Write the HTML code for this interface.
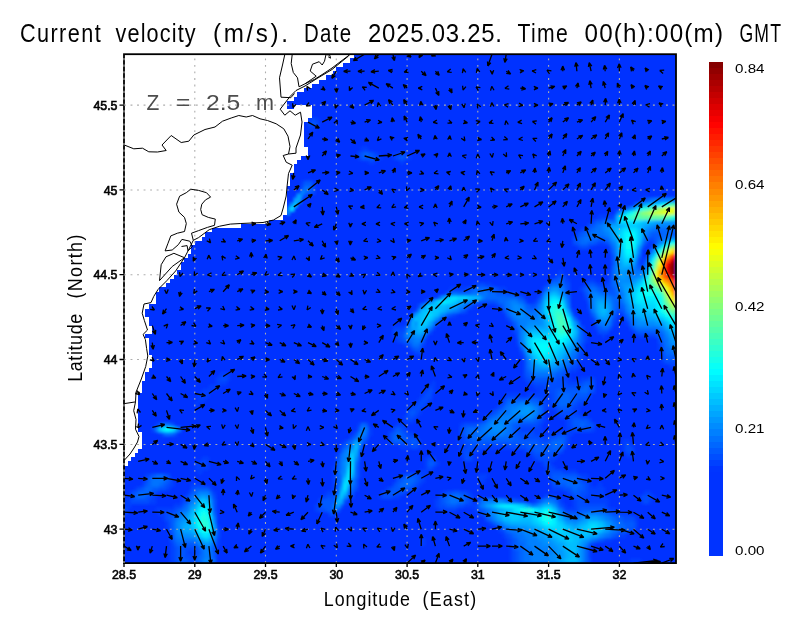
<!DOCTYPE html>
<html><head><meta charset="utf-8"><title>Current velocity</title>
<style>html,body{margin:0;padding:0;background:#fff}svg{display:block}text{font-family:"Liberation Sans",sans-serif;fill:#000}.thin{stroke:none}</style></head><body>
<svg width="800" height="618" viewBox="0 0 800 618">
<rect width="800" height="618" fill="#fff"/>
<defs><clipPath id="oc"><path d="M354,54h322v4h-322zM350,58h326v5h-326zM343,63h333v4h-333zM336,67h340v4h-340zM333,71h343v4h-343zM326,75h350v5h-350zM319,80h357v4h-357zM312,84h364v4h-364zM304,88h372v4h-372zM297,92h379v5h-379zM294,97h382v4h-382zM287,101h389v4h-389zM287,105h7v4h-7zM312,105h364v4h-364zM312,109h364v5h-364zM312,114h364v4h-364zM308,118h368v4h-368zM304,122h372v4h-372zM304,126h372v5h-372zM304,131h372v4h-372zM304,135h372v4h-372zM304,139h372v4h-372zM304,143h372v4h-372zM308,147h368v5h-368zM308,152h368v4h-368zM301,156h375v4h-375zM297,160h379v4h-379zM294,164h382v5h-382zM294,169h382v4h-382zM290,173h386v4h-386zM290,177h386v4h-386zM290,181h386v5h-386zM287,186h389v4h-389zM287,190h389v4h-389zM287,194h389v4h-389zM287,198h389v5h-389zM287,203h389v4h-389zM287,207h389v4h-389zM287,211h389v4h-389zM283,215h393v5h-393zM269,220h407v4h-407zM241,224h435v4h-435zM212,228h464v4h-464zM205,232h471v5h-471zM202,237h474v4h-474zM195,241h481v4h-481zM191,245h485v4h-485zM191,249h485v5h-485zM188,254h488v4h-488zM184,258h492v4h-492zM181,262h495v4h-495zM181,266h495v4h-495zM177,270h499v5h-499zM174,275h502v4h-502zM170,279h506v4h-506zM166,283h510v4h-510zM159,287h517v5h-517zM156,292h520v4h-520zM156,296h520v4h-520zM156,300h520v4h-520zM149,304h527v5h-527zM145,309h531v4h-531zM145,313h531v4h-531zM149,317h527v4h-527zM149,321h527v5h-527zM152,326h524v4h-524zM152,330h524v4h-524zM145,334h531v4h-531zM149,338h527v5h-527zM149,343h527v4h-527zM149,347h527v4h-527zM149,351h527v4h-527zM152,355h524v5h-524zM152,360h524v4h-524zM152,364h524v4h-524zM149,368h527v4h-527zM145,372h531v5h-531zM145,377h531v4h-531zM142,381h534v4h-534zM142,385h534v4h-534zM142,389h534v4h-534zM138,393h538v5h-538zM138,398h538v4h-538zM138,402h538v4h-538zM138,406h538v4h-538zM138,410h538v5h-538zM138,415h538v4h-538zM138,419h538v4h-538zM138,423h538v4h-538zM138,427h538v5h-538zM142,432h534v4h-534zM142,436h534v4h-534zM142,440h534v4h-534zM142,444h534v5h-534zM138,449h538v4h-538zM135,453h541v4h-541zM131,457h545v4h-545zM128,461h548v5h-548zM124,466h552v4h-552zM124,470h552v4h-552zM124,474h552v4h-552zM124,478h552v5h-552zM124,483h552v4h-552zM124,487h552v4h-552zM124,491h552v4h-552zM124,495h552v4h-552zM124,499h552v5h-552zM124,504h552v4h-552zM124,508h552v4h-552zM124,512h552v4h-552zM124,516h552v5h-552zM124,521h552v4h-552zM124,525h552v4h-552zM124,529h552v4h-552zM124,533h552v5h-552zM124,538h552v4h-552zM124,542h552v4h-552zM124,546h552v4h-552zM124,550h552v5h-552zM124,555h552v4h-552zM124,559h552v4h-552z"/></clipPath><filter id="bl" x="-5%" y="-5%" width="110%" height="110%"><feGaussianBlur stdDeviation="1.60"/></filter></defs>
<path d="M354,54h322v4h-322zM350,58h326v5h-326zM343,63h333v4h-333zM336,67h340v4h-340zM333,71h343v4h-343zM326,75h350v5h-350zM319,80h357v4h-357zM312,84h364v4h-364zM304,88h372v4h-372zM297,92h379v5h-379zM294,97h382v4h-382zM287,101h389v4h-389zM287,105h7v4h-7zM312,105h364v4h-364zM312,109h364v5h-364zM312,114h364v4h-364zM308,118h368v4h-368zM304,122h372v4h-372zM304,126h372v5h-372zM304,131h372v4h-372zM304,135h372v4h-372zM304,139h372v4h-372zM304,143h372v4h-372zM308,147h368v5h-368zM308,152h368v4h-368zM301,156h375v4h-375zM297,160h379v4h-379zM294,164h382v5h-382zM294,169h382v4h-382zM290,173h386v4h-386zM290,177h386v4h-386zM290,181h386v5h-386zM287,186h389v4h-389zM287,190h389v4h-389zM287,194h389v4h-389zM287,198h389v5h-389zM287,203h389v4h-389zM287,207h389v4h-389zM287,211h389v4h-389zM283,215h393v5h-393zM269,220h407v4h-407zM241,224h435v4h-435zM212,228h464v4h-464zM205,232h471v5h-471zM202,237h474v4h-474zM195,241h481v4h-481zM191,245h485v4h-485zM191,249h485v5h-485zM188,254h488v4h-488zM184,258h492v4h-492zM181,262h495v4h-495zM181,266h495v4h-495zM177,270h499v5h-499zM174,275h502v4h-502zM170,279h506v4h-506zM166,283h510v4h-510zM159,287h517v5h-517zM156,292h520v4h-520zM156,296h520v4h-520zM156,300h520v4h-520zM149,304h527v5h-527zM145,309h531v4h-531zM145,313h531v4h-531zM149,317h527v4h-527zM149,321h527v5h-527zM152,326h524v4h-524zM152,330h524v4h-524zM145,334h531v4h-531zM149,338h527v5h-527zM149,343h527v4h-527zM149,347h527v4h-527zM149,351h527v4h-527zM152,355h524v5h-524zM152,360h524v4h-524zM152,364h524v4h-524zM149,368h527v4h-527zM145,372h531v5h-531zM145,377h531v4h-531zM142,381h534v4h-534zM142,385h534v4h-534zM142,389h534v4h-534zM138,393h538v5h-538zM138,398h538v4h-538zM138,402h538v4h-538zM138,406h538v4h-538zM138,410h538v5h-538zM138,415h538v4h-538zM138,419h538v4h-538zM138,423h538v4h-538zM138,427h538v5h-538zM142,432h534v4h-534zM142,436h534v4h-534zM142,440h534v4h-534zM142,444h534v5h-534zM138,449h538v4h-538zM135,453h541v4h-541zM131,457h545v4h-545zM128,461h548v5h-548zM124,466h552v4h-552zM124,470h552v4h-552zM124,474h552v4h-552zM124,478h552v5h-552zM124,483h552v4h-552zM124,487h552v4h-552zM124,491h552v4h-552zM124,495h552v4h-552zM124,499h552v5h-552zM124,504h552v4h-552zM124,508h552v4h-552zM124,512h552v4h-552zM124,516h552v5h-552zM124,521h552v4h-552zM124,525h552v4h-552zM124,529h552v4h-552zM124,533h552v5h-552zM124,538h552v4h-552zM124,542h552v4h-552zM124,546h552v4h-552zM124,550h552v5h-552zM124,555h552v4h-552zM124,559h552v4h-552z" fill="#0033ff"/>
<g clip-path="url(#oc)"><g filter="url(#bl)">
<rect x="104" y="34" width="592" height="549" fill="#0033ff"/>
<path d="M308,118h4v4h-4zM315,118h4v4h-4zM308,126h7v5h-7zM361,147h7v5h-7zM375,152h4v4h-4zM393,152h7v4h-7zM358,156h3v4h-3zM379,156h3v4h-3zM393,156h3v4h-3zM407,156h4v4h-4zM368,160h7v4h-7zM400,160h4v4h-4zM301,181h3v5h-3zM312,181h3v5h-3zM304,194h4v4h-4zM623,207h3v4h-3zM598,215h14v5h-14zM591,220h4v4h-4zM580,228h4v4h-4zM598,241h7v4h-7zM651,241h4v4h-4zM577,245h3v4h-3zM588,245h3v4h-3zM609,249h3v5h-3zM648,249h3v5h-3zM559,270h4v5h-4zM609,270h3v5h-3zM609,275h3v4h-3zM549,279h3v4h-3zM566,279h4v4h-4zM588,279h7v4h-7zM474,283h4v4h-4zM485,283h7v4h-7zM545,283h4v4h-4zM584,283h4v4h-4zM598,283h11v4h-11zM450,287h17v5h-17zM499,287h7v5h-7zM542,287h3v5h-3zM580,287h4v5h-4zM517,292h3v4h-3zM435,296h4v4h-4zM584,296h4v4h-4zM534,300h4v4h-4zM471,304h3v5h-3zM496,304h3v5h-3zM414,309h4v4h-4zM588,309h3v4h-3zM411,313h3v4h-3zM453,313h4v4h-4zM616,313h3v4h-3zM506,317h4v4h-4zM591,317h4v4h-4zM510,321h3v5h-3zM612,321h4v5h-4zM626,321h4v5h-4zM393,326h11v4h-11zM595,326h3v4h-3zM513,330h4v4h-4zM393,334h3v4h-3zM584,334h4v4h-4zM602,334h3v4h-3zM637,334h18v4h-18zM396,338h4v5h-4zM584,338h4v5h-4zM404,343h3v4h-3zM421,343h4v4h-4zM517,343h3v4h-3zM658,343h4v4h-4zM658,347h4v4h-4zM414,351h4v4h-4zM520,351h4v4h-4zM580,351h4v4h-4zM580,355h4v5h-4zM577,360h3v4h-3zM662,360h3v4h-3zM577,364h3v4h-3zM669,364h7v4h-7zM570,368h7v4h-7zM220,372h10v5h-10zM566,372h4v5h-4zM216,377h4v4h-4zM227,377h3v4h-3zM524,377h3v4h-3zM563,377h7v4h-7zM580,377h8v4h-8zM591,377h4v4h-4zM216,381h11v4h-11zM432,381h3v4h-3zM527,381h7v4h-7zM566,381h14v4h-14zM209,385h11v4h-11zM428,385h7v4h-7zM534,385h11v4h-11zM202,389h10v4h-10zM425,389h3v4h-3zM432,389h3v4h-3zM538,389h11v4h-11zM198,393h11v5h-11zM421,393h4v5h-4zM506,393h14v5h-14zM527,393h25v5h-25zM198,398h7v4h-7zM418,398h3v4h-3zM428,398h4v4h-4zM503,398h3v4h-3zM542,398h10v4h-10zM195,402h3v4h-3zM414,402h4v4h-4zM425,402h3v4h-3zM499,402h4v4h-4zM545,402h7v4h-7zM577,402h7v4h-7zM407,406h4v4h-4zM421,406h4v4h-4zM496,406h3v4h-3zM545,406h4v4h-4zM552,406h4v4h-4zM573,406h7v4h-7zM418,410h3v5h-3zM556,410h3v5h-3zM573,410h7v5h-7zM404,415h3v4h-3zM414,415h4v4h-4zM485,415h3v4h-3zM542,415h3v4h-3zM559,415h7v4h-7zM580,415h8v4h-8zM404,419h10v4h-10zM481,419h4v4h-4zM542,419h3v4h-3zM566,419h4v4h-4zM156,423h3v4h-3zM358,423h3v4h-3zM396,423h11v4h-11zM460,423h4v4h-4zM538,423h4v4h-4zM566,423h4v4h-4zM368,427h4v5h-4zM404,427h3v5h-3zM520,427h22v5h-22zM566,427h7v5h-7zM591,427h4v5h-4zM159,432h4v4h-4zM368,432h4v4h-4zM407,432h7v4h-7zM534,432h11v4h-11zM549,432h10v4h-10zM566,432h7v4h-7zM457,436h7v4h-7zM542,436h7v4h-7zM566,436h4v4h-4zM343,440h4v4h-4zM365,440h3v4h-3zM418,440h3v4h-3zM457,440h7v4h-7zM566,440h4v4h-4zM623,440h7v4h-7zM340,444h3v5h-3zM361,444h4v5h-4zM400,444h11v5h-11zM418,444h3v5h-3zM460,444h7v5h-7zM488,444h22v5h-22zM623,444h3v5h-3zM630,444h4v5h-4zM460,449h4v4h-4zM471,449h10v4h-10zM524,449h3v4h-3zM623,449h3v4h-3zM336,453h4v4h-4zM460,453h4v4h-4zM471,453h3v4h-3zM531,453h3v4h-3zM556,453h3v4h-3zM626,453h8v4h-8zM202,457h7v4h-7zM425,457h3v4h-3zM471,457h3v4h-3zM534,457h4v4h-4zM549,457h7v4h-7zM195,461h7v5h-7zM205,461h4v5h-4zM358,461h3v5h-3zM425,461h3v5h-3zM435,461h4v5h-4zM542,461h3v5h-3zM549,461h3v5h-3zM195,466h14v4h-14zM333,466h3v4h-3zM358,466h3v4h-3zM425,466h3v4h-3zM432,466h3v4h-3zM545,466h4v4h-4zM552,466h4v4h-4zM198,470h4v4h-4zM333,470h3v4h-3zM358,470h3v4h-3zM418,470h10v4h-10zM545,470h4v4h-4zM563,470h14v4h-14zM145,474h4v4h-4zM333,474h3v4h-3zM358,474h3v4h-3zM400,474h4v4h-4zM421,474h4v4h-4zM478,474h10v4h-10zM580,474h8v4h-8zM170,478h4v5h-4zM333,478h3v5h-3zM421,478h4v5h-4zM478,478h7v5h-7zM549,478h3v5h-3zM584,478h7v5h-7zM142,483h3v4h-3zM170,483h4v4h-4zM191,483h14v4h-14zM333,483h3v4h-3zM418,483h3v4h-3zM588,483h3v4h-3zM598,483h4v4h-4zM135,487h3v4h-3zM166,487h4v4h-4zM209,487h3v4h-3zM333,487h3v4h-3zM386,487h3v4h-3zM414,487h4v4h-4zM552,487h11v4h-11zM588,487h17v4h-17zM156,491h3v4h-3zM188,491h3v4h-3zM212,491h4v4h-4zM326,491h7v4h-7zM404,491h3v4h-3zM442,491h4v4h-4zM467,491h4v4h-4zM566,491h4v4h-4zM588,491h17v4h-17zM644,491h7v4h-7zM128,495h3v4h-3zM152,495h4v4h-4zM184,495h4v4h-4zM322,495h4v4h-4zM350,495h4v4h-4zM379,495h3v4h-3zM393,495h7v4h-7zM471,495h3v4h-3zM556,495h3v4h-3zM570,495h3v4h-3zM584,495h21v4h-21zM651,495h4v4h-4zM124,499h7v5h-7zM149,499h7v5h-7zM181,499h3v5h-3zM435,499h4v5h-4zM471,499h3v5h-3zM524,499h3v5h-3zM534,499h4v5h-4zM559,499h4v5h-4zM573,499h4v5h-4zM584,499h25v5h-25zM641,499h3v5h-3zM648,499h3v5h-3zM124,504h7v4h-7zM174,504h7v4h-7zM315,504h4v4h-4zM435,504h4v4h-4zM464,504h14v4h-14zM563,504h3v4h-3zM573,504h4v4h-4zM605,504h4v4h-4zM156,508h18v4h-18zM315,508h4v4h-4zM439,508h18v4h-18zM474,508h4v4h-4zM566,508h11v4h-11zM609,508h7v4h-7zM124,512h4v4h-4zM159,512h7v4h-7zM478,512h3v4h-3zM619,512h11v4h-11zM163,516h3v5h-3zM634,516h3v5h-3zM166,521h4v4h-4zM488,521h4v4h-4zM166,525h4v4h-4zM216,525h4v4h-4zM496,525h3v4h-3zM499,529h4v4h-4zM503,533h3v5h-3zM619,533h7v5h-7zM216,538h4v4h-4zM421,538h4v4h-4zM506,538h4v4h-4zM605,538h7v4h-7zM170,542h4v4h-4zM216,542h4v4h-4zM421,542h4v4h-4zM506,542h4v4h-4zM591,542h4v4h-4zM170,546h4v4h-4zM510,546h3v4h-3zM588,546h3v4h-3zM170,550h4v5h-4zM188,550h7v5h-7zM510,550h3v5h-3zM588,550h3v5h-3zM170,555h4v4h-4zM191,555h4v4h-4zM510,555h3v4h-3zM588,555h3v4h-3zM170,559h4v4h-4zM510,559h3v4h-3zM630,559h11v4h-11z" fill="#0041ff"/>
<path d="M312,118h3v4h-3zM308,122h4v4h-4zM315,122h4v4h-4zM358,152h3v4h-3zM372,152h3v4h-3zM400,152h7v4h-7zM375,156h4v4h-4zM396,156h4v4h-4zM404,156h3v4h-3zM301,186h3v4h-3zM312,186h3v4h-3zM312,190h3v4h-3zM641,198h3v5h-3zM612,215h4v5h-4zM588,224h3v4h-3zM584,228h4v4h-4zM577,232h3v5h-3zM573,237h4v4h-4zM648,237h7v4h-7zM573,241h4v4h-4zM595,241h3v4h-3zM605,241h4v4h-4zM644,241h4v4h-4zM580,245h8v4h-8zM609,245h3v4h-3zM651,245h4v4h-4zM637,258h4v4h-4zM644,258h4v4h-4zM637,262h4v4h-4zM641,266h3v4h-3zM556,275h10v4h-10zM563,279h3v4h-3zM609,279h3v4h-3zM478,283h7v4h-7zM566,283h4v4h-4zM595,283h3v4h-3zM609,283h3v4h-3zM467,287h4v5h-4zM496,287h3v5h-3zM566,287h4v5h-4zM602,287h10v5h-10zM506,292h11v4h-11zM584,292h4v4h-4zM520,296h4v4h-4zM538,296h4v4h-4zM425,300h3v4h-3zM478,300h18v4h-18zM524,300h3v4h-3zM418,304h3v5h-3zM467,304h4v5h-4zM499,304h4v5h-4zM531,304h3v5h-3zM588,304h3v5h-3zM464,309h3v4h-3zM503,309h3v4h-3zM570,309h3v4h-3zM616,309h7v4h-7zM450,313h3v4h-3zM623,313h3v4h-3zM612,317h4v4h-4zM435,321h4v5h-4zM595,321h3v5h-3zM404,326h3v4h-3zM432,326h3v4h-3zM513,326h4v4h-4zM580,326h4v4h-4zM609,326h3v4h-3zM630,326h4v4h-4zM393,330h11v4h-11zM428,330h4v4h-4zM598,330h11v4h-11zM634,330h3v4h-3zM396,334h8v4h-8zM425,334h3v4h-3zM655,334h3v4h-3zM400,338h4v5h-4zM517,338h3v5h-3zM658,338h4v5h-4zM407,343h4v4h-4zM580,343h4v4h-4zM411,347h3v4h-3zM580,347h4v4h-4zM418,351h3v4h-3zM662,351h3v4h-3zM577,355h3v5h-3zM662,355h3v5h-3zM524,360h3v4h-3zM665,360h11v4h-11zM524,364h3v4h-3zM570,364h7v4h-7zM524,368h3v4h-3zM566,368h4v4h-4zM524,372h3v5h-3zM563,372h3v5h-3zM220,377h7v4h-7zM527,377h4v4h-4zM556,377h7v4h-7zM588,377h3v4h-3zM534,381h32v4h-32zM580,381h4v4h-4zM591,381h4v4h-4zM545,385h32v4h-32zM591,385h4v4h-4zM428,389h4v4h-4zM549,389h7v4h-7zM591,389h4v4h-4zM425,393h7v5h-7zM552,393h4v5h-4zM588,393h3v5h-3zM421,398h7v4h-7zM538,398h4v4h-4zM552,398h4v4h-4zM577,398h11v4h-11zM418,402h7v4h-7zM503,402h3v4h-3zM542,402h3v4h-3zM552,402h4v4h-4zM573,402h4v4h-4zM411,406h10v4h-10zM499,406h4v4h-4zM542,406h3v4h-3zM556,406h3v4h-3zM570,406h3v4h-3zM407,410h4v5h-4zM414,410h4v5h-4zM492,410h4v5h-4zM542,410h3v5h-3zM559,410h14v5h-14zM407,415h7v4h-7zM566,415h14v4h-14zM538,419h4v4h-4zM570,419h3v4h-3zM588,419h3v4h-3zM464,423h14v4h-14zM520,423h18v4h-18zM570,423h3v4h-3zM591,423h4v4h-4zM152,427h4v5h-4zM393,427h3v5h-3zM400,427h4v5h-4zM460,427h4v5h-4zM517,427h3v5h-3zM573,427h18v5h-18zM174,432h3v4h-3zM354,432h4v4h-4zM389,432h4v4h-4zM404,432h3v4h-3zM460,432h4v4h-4zM517,432h17v4h-17zM559,432h7v4h-7zM350,436h4v4h-4zM389,436h4v4h-4zM407,436h11v4h-11zM464,436h3v4h-3zM520,436h22v4h-22zM549,436h7v4h-7zM389,440h4v4h-4zM404,440h7v4h-7zM464,440h7v4h-7zM538,440h11v4h-11zM411,444h7v5h-7zM467,444h21v5h-21zM510,444h17v5h-17zM563,444h3v5h-3zM626,444h4v5h-4zM340,449h3v4h-3zM464,449h7v4h-7zM527,449h7v4h-7zM559,449h4v4h-4zM626,449h8v4h-8zM358,453h3v4h-3zM464,453h7v4h-7zM534,453h8v4h-8zM545,453h11v4h-11zM336,457h4v4h-4zM358,457h3v4h-3zM428,457h7v4h-7zM464,457h7v4h-7zM538,457h11v4h-11zM202,461h3v5h-3zM545,461h4v5h-4zM428,466h4v4h-4zM549,466h3v4h-3zM549,470h14v4h-14zM149,474h3v4h-3zM166,474h4v4h-4zM404,474h3v4h-3zM418,474h3v4h-3zM549,474h3v4h-3zM577,474h3v4h-3zM145,478h4v5h-4zM396,478h4v5h-4zM418,478h3v5h-3zM580,478h4v5h-4zM166,483h4v4h-4zM393,483h3v4h-3zM414,483h4v4h-4zM552,483h7v4h-7zM584,483h4v4h-4zM138,487h4v4h-4zM159,487h7v4h-7zM191,487h4v4h-4zM354,487h4v4h-4zM389,487h4v4h-4zM407,487h7v4h-7zM563,487h7v4h-7zM584,487h4v4h-4zM131,491h4v4h-4zM152,491h4v4h-4zM333,491h3v4h-3zM382,491h7v4h-7zM396,491h8v4h-8zM446,491h7v4h-7zM460,491h7v4h-7zM570,491h3v4h-3zM580,491h8v4h-8zM131,495h4v4h-4zM149,495h3v4h-3zM212,495h4v4h-4zM326,495h10v4h-10zM382,495h11v4h-11zM439,495h3v4h-3zM467,495h4v4h-4zM545,495h11v4h-11zM573,495h11v4h-11zM641,495h10v4h-10zM131,499h18v5h-18zM184,499h4v5h-4zM319,499h3v5h-3zM343,499h4v5h-4zM439,499h3v5h-3zM467,499h4v5h-4zM517,499h7v5h-7zM577,499h7v5h-7zM644,499h4v5h-4zM181,504h3v4h-3zM319,504h3v4h-3zM439,504h7v4h-7zM457,504h7v4h-7zM559,504h4v4h-4zM577,504h28v4h-28zM124,508h4v4h-4zM174,508h3v4h-3zM319,508h7v4h-7zM478,508h3v4h-3zM563,508h3v4h-3zM577,508h3v4h-3zM605,508h4v4h-4zM166,512h8v4h-8zM329,512h7v4h-7zM481,512h4v4h-4zM612,512h7v4h-7zM166,516h4v5h-4zM485,516h3v5h-3zM623,516h11v5h-11zM634,521h3v4h-3zM634,525h3v4h-3zM216,529h4v4h-4zM503,529h3v4h-3zM626,529h8v4h-8zM170,533h4v5h-4zM216,533h4v5h-4zM506,533h4v5h-4zM616,533h3v5h-3zM170,538h4v4h-4zM510,538h3v4h-3zM602,538h3v4h-3zM510,542h3v4h-3zM174,546h3v4h-3zM184,546h14v4h-14zM174,550h3v5h-3zM184,550h4v5h-4zM195,550h3v5h-3zM513,550h4v5h-4zM174,555h3v4h-3zM184,555h7v4h-7zM195,555h3v4h-3zM513,555h4v4h-4zM174,559h3v4h-3zM188,559h7v4h-7zM513,559h4v4h-4zM588,559h3v4h-3z" fill="#004eff"/>
<path d="M312,122h3v4h-3zM361,152h4v4h-4zM368,152h4v4h-4zM361,156h14v4h-14zM400,156h4v4h-4zM304,181h8v5h-8zM308,190h4v4h-4zM644,198h4v5h-4zM634,203h3v4h-3zM595,220h7v4h-7zM591,224h4v4h-4zM588,228h3v4h-3zM580,232h4v5h-4zM651,232h11v5h-11zM672,232h4v5h-4zM577,237h3v4h-3zM598,237h7v4h-7zM655,237h3v4h-3zM577,241h3v4h-3zM588,241h7v4h-7zM655,241h3v4h-3zM641,245h3v4h-3zM612,254h4v4h-4zM612,258h4v4h-4zM612,262h4v4h-4zM637,266h4v4h-4zM552,279h7v4h-7zM563,283h3v4h-3zM588,283h7v4h-7zM471,287h3v5h-3zM488,287h8v5h-8zM584,287h4v5h-4zM598,287h4v5h-4zM612,287h4v5h-4zM446,292h4v4h-4zM496,292h10v4h-10zM566,292h4v4h-4zM609,292h7v4h-7zM517,296h3v4h-3zM496,300h3v4h-3zM588,300h3v4h-3zM616,300h3v4h-3zM527,304h4v5h-4zM534,304h4v5h-4zM616,304h7v5h-7zM460,309h4v4h-4zM623,309h3v4h-3zM446,313h4v4h-4zM506,313h4v4h-4zM591,313h4v4h-4zM612,313h4v4h-4zM439,317h3v4h-3zM510,317h3v4h-3zM626,317h4v4h-4zM407,321h4v5h-4zM513,321h4v5h-4zM598,326h4v4h-4zM404,330h3v4h-3zM517,330h3v4h-3zM580,330h4v4h-4zM637,330h21v4h-21zM517,334h3v4h-3zM580,334h4v4h-4zM658,334h4v4h-4zM404,338h3v5h-3zM421,338h4v5h-4zM580,338h4v5h-4zM662,343h3v4h-3zM414,347h7v4h-7zM520,347h4v4h-4zM662,347h3v4h-3zM577,351h3v4h-3zM524,355h3v5h-3zM665,355h11v5h-11zM573,360h4v4h-4zM563,368h3v4h-3zM527,372h4v5h-4zM556,372h7v5h-7zM531,377h25v4h-25zM584,381h7v4h-7zM577,385h7v4h-7zM588,385h3v4h-3zM556,389h24v4h-24zM588,389h3v4h-3zM556,393h3v5h-3zM570,393h18v5h-18zM506,398h32v4h-32zM556,398h3v4h-3zM570,398h7v4h-7zM538,402h4v4h-4zM556,402h3v4h-3zM570,402h3v4h-3zM559,406h11v4h-11zM411,410h3v5h-3zM496,410h3v5h-3zM488,415h4v4h-4zM538,415h4v4h-4zM485,419h3v4h-3zM534,419h4v4h-4zM573,419h15v4h-15zM159,423h4v4h-4zM170,423h4v4h-4zM365,423h3v4h-3zM478,423h3v4h-3zM513,423h7v4h-7zM573,423h7v4h-7zM584,423h7v4h-7zM358,427h3v5h-3zM396,427h4v5h-4zM464,427h3v5h-3zM513,427h4v5h-4zM393,432h3v4h-3zM400,432h4v4h-4zM464,432h3v4h-3zM513,432h4v4h-4zM365,436h3v4h-3zM400,436h7v4h-7zM467,436h4v4h-4zM513,436h7v4h-7zM556,436h10v4h-10zM347,440h3v4h-3zM361,440h4v4h-4zM393,440h11v4h-11zM411,440h7v4h-7zM471,440h67v4h-67zM549,440h3v4h-3zM563,440h3v4h-3zM343,444h4v5h-4zM527,444h25v5h-25zM358,449h3v4h-3zM534,449h25v4h-25zM542,453h3v4h-3zM336,461h4v5h-4zM428,461h7v5h-7zM336,466h4v4h-4zM336,470h4v4h-4zM152,474h4v4h-4zM163,474h3v4h-3zM336,474h4v4h-4zM407,474h11v4h-11zM552,474h25v4h-25zM166,478h4v5h-4zM336,478h4v5h-4zM354,478h4v5h-4zM400,478h4v5h-4zM414,478h4v5h-4zM552,478h7v5h-7zM577,478h3v5h-3zM145,483h4v4h-4zM163,483h3v4h-3zM336,483h4v4h-4zM354,483h4v4h-4zM396,483h4v4h-4zM411,483h3v4h-3zM559,483h7v4h-7zM580,483h4v4h-4zM142,487h3v4h-3zM152,487h7v4h-7zM195,487h14v4h-14zM336,487h4v4h-4zM393,487h14v4h-14zM570,487h3v4h-3zM577,487h7v4h-7zM135,491h3v4h-3zM149,491h3v4h-3zM191,491h4v4h-4zM336,491h4v4h-4zM350,491h4v4h-4zM389,491h7v4h-7zM453,491h7v4h-7zM573,491h7v4h-7zM145,495h4v4h-4zM188,495h3v4h-3zM347,495h3v4h-3zM442,495h4v4h-4zM464,495h3v4h-3zM212,499h4v5h-4zM322,499h14v5h-14zM442,499h4v5h-4zM464,499h3v5h-3zM478,499h3v5h-3zM510,499h7v5h-7zM538,499h4v5h-4zM556,499h3v5h-3zM212,504h4v4h-4zM322,504h11v4h-11zM340,504h3v4h-3zM446,504h11v4h-11zM177,508h4v4h-4zM212,508h4v4h-4zM326,508h7v4h-7zM336,508h4v4h-4zM481,508h4v4h-4zM580,508h25v4h-25zM174,512h3v4h-3zM566,512h14v4h-14zM609,512h3v4h-3zM170,516h4v5h-4zM616,516h7v5h-7zM170,521h4v4h-4zM492,521h4v4h-4zM623,521h11v4h-11zM170,525h4v4h-4zM499,525h4v4h-4zM626,525h8v4h-8zM170,529h4v4h-4zM619,529h7v4h-7zM510,533h3v5h-3zM612,533h4v5h-4zM513,538h4v4h-4zM598,538h4v4h-4zM174,542h3v4h-3zM184,542h11v4h-11zM513,542h4v4h-4zM588,542h3v4h-3zM177,546h7v4h-7zM212,546h4v4h-4zM513,546h4v4h-4zM177,550h7v5h-7zM198,550h4v5h-4zM212,550h4v5h-4zM517,550h3v5h-3zM177,555h7v4h-7zM212,555h4v4h-4zM517,555h3v4h-3zM177,559h11v4h-11zM195,559h3v4h-3zM517,559h3v4h-3z" fill="#005aff"/>
<path d="M365,152h3v4h-3zM308,186h4v4h-4zM304,190h4v4h-4zM301,194h3v4h-3zM648,198h3v5h-3zM626,207h4v4h-4zM616,211h3v4h-3zM602,220h3v4h-3zM595,224h3v4h-3zM591,228h4v4h-4zM655,228h21v4h-21zM584,232h7v5h-7zM648,232h3v5h-3zM662,232h10v5h-10zM580,237h4v4h-4zM591,237h7v4h-7zM605,237h4v4h-4zM644,237h4v4h-4zM658,237h4v4h-4zM580,241h8v4h-8zM609,241h3v4h-3zM612,249h4v5h-4zM637,254h4v4h-4zM644,262h4v4h-4zM612,266h4v4h-4zM612,270h4v5h-4zM612,275h4v4h-4zM559,279h4v4h-4zM612,279h4v4h-4zM549,283h3v4h-3zM612,283h4v4h-4zM474,287h14v5h-14zM545,287h4v5h-4zM563,287h3v5h-3zM588,287h3v5h-3zM595,287h3v5h-3zM450,292h3v4h-3zM457,292h14v4h-14zM488,292h8v4h-8zM542,292h3v4h-3zM588,292h3v4h-3zM602,292h7v4h-7zM616,292h3v4h-3zM485,296h32v4h-32zM566,296h4v4h-4zM588,296h3v4h-3zM612,296h7v4h-7zM474,300h4v4h-4zM499,300h7v4h-7zM520,300h4v4h-4zM538,300h4v4h-4zM612,300h4v4h-4zM619,300h4v4h-4zM464,304h3v5h-3zM503,304h3v5h-3zM524,304h3v5h-3zM612,304h4v5h-4zM623,304h3v5h-3zM506,309h4v4h-4zM527,309h7v4h-7zM612,309h4v4h-4zM626,313h4v4h-4zM573,317h4v4h-4zM595,317h3v4h-3zM577,321h3v5h-3zM609,321h3v5h-3zM630,321h4v5h-4zM517,326h3v4h-3zM602,326h7v4h-7zM634,326h3v4h-3zM658,330h4v4h-4zM662,334h3v4h-3zM407,338h4v5h-4zM662,338h3v5h-3zM411,343h3v4h-3zM418,343h3v4h-3zM577,347h3v4h-3zM665,347h4v4h-4zM665,351h7v4h-7zM573,355h4v5h-4zM570,360h3v4h-3zM566,364h4v4h-4zM527,368h4v4h-4zM559,368h4v4h-4zM531,372h3v5h-3zM552,372h4v5h-4zM584,385h4v4h-4zM580,389h8v4h-8zM559,393h11v5h-11zM559,398h11v4h-11zM506,402h4v4h-4zM534,402h4v4h-4zM559,402h11v4h-11zM503,406h3v4h-3zM538,406h4v4h-4zM499,410h4v5h-4zM538,410h4v5h-4zM492,415h4v4h-4zM517,419h17v4h-17zM361,423h4v4h-4zM481,423h4v4h-4zM510,423h3v4h-3zM580,423h4v4h-4zM467,427h14v5h-14zM510,427h3v5h-3zM163,432h3v4h-3zM170,432h4v4h-4zM365,432h3v4h-3zM396,432h4v4h-4zM467,432h11v4h-11zM510,432h3v4h-3zM354,436h4v4h-4zM361,436h4v4h-4zM393,436h7v4h-7zM471,436h42v4h-42zM350,440h4v4h-4zM552,440h11v4h-11zM552,444h11v5h-11zM340,453h3v4h-3zM354,466h4v4h-4zM354,470h4v4h-4zM156,474h7v4h-7zM354,474h4v4h-4zM149,478h3v5h-3zM163,478h3v5h-3zM404,478h10v5h-10zM559,478h18v5h-18zM149,483h3v4h-3zM159,483h4v4h-4zM400,483h11v4h-11zM566,483h14v4h-14zM145,487h7v4h-7zM350,487h4v4h-4zM573,487h4v4h-4zM138,491h11v4h-11zM195,491h3v4h-3zM209,491h3v4h-3zM347,491h3v4h-3zM135,495h10v4h-10zM446,495h4v4h-4zM460,495h4v4h-4zM188,499h3v5h-3zM446,499h4v5h-4zM457,499h7v5h-7zM506,499h4v5h-4zM184,504h4v4h-4zM478,504h3v4h-3zM181,508h3v4h-3zM485,508h3v4h-3zM177,512h4v4h-4zM212,512h4v4h-4zM485,512h3v4h-3zM580,512h4v4h-4zM605,512h4v4h-4zM174,516h3v5h-3zM488,516h4v5h-4zM612,516h4v5h-4zM616,521h7v4h-7zM619,525h7v4h-7zM506,529h4v4h-4zM616,529h3v4h-3zM513,533h4v5h-4zM609,533h3v5h-3zM174,538h3v4h-3zM517,538h3v4h-3zM595,538h3v4h-3zM177,542h7v4h-7zM195,542h3v4h-3zM212,542h4v4h-4zM517,542h7v4h-7zM198,546h4v4h-4zM517,546h7v4h-7zM584,546h4v4h-4zM520,550h4v5h-4zM584,550h4v5h-4zM198,555h4v4h-4zM520,555h4v4h-4zM584,555h4v4h-4zM198,559h4v4h-4zM212,559h4v4h-4zM520,559h4v4h-4zM584,559h4v4h-4z" fill="#0067ff"/>
<path d="M304,186h4v4h-4zM651,198h4v5h-4zM605,220h11v4h-11zM598,224h4v4h-4zM595,228h7v4h-7zM651,228h4v4h-4zM591,232h14v5h-14zM584,237h7v4h-7zM662,237h7v4h-7zM612,245h4v4h-4zM648,254h3v4h-3zM634,266h3v4h-3zM644,266h4v4h-4zM634,270h7v5h-7zM552,283h11v4h-11zM616,283h3v4h-3zM591,287h4v5h-4zM616,287h3v5h-3zM453,292h4v4h-4zM471,292h17v4h-17zM598,292h4v4h-4zM619,292h4v4h-4zM439,296h3v4h-3zM609,296h3v4h-3zM619,296h4v4h-4zM471,300h3v4h-3zM506,300h4v4h-4zM517,300h3v4h-3zM566,300h4v4h-4zM506,304h4v5h-4zM457,309h3v4h-3zM524,309h3v4h-3zM534,309h4v4h-4zM591,309h4v4h-4zM510,313h3v4h-3zM527,313h11v4h-11zM513,317h4v4h-4zM609,317h3v4h-3zM630,317h4v4h-4zM517,321h3v5h-3zM598,321h4v5h-4zM520,326h4v4h-4zM637,326h21v4h-21zM662,330h3v4h-3zM404,334h3v4h-3zM411,338h3v5h-3zM577,338h3v5h-3zM665,338h4v5h-4zM414,343h4v4h-4zM520,343h4v4h-4zM577,343h3v4h-3zM665,343h4v4h-4zM669,347h3v4h-3zM524,351h3v4h-3zM573,351h4v4h-4zM672,351h4v4h-4zM570,355h3v5h-3zM527,360h4v4h-4zM566,360h4v4h-4zM527,364h4v4h-4zM563,364h3v4h-3zM556,368h3v4h-3zM534,372h18v5h-18zM510,402h10v4h-10zM531,402h3v4h-3zM506,406h4v4h-4zM503,410h7v5h-7zM496,415h3v4h-3zM534,415h4v4h-4zM488,419h4v4h-4zM510,419h7v4h-7zM163,423h7v4h-7zM485,423h3v4h-3zM506,423h4v4h-4zM177,427h4v5h-4zM365,427h3v5h-3zM481,427h4v5h-4zM506,427h4v5h-4zM166,432h4v4h-4zM478,432h10v4h-10zM503,432h7v4h-7zM347,444h3v5h-3zM343,449h4v4h-4zM340,457h3v4h-3zM340,461h3v5h-3zM354,461h4v5h-4zM340,466h3v4h-3zM340,474h3v4h-3zM152,478h11v5h-11zM340,478h3v5h-3zM152,483h7v4h-7zM350,483h4v4h-4zM191,495h4v4h-4zM450,495h10v4h-10zM450,499h7v5h-7zM481,499h4v5h-4zM542,499h3v5h-3zM552,499h4v5h-4zM531,504h3v4h-3zM556,504h3v4h-3zM184,508h4v4h-4zM488,508h4v4h-4zM559,508h4v4h-4zM563,512h3v4h-3zM584,512h4v4h-4zM598,512h7v4h-7zM570,516h10v5h-10zM609,516h3v5h-3zM174,521h3v4h-3zM496,521h3v4h-3zM612,521h4v4h-4zM174,525h3v4h-3zM503,525h3v4h-3zM616,525h3v4h-3zM174,529h3v4h-3zM510,529h7v4h-7zM612,529h4v4h-4zM174,533h3v5h-3zM517,533h7v5h-7zM605,533h4v5h-4zM177,538h18v4h-18zM520,538h7v4h-7zM591,538h4v4h-4zM524,542h3v4h-3zM202,546h3v4h-3zM209,546h3v4h-3zM524,546h7v4h-7zM202,550h3v5h-3zM209,550h3v5h-3zM524,550h7v5h-7zM202,555h3v4h-3zM209,555h3v4h-3zM524,555h7v4h-7zM524,559h7v4h-7z" fill="#0073ff"/>
<path d="M655,198h21v5h-21zM637,203h4v4h-4zM287,207h3v4h-3zM602,224h3v4h-3zM655,224h21v4h-21zM602,228h3v4h-3zM648,228h3v4h-3zM605,232h4v5h-4zM644,232h4v5h-4zM609,237h3v4h-3zM669,237h3v4h-3zM612,241h4v4h-4zM641,241h3v4h-3zM658,241h4v4h-4zM655,245h3v4h-3zM637,249h4v5h-4zM651,249h4v5h-4zM634,262h3v4h-3zM630,270h4v5h-4zM641,270h3v5h-3zM616,275h3v4h-3zM630,275h7v4h-7zM616,279h3v4h-3zM559,287h4v5h-4zM619,287h4v5h-4zM563,292h3v4h-3zM591,292h7v4h-7zM481,296h4v4h-4zM542,296h3v4h-3zM591,296h4v4h-4zM605,296h4v4h-4zM428,300h4v4h-4zM467,300h4v4h-4zM510,300h7v4h-7zM591,300h4v4h-4zM609,300h3v4h-3zM623,300h3v4h-3zM421,304h4v5h-4zM460,304h4v5h-4zM510,304h3v5h-3zM520,304h4v5h-4zM538,304h4v5h-4zM566,304h4v5h-4zM591,304h4v5h-4zM453,309h4v4h-4zM510,309h3v4h-3zM626,309h4v4h-4zM442,313h4v4h-4zM513,313h4v4h-4zM524,313h3v4h-3zM570,313h3v4h-3zM595,313h3v4h-3zM609,313h3v4h-3zM517,317h21v4h-21zM432,321h3v5h-3zM520,321h7v5h-7zM602,321h7v5h-7zM634,321h3v5h-3zM407,326h4v4h-4zM428,326h4v4h-4zM577,326h3v4h-3zM658,326h4v4h-4zM411,330h3v4h-3zM425,330h3v4h-3zM520,330h4v4h-4zM411,334h3v4h-3zM421,334h4v4h-4zM520,334h4v4h-4zM577,334h3v4h-3zM665,334h4v4h-4zM414,338h7v5h-7zM520,338h4v5h-4zM669,343h3v4h-3zM573,347h4v4h-4zM672,347h4v4h-4zM570,351h3v4h-3zM563,360h3v4h-3zM559,364h4v4h-4zM531,368h3v4h-3zM552,368h4v4h-4zM520,402h11v4h-11zM510,406h7v4h-7zM534,406h4v4h-4zM510,410h3v5h-3zM534,410h4v5h-4zM499,415h25v4h-25zM531,415h3v4h-3zM492,419h18v4h-18zM488,423h4v4h-4zM503,423h3v4h-3zM361,427h4v5h-4zM485,427h7v5h-7zM503,427h3v5h-3zM358,432h7v4h-7zM488,432h15v4h-15zM350,444h4v5h-4zM358,444h3v5h-3zM343,453h4v4h-4zM343,457h4v4h-4zM340,470h3v4h-3zM350,478h4v5h-4zM340,483h3v4h-3zM198,491h11v4h-11zM195,495h3v4h-3zM209,495h3v4h-3zM191,499h4v5h-4zM485,499h11v5h-11zM503,499h3v5h-3zM545,499h7v5h-7zM188,504h3v4h-3zM333,504h3v4h-3zM481,504h4v4h-4zM534,504h4v4h-4zM333,508h3v4h-3zM181,512h3v4h-3zM488,512h4v4h-4zM588,512h10v4h-10zM177,516h4v5h-4zM212,516h4v5h-4zM492,516h4v5h-4zM566,516h4v5h-4zM605,516h4v5h-4zM499,521h4v4h-4zM506,525h4v4h-4zM612,525h4v4h-4zM517,529h7v4h-7zM609,529h3v4h-3zM177,533h4v5h-4zM524,533h7v5h-7zM602,533h3v5h-3zM195,538h3v4h-3zM212,538h4v4h-4zM527,538h11v4h-11zM198,542h4v4h-4zM527,542h15v4h-15zM584,542h4v4h-4zM205,546h4v4h-4zM531,546h18v4h-18zM205,550h4v5h-4zM531,550h21v5h-21zM205,555h4v4h-4zM531,555h18v4h-18zM202,559h3v4h-3zM209,559h3v4h-3zM531,559h18v4h-18z" fill="#0080ff"/>
<path d="M301,190h3v4h-3zM630,207h4v4h-4zM287,211h3v4h-3zM605,224h4v4h-4zM651,224h4v4h-4zM605,228h4v4h-4zM644,228h4v4h-4zM609,232h3v5h-3zM616,254h3v4h-3zM616,258h3v4h-3zM616,262h3v4h-3zM616,266h3v4h-3zM630,266h4v4h-4zM616,270h3v5h-3zM626,270h4v5h-4zM626,275h4v4h-4zM637,275h4v4h-4zM619,279h15v4h-15zM619,283h4v4h-4zM549,287h3v5h-3zM623,292h3v4h-3zM595,296h10v4h-10zM623,296h3v4h-3zM457,304h3v5h-3zM513,304h7v5h-7zM609,304h3v5h-3zM626,304h4v5h-4zM418,309h3v4h-3zM450,309h3v4h-3zM513,309h11v4h-11zM538,309h4v4h-4zM609,309h3v4h-3zM517,313h7v4h-7zM538,313h4v4h-4zM630,313h4v4h-4zM435,317h4v4h-4zM538,317h4v4h-4zM598,317h4v4h-4zM634,317h3v4h-3zM527,321h15v5h-15zM637,321h18v5h-18zM524,326h3v4h-3zM662,326h3v4h-3zM577,330h3v4h-3zM665,330h4v4h-4zM407,334h4v4h-4zM414,334h4v4h-4zM669,338h3v5h-3zM573,343h4v4h-4zM672,343h4v4h-4zM524,347h3v4h-3zM527,355h4v5h-4zM566,355h4v5h-4zM531,364h3v4h-3zM556,364h3v4h-3zM534,368h18v4h-18zM517,406h7v4h-7zM531,406h3v4h-3zM513,410h7v5h-7zM531,410h3v5h-3zM524,415h7v4h-7zM492,423h11v4h-11zM156,427h3v5h-3zM492,427h11v5h-11zM347,449h3v4h-3zM347,453h3v4h-3zM347,457h3v4h-3zM354,457h4v4h-4zM343,461h4v5h-4zM343,466h4v4h-4zM343,470h4v4h-4zM347,487h3v4h-3zM336,495h4v4h-4zM343,495h4v4h-4zM496,499h7v5h-7zM188,508h3v4h-3zM492,508h4v4h-4zM184,512h4v4h-4zM492,512h4v4h-4zM559,512h4v4h-4zM181,516h3v5h-3zM563,516h3v5h-3zM580,516h4v5h-4zM602,516h3v5h-3zM177,521h4v4h-4zM212,521h4v4h-4zM573,521h4v4h-4zM609,521h3v4h-3zM177,525h4v4h-4zM510,525h7v4h-7zM609,525h3v4h-3zM177,529h4v4h-4zM524,529h7v4h-7zM181,533h10v5h-10zM212,533h4v5h-4zM531,533h7v5h-7zM598,533h4v5h-4zM538,538h7v4h-7zM588,538h3v4h-3zM202,542h3v4h-3zM209,542h3v4h-3zM542,542h10v4h-10zM549,546h7v4h-7zM580,546h4v4h-4zM552,550h4v5h-4zM580,550h4v5h-4zM549,555h7v4h-7zM580,555h4v4h-4zM205,559h4v4h-4zM549,559h7v4h-7zM580,559h4v4h-4z" fill="#008cff"/>
<path d="M290,203h4v4h-4zM641,203h3v4h-3zM619,211h4v4h-4zM662,220h14v4h-14zM609,224h3v4h-3zM648,224h3v4h-3zM609,228h3v4h-3zM612,237h4v4h-4zM641,237h3v4h-3zM672,237h4v4h-4zM662,241h3v4h-3zM616,245h3v4h-3zM637,245h4v4h-4zM616,249h3v5h-3zM634,258h3v4h-3zM648,258h3v4h-3zM619,270h7v5h-7zM619,275h7v4h-7zM634,279h3v4h-3zM623,283h7v4h-7zM552,287h7v5h-7zM623,287h3v5h-3zM545,292h4v4h-4zM559,292h4v4h-4zM563,296h3v4h-3zM464,300h3v4h-3zM542,300h3v4h-3zM595,300h3v4h-3zM605,300h4v4h-4zM626,300h4v4h-4zM595,304h3v5h-3zM446,309h4v4h-4zM595,309h3v4h-3zM630,309h4v4h-4zM414,313h4v4h-4zM439,313h3v4h-3zM411,317h3v4h-3zM542,317h3v4h-3zM602,317h7v4h-7zM637,317h4v4h-4zM414,321h4v5h-4zM542,321h3v5h-3zM573,321h4v5h-4zM655,321h7v5h-7zM527,326h7v4h-7zM407,330h4v4h-4zM524,330h3v4h-3zM418,334h3v4h-3zM669,334h3v4h-3zM573,338h4v5h-4zM672,338h4v5h-4zM524,343h3v4h-3zM570,347h3v4h-3zM566,351h4v4h-4zM563,355h3v5h-3zM531,360h3v4h-3zM559,360h4v4h-4zM534,364h4v4h-4zM552,364h4v4h-4zM524,406h7v4h-7zM520,410h11v5h-11zM358,436h3v4h-3zM354,440h7v4h-7zM198,495h4v4h-4zM205,495h4v4h-4zM195,499h3v5h-3zM209,499h3v5h-3zM191,504h4v4h-4zM336,504h4v4h-4zM485,504h3v4h-3zM527,504h4v4h-4zM538,504h4v4h-4zM552,504h4v4h-4zM496,508h3v4h-3zM556,508h3v4h-3zM184,516h4v5h-4zM496,516h3v5h-3zM584,516h4v5h-4zM598,516h4v5h-4zM181,521h3v4h-3zM503,521h3v4h-3zM566,521h7v4h-7zM577,521h3v4h-3zM605,521h4v4h-4zM517,525h10v4h-10zM181,529h3v4h-3zM531,529h7v4h-7zM605,529h4v4h-4zM191,533h4v5h-4zM538,533h7v5h-7zM198,538h4v4h-4zM545,538h7v4h-7zM584,538h4v4h-4zM205,542h4v4h-4zM552,542h4v4h-4zM580,542h4v4h-4zM556,546h3v4h-3zM556,550h7v5h-7zM556,555h7v4h-7zM556,559h3v4h-3z" fill="#0098ff"/>
<path d="M297,194h4v4h-4zM294,198h7v5h-7zM616,220h3v4h-3zM655,220h7v4h-7zM612,224h7v4h-7zM644,224h4v4h-4zM612,232h4v5h-4zM641,232h3v5h-3zM616,241h3v4h-3zM619,262h4v4h-4zM630,262h4v4h-4zM619,266h11v4h-11zM644,270h4v5h-4zM641,275h3v4h-3zM630,283h4v4h-4zM626,287h4v5h-4zM626,292h4v4h-4zM442,296h4v4h-4zM626,296h4v4h-4zM432,300h3v4h-3zM460,300h4v4h-4zM598,300h7v4h-7zM453,304h4v5h-4zM542,304h3v5h-3zM605,304h4v5h-4zM630,304h4v5h-4zM566,309h4v4h-4zM542,313h3v4h-3zM598,313h4v4h-4zM605,313h4v4h-4zM634,313h3v4h-3zM641,317h14v4h-14zM428,321h4v5h-4zM662,321h3v5h-3zM411,326h7v4h-7zM425,326h3v4h-3zM534,326h11v4h-11zM665,326h4v4h-4zM414,330h4v4h-4zM421,330h4v4h-4zM527,330h4v4h-4zM669,330h3v4h-3zM524,334h3v4h-3zM672,334h4v4h-4zM524,338h3v5h-3zM570,343h3v4h-3zM566,347h4v4h-4zM527,351h4v4h-4zM556,360h3v4h-3zM538,364h4v4h-4zM549,364h3v4h-3zM354,453h4v4h-4zM343,474h4v4h-4zM340,487h3v4h-3zM202,495h3v4h-3zM340,499h3v5h-3zM209,504h3v4h-3zM488,504h4v4h-4zM499,508h4v4h-4zM188,512h3v4h-3zM496,512h3v4h-3zM499,516h4v5h-4zM588,516h10v5h-10zM184,521h4v4h-4zM506,521h4v4h-4zM580,521h4v4h-4zM181,525h3v4h-3zM212,525h4v4h-4zM527,525h7v4h-7zM573,525h4v4h-4zM605,525h4v4h-4zM184,529h7v4h-7zM212,529h4v4h-4zM538,529h4v4h-4zM602,529h3v4h-3zM195,533h3v5h-3zM545,533h4v5h-4zM591,533h7v5h-7zM209,538h3v4h-3zM552,538h4v4h-4zM580,538h4v4h-4zM556,542h7v4h-7zM559,546h4v4h-4zM577,546h3v4h-3zM563,550h3v5h-3zM577,550h3v5h-3zM563,555h3v4h-3zM577,555h3v4h-3zM559,559h4v4h-4z" fill="#00a5ff"/>
<path d="M644,203h4v4h-4zM634,207h3v4h-3zM616,215h3v5h-3zM651,220h4v4h-4zM619,224h4v4h-4zM641,224h3v4h-3zM612,228h4v4h-4zM641,228h3v4h-3zM616,237h3v4h-3zM634,254h3v4h-3zM619,258h4v4h-4zM637,279h4v4h-4zM634,283h3v4h-3zM549,292h3v4h-3zM556,292h3v4h-3zM478,296h3v4h-3zM545,296h4v4h-4zM457,300h3v4h-3zM563,300h3v4h-3zM446,304h7v5h-7zM598,304h7v5h-7zM442,309h4v4h-4zM542,309h3v4h-3zM598,309h4v4h-4zM605,309h4v4h-4zM634,309h3v4h-3zM602,313h3v4h-3zM637,313h14v4h-14zM418,317h3v4h-3zM432,317h3v4h-3zM570,317h3v4h-3zM655,317h3v4h-3zM411,321h3v5h-3zM545,321h4v5h-4zM545,326h4v4h-4zM573,326h4v4h-4zM418,330h3v4h-3zM672,330h4v4h-4zM573,334h4v4h-4zM527,347h4v4h-4zM563,351h3v4h-3zM531,355h3v5h-3zM559,355h4v5h-4zM534,360h4v4h-4zM552,360h4v4h-4zM542,364h7v4h-7zM174,427h3v5h-3zM350,449h8v4h-8zM347,461h3v5h-3zM350,474h4v4h-4zM336,499h4v5h-4zM195,504h3v4h-3zM524,504h3v4h-3zM542,504h3v4h-3zM191,508h4v4h-4zM503,508h3v4h-3zM188,516h3v5h-3zM559,516h4v5h-4zM188,521h3v4h-3zM510,521h21v4h-21zM563,521h3v4h-3zM584,521h4v4h-4zM602,521h3v4h-3zM184,525h7v4h-7zM534,525h4v4h-4zM570,525h3v4h-3zM577,525h3v4h-3zM191,529h4v4h-4zM542,529h3v4h-3zM549,533h3v5h-3zM588,533h3v5h-3zM202,538h3v4h-3zM556,538h3v4h-3zM563,542h3v4h-3zM577,542h3v4h-3zM563,546h3v4h-3zM566,550h4v5h-4zM566,555h4v4h-4zM563,559h3v4h-3zM577,559h3v4h-3z" fill="#00b1ff"/>
<path d="M648,203h3v4h-3zM623,211h3v4h-3zM644,220h7v4h-7zM623,224h3v4h-3zM637,224h4v4h-4zM616,228h3v4h-3zM616,232h3v5h-3zM637,241h4v4h-4zM658,245h4v4h-4zM619,249h4v5h-4zM619,254h4v4h-4zM651,254h4v4h-4zM630,258h4v4h-4zM623,262h7v4h-7zM648,262h3v4h-3zM630,287h4v5h-4zM552,292h4v4h-4zM471,296h7v4h-7zM559,296h4v4h-4zM630,296h4v4h-4zM630,300h4v4h-4zM425,304h3v5h-3zM435,304h11v5h-11zM634,304h3v5h-3zM421,309h7v4h-7zM439,309h3v4h-3zM602,309h3v4h-3zM637,309h11v4h-11zM418,313h7v4h-7zM435,313h4v4h-4zM651,313h4v4h-4zM414,317h4v4h-4zM545,317h4v4h-4zM658,317h4v4h-4zM418,321h3v5h-3zM665,321h4v5h-4zM418,326h7v4h-7zM669,326h3v4h-3zM531,330h18v4h-18zM573,330h4v4h-4zM527,334h4v4h-4zM570,338h3v5h-3zM566,343h4v4h-4zM563,347h3v4h-3zM559,351h4v4h-4zM556,355h3v5h-3zM549,360h3v4h-3zM354,444h4v5h-4zM347,483h3v4h-3zM343,491h4v4h-4zM198,499h4v5h-4zM205,499h4v5h-4zM492,504h4v4h-4zM545,504h7v4h-7zM209,508h3v4h-3zM506,508h7v4h-7zM191,512h4v4h-4zM499,512h4v4h-4zM520,512h11v4h-11zM556,512h3v4h-3zM503,516h7v5h-7zM520,516h11v5h-11zM531,521h3v4h-3zM598,521h4v4h-4zM538,525h4v4h-4zM566,525h4v4h-4zM580,525h4v4h-4zM602,525h3v4h-3zM545,529h4v4h-4zM570,529h14v4h-14zM598,529h4v4h-4zM552,533h7v5h-7zM573,533h15v5h-15zM205,538h4v4h-4zM559,538h7v4h-7zM573,538h7v4h-7zM566,542h11v4h-11zM566,546h11v4h-11zM570,550h7v5h-7zM570,555h7v4h-7zM566,559h11v4h-11z" fill="#00beff"/>
<path d="M651,203h7v4h-7zM641,220h3v4h-3zM626,224h11v4h-11zM619,228h4v4h-4zM637,228h4v4h-4zM637,232h4v5h-4zM637,237h4v4h-4zM665,241h4v4h-4zM619,245h4v4h-4zM634,249h3v5h-3zM655,249h3v5h-3zM623,258h3v4h-3zM648,266h3v4h-3zM641,279h3v4h-3zM637,283h4v4h-4zM634,287h3v5h-3zM630,292h4v4h-4zM446,296h4v4h-4zM467,296h4v4h-4zM435,300h4v4h-4zM453,300h4v4h-4zM545,300h4v4h-4zM428,304h7v5h-7zM563,304h3v5h-3zM637,304h4v5h-4zM428,309h11v4h-11zM648,309h7v4h-7zM432,313h3v4h-3zM545,313h4v4h-4zM566,313h4v4h-4zM655,313h3v4h-3zM421,317h4v4h-4zM428,317h4v4h-4zM662,317h3v4h-3zM421,321h7v5h-7zM549,326h3v4h-3zM672,326h4v4h-4zM527,338h4v5h-4zM527,343h4v4h-4zM559,347h4v4h-4zM531,351h3v4h-3zM556,351h3v4h-3zM534,355h4v5h-4zM552,355h4v5h-4zM538,360h11v4h-11zM159,427h4v5h-4zM350,453h4v4h-4zM347,466h3v4h-3zM350,470h4v4h-4zM343,478h4v5h-4zM340,491h3v4h-3zM340,495h3v4h-3zM202,499h3v5h-3zM520,504h4v4h-4zM195,508h3v4h-3zM552,508h4v4h-4zM209,512h3v4h-3zM503,512h7v4h-7zM513,512h7v4h-7zM531,512h3v4h-3zM191,516h4v5h-4zM510,516h10v5h-10zM531,516h3v5h-3zM556,516h3v5h-3zM191,521h4v4h-4zM534,521h4v4h-4zM559,521h4v4h-4zM588,521h10v4h-10zM191,525h4v4h-4zM542,525h3v4h-3zM563,525h3v4h-3zM584,525h4v4h-4zM598,525h4v4h-4zM195,529h3v4h-3zM549,529h7v4h-7zM563,529h7v4h-7zM584,529h4v4h-4zM595,529h3v4h-3zM198,533h4v5h-4zM209,533h3v5h-3zM559,533h14v5h-14zM566,538h7v4h-7z" fill="#00caff"/>
<path d="M294,203h3v4h-3zM619,220h7v4h-7zM637,220h4v4h-4zM619,232h4v5h-4zM619,237h4v4h-4zM619,241h4v4h-4zM623,254h3v4h-3zM626,258h4v4h-4zM644,275h4v4h-4zM634,292h3v4h-3zM457,296h10v4h-10zM549,296h3v4h-3zM556,296h3v4h-3zM634,296h3v4h-3zM450,300h3v4h-3zM634,300h3v4h-3zM545,304h4v5h-4zM641,304h14v5h-14zM545,309h4v4h-4zM425,313h7v4h-7zM425,317h3v4h-3zM549,321h3v5h-3zM570,321h3v5h-3zM669,321h3v5h-3zM549,330h3v4h-3zM531,334h18v4h-18zM570,334h3v4h-3zM566,338h4v5h-4zM563,343h3v4h-3zM531,347h3v4h-3zM556,347h3v4h-3zM552,351h4v4h-4zM549,355h3v5h-3zM350,457h4v4h-4zM350,461h4v5h-4zM350,466h4v4h-4zM198,504h4v4h-4zM205,504h4v4h-4zM496,504h3v4h-3zM517,504h3v4h-3zM538,508h4v4h-4zM510,512h3v4h-3zM534,512h4v4h-4zM534,516h4v5h-4zM538,521h4v4h-4zM556,521h3v4h-3zM545,525h4v4h-4zM556,525h7v4h-7zM588,525h3v4h-3zM595,525h3v4h-3zM556,529h7v4h-7zM588,529h7v4h-7z" fill="#00d7ff"/>
<path d="M658,203h4v4h-4zM290,207h4v4h-4zM637,207h4v4h-4zM626,211h4v4h-4zM619,215h4v5h-4zM626,220h11v4h-11zM623,228h14v4h-14zM634,245h3v4h-3zM623,249h3v5h-3zM630,254h4v4h-4zM641,283h3v4h-3zM637,287h4v5h-4zM450,296h7v4h-7zM552,296h4v4h-4zM439,300h3v4h-3zM446,300h4v4h-4zM559,300h4v4h-4zM637,300h18v4h-18zM655,304h3v5h-3zM655,309h3v4h-3zM658,313h4v4h-4zM549,317h3v4h-3zM665,317h4v4h-4zM672,321h4v5h-4zM570,330h3v4h-3zM549,334h3v4h-3zM531,338h3v5h-3zM531,343h3v4h-3zM556,343h7v4h-7zM552,347h4v4h-4zM534,351h4v4h-4zM549,351h3v4h-3zM538,355h11v5h-11zM170,427h4v5h-4zM347,470h3v4h-3zM343,483h4v4h-4zM343,487h4v4h-4zM202,504h3v4h-3zM499,504h4v4h-4zM513,504h4v4h-4zM513,508h4v4h-4zM195,512h3v4h-3zM552,512h4v4h-4zM209,516h3v5h-3zM195,525h3v4h-3zM549,525h7v4h-7zM591,525h4v4h-4zM209,529h3v4h-3zM202,533h7v5h-7z" fill="#00e3ff"/>
<path d="M623,232h3v5h-3zM634,232h3v5h-3zM623,237h3v4h-3zM634,237h3v4h-3zM623,241h3v4h-3zM634,241h3v4h-3zM669,241h3v4h-3zM623,245h3v4h-3zM630,249h4v5h-4zM626,254h4v4h-4zM651,258h4v4h-4zM637,292h4v4h-4zM637,296h21v4h-21zM442,300h4v4h-4zM549,300h3v4h-3zM655,300h3v4h-3zM563,309h3v4h-3zM549,313h3v4h-3zM662,313h3v4h-3zM570,326h3v4h-3zM552,330h4v4h-4zM552,334h4v4h-4zM534,338h22v5h-22zM563,338h3v5h-3zM549,343h7v4h-7zM534,347h4v4h-4zM549,347h3v4h-3zM538,351h4v4h-4zM545,351h4v4h-4zM163,427h3v5h-3zM347,474h3v4h-3zM347,478h3v5h-3zM503,504h10v4h-10zM198,508h4v4h-4zM205,508h4v4h-4zM517,508h3v4h-3zM534,508h4v4h-4zM542,508h3v4h-3zM549,508h3v4h-3zM538,512h4v4h-4zM195,516h3v5h-3zM538,516h4v5h-4zM552,516h4v5h-4zM195,521h3v4h-3zM209,521h3v4h-3zM542,521h3v4h-3zM552,521h4v4h-4zM209,525h3v4h-3zM198,529h4v4h-4z" fill="#00efff"/>
<path d="M623,215h3v5h-3zM626,232h8v5h-8zM662,245h3v4h-3zM626,249h4v5h-4zM648,270h3v5h-3zM644,279h4v4h-4zM641,287h3v5h-3zM641,292h3v4h-3zM552,300h7v4h-7zM549,304h3v5h-3zM658,304h4v5h-4zM549,309h3v4h-3zM658,309h4v4h-4zM566,317h4v4h-4zM669,317h3v4h-3zM552,326h4v4h-4zM566,334h4v4h-4zM556,338h7v5h-7zM534,343h15v4h-15zM538,347h11v4h-11zM542,351h3v4h-3zM166,427h4v5h-4zM202,508h3v4h-3zM545,508h4v4h-4zM198,512h4v4h-4zM545,521h7v4h-7z" fill="#00fcff"/>
<path d="M662,203h3v4h-3zM630,211h4v4h-4zM626,237h8v4h-8zM626,241h8v4h-8zM626,245h8v4h-8zM644,283h4v4h-4zM644,287h4v5h-4zM644,292h14v4h-14zM658,296h4v4h-4zM658,300h4v4h-4zM559,304h4v5h-4zM665,313h4v4h-4zM672,317h4v4h-4zM552,321h4v5h-4zM556,334h3v4h-3zM563,334h3v4h-3zM520,508h4v4h-4zM531,508h3v4h-3zM205,512h4v4h-4zM542,512h3v4h-3zM549,512h3v4h-3zM198,516h4v5h-4zM542,516h3v5h-3zM549,516h3v5h-3zM198,525h4v4h-4zM202,529h7v4h-7z" fill="#09fff6"/>
<path d="M641,207h3v4h-3zM672,241h4v4h-4zM658,249h4v5h-4zM655,254h3v4h-3zM648,287h3v5h-3zM552,304h7v5h-7zM662,309h3v4h-3zM563,313h3v4h-3zM552,317h4v4h-4zM566,321h4v5h-4zM556,330h3v4h-3zM566,330h4v4h-4zM559,334h4v4h-4zM524,508h3v4h-3zM202,512h3v4h-3zM545,512h4v4h-4zM205,516h4v5h-4zM545,516h4v5h-4zM198,521h4v4h-4z" fill="#16ffe9"/>
<path d="M665,203h4v4h-4zM626,215h4v5h-4zM672,215h4v5h-4zM651,262h4v4h-4zM651,287h4v5h-4zM658,292h4v4h-4zM662,304h3v5h-3zM552,309h4v4h-4zM559,309h4v4h-4zM552,313h4v4h-4zM669,313h3v4h-3zM556,326h3v4h-3zM566,326h4v4h-4zM527,508h4v4h-4zM202,516h3v5h-3zM205,521h4v4h-4zM202,525h7v4h-7z" fill="#22ffdd"/>
<path d="M644,207h4v4h-4zM651,266h4v4h-4zM648,275h3v4h-3zM648,283h3v4h-3zM662,300h3v4h-3zM556,309h3v4h-3zM563,317h3v4h-3zM556,321h3v5h-3zM559,330h7v4h-7zM202,521h3v4h-3z" fill="#2fffd0"/>
<path d="M669,203h3v4h-3zM634,211h3v4h-3zM630,215h4v5h-4zM669,215h3v5h-3zM665,245h4v4h-4zM648,279h3v4h-3zM655,287h3v5h-3zM662,296h3v4h-3zM665,309h4v4h-4zM556,313h7v4h-7zM672,313h4v4h-4zM556,317h3v4h-3zM563,321h3v5h-3zM559,326h7v4h-7z" fill="#3bffc4"/>
<path d="M648,207h3v4h-3zM634,215h3v5h-3zM559,317h4v4h-4zM559,321h4v5h-4z" fill="#48ffb7"/>
<path d="M672,203h4v4h-4zM637,215h4v5h-4zM662,215h7v5h-7zM651,283h4v4h-4zM665,304h4v5h-4zM669,309h3v4h-3z" fill="#54ffab"/>
<path d="M651,207h4v4h-4zM637,211h4v4h-4zM641,215h21v5h-21zM655,258h3v4h-3zM658,287h4v5h-4zM662,292h3v4h-3z" fill="#60ff9f"/>
<path d="M662,249h3v5h-3zM651,270h4v5h-4zM665,300h4v4h-4zM672,309h4v4h-4z" fill="#6dff92"/>
<path d="M669,245h3v4h-3zM658,254h4v4h-4zM651,279h4v4h-4z" fill="#79ff86"/>
<path d="M655,207h3v4h-3zM641,211h3v4h-3zM655,283h3v4h-3zM669,304h3v5h-3z" fill="#86ff79"/>
<path d="M644,211h4v4h-4zM655,262h3v4h-3zM651,275h4v4h-4zM665,296h4v4h-4z" fill="#92ff6d"/>
<path d="M658,207h4v4h-4zM672,245h4v4h-4zM662,287h3v5h-3z" fill="#9fff60"/>
<path d="M648,211h3v4h-3zM672,304h4v5h-4z" fill="#abff54"/>
<path d="M662,207h3v4h-3zM651,211h4v4h-4zM665,249h4v5h-4zM655,266h3v4h-3zM658,283h4v4h-4zM665,292h4v4h-4zM669,300h3v4h-3z" fill="#b7ff48"/>
<path d="M655,211h3v4h-3zM658,258h4v4h-4zM655,279h3v4h-3z" fill="#c4ff3b"/>
<path d="M665,207h4v4h-4zM658,211h4v4h-4zM672,211h4v4h-4z" fill="#d0ff2f"/>
<path d="M669,207h3v4h-3zM662,211h3v4h-3zM669,211h3v4h-3zM662,254h3v4h-3zM669,296h3v4h-3z" fill="#ddff22"/>
<path d="M672,207h4v4h-4zM665,211h4v4h-4zM655,270h3v5h-3zM665,287h4v5h-4zM672,300h4v4h-4z" fill="#e9ff16"/>
<path d="M655,275h3v4h-3zM662,283h3v4h-3z" fill="#f6ff09"/>
<path d="M669,249h3v5h-3zM658,262h4v4h-4z" fill="#fffc00"/>
<path d="M658,279h4v4h-4zM669,292h3v4h-3z" fill="#ffef00"/>
<path d="M658,266h4v4h-4zM672,296h4v4h-4z" fill="#ffd700"/>
<path d="M672,249h4v5h-4zM665,254h4v4h-4zM662,258h3v4h-3zM665,283h4v4h-4z" fill="#ffca00"/>
<path d="M669,287h3v5h-3z" fill="#ffbe00"/>
<path d="M658,275h4v4h-4zM662,279h3v4h-3z" fill="#ffb100"/>
<path d="M658,270h4v5h-4zM672,292h4v4h-4z" fill="#ffa500"/>
<path d="M665,279h4v4h-4zM669,283h3v4h-3z" fill="#ff8c00"/>
<path d="M662,262h3v4h-3zM672,287h4v5h-4z" fill="#ff8000"/>
<path d="M669,254h3v4h-3zM662,270h3v5h-3zM662,275h3v4h-3z" fill="#ff7300"/>
<path d="M662,266h3v4h-3zM669,279h3v4h-3zM672,283h4v4h-4z" fill="#ff6700"/>
<path d="M665,258h4v4h-4z" fill="#ff5a00"/>
<path d="M665,275h4v4h-4z" fill="#ff4100"/>
<path d="M672,254h4v4h-4zM672,279h4v4h-4z" fill="#ff3500"/>
<path d="M665,262h4v4h-4z" fill="#ff1000"/>
<path d="M669,258h3v4h-3zM665,270h4v5h-4z" fill="#ff0300"/>
<path d="M665,266h4v4h-4zM669,275h3v4h-3z" fill="#f60000"/>
<path d="M672,258h4v4h-4zM669,262h3v4h-3zM672,275h4v4h-4z" fill="#b70000"/>
<path d="M669,270h3v5h-3z" fill="#ab0000"/>
<path d="M669,266h3v4h-3z" fill="#920000"/>
<path d="M672,262h4v4h-4zM672,266h4v4h-4zM672,270h4v5h-4z" fill="#860000"/>
</g></g>
<path d="M194.8,563.1V54.2M265.5,563.1V54.2M336.3,563.1V54.2M407.1,563.1V54.2M477.8,563.1V54.2M548.6,563.1V54.2M619.4,563.1V54.2" stroke="#adadad" stroke-width="1.1" stroke-dasharray="1.8,4.73" fill="none"/>
<path d="M124.0,105.1H676.0M124.0,189.9H676.0M124.0,274.7H676.0M124.0,359.5H676.0M124.0,444.4H676.0M124.0,529.2H676.0" stroke="#adadad" stroke-width="1.05" stroke-dasharray="1.9,4.63" fill="none"/>
<path d="M124.3,145.0L133.8,148.8L142.5,148.2L148.8,151.8L157.5,152.0L166.2,150.5L162.0,145.0L171.2,135.5L181.2,142.5L188.8,141.2L193.8,135.0L205.0,129.5L215.0,127.0L222.5,121.2L231.2,118.0L238.8,115.5L246.2,117.0L252.5,115.5L260.0,118.8L267.5,120.5L276.2,123.8L283.8,128.8L288.0,136.2L290.0,146.5L288.5,154.0L283.2,155.5L286.2,162.2L292.2,165.2L288.5,173.5L287.0,187.0L286.2,196.0L283.2,208.0L281.0,215.5L273.5,220.0L263.0,222.5L240.9,223.5L230.3,224.1L219.7,226.2L209.2,229.7L198.6,237.6L193.3,240.3L191.5,233.2L198.6,230.6L207.4,227.4L214.5,225.3L215.3,219.1L208.3,217.4L202.1,214.7L200.7,209.4L201.8,204.2L205.6,199.8L210.6,197.1L206.5,192.7L198.6,190.4L190.7,189.2L186.3,192.7L179.6,196.2L176.6,204.2L178.9,212.1L184.5,217.4L186.3,223.5L184.5,231.5L177.4,233.2L170.8,235.9L167.8,243.8L165.1,250.9L172.2,250.0L178.3,244.7L181.9,239.4L189.8,241.2L192.4,246.5L188.0,250.9L187.1,245.6L181.5,246.5M296.0,153.2L288.5,154.0M193.3,240.3L189.0,249.0L184.5,257.7L175.7,270.9L166.9,280.6L158.1,289.4L153.7,296.5L151.0,302.6L144.0,304.0L142.2,313.2L144.3,320.3L147.5,330.0L143.1,334.4L145.4,339.6L146.6,348.5L147.8,356.0L145.7,366.6L141.3,379.0L136.0,392.2L135.5,401.9L133.7,410.7L136.0,419.5L135.5,429.2L139.0,436.5L137.5,442.0L134.0,448.0L130.0,454.0L124.5,460.0M184.5,257.7L172.2,266.5L159.5,280.6L161.2,264.7L166.0,256.8L173.9,253.3L184.5,257.7M124.3,403.6L135.5,401.9M136.0,392.2L139.5,392.2L138.7,395.0M135.5,426.6L138.7,427.4M284.8,54.5L282.5,65.0L279.5,77.8L281.0,97.2L290.8,97.7L294.5,93.5M292.2,54.5L291.2,63.5L293.3,72.5L297.5,77.8L299.0,86.8L305.0,83.8L314.8,79.2L323.0,74.0L332.0,68.0L341.0,61.2L350.0,54.5M326.0,54.5L324.5,61.2L322.2,65.0L319.2,61.7L312.5,64.2L310.2,71.0L316.2,76.2L311.8,79.2L305.0,83.8M326.0,54.5L329.8,55.2L330.5,58.2L328.2,56.8M348.5,56.0L332.0,69.5L317.0,78.5L305.0,86.0L296.0,90.5L290.0,96.5L280.2,109.2L284.8,115.2L290.0,110.8L295.2,115.2L300.5,112.2L302.0,122.0L300.5,135.0L296.0,148.0L296.0,153.2" stroke="#000" stroke-width="1" fill="none" stroke-linejoin="round"/>
<clipPath id="fc"><rect x="124.0" y="54.2" width="552.0" height="508.9"/></clipPath><path clip-path="url(#fc)" d="M124.0,478.3L133.0,479.2M133.0,479.2L129.1,477.0M133.0,479.2L128.7,480.5M124.0,495.2L134.8,496.5M134.8,496.5L130.9,494.3M134.8,496.5L130.5,497.7M124.0,512.2L137.8,513.0M137.8,513.0L133.8,511.0M137.8,513.0L133.6,514.5M124.0,529.2L132.5,530.0M132.5,530.0L128.5,527.8M132.5,530.0L128.2,531.3M124.0,546.1L131.3,550.6M131.3,550.6L128.6,546.9M131.3,550.6L126.8,549.9M138.2,393.5L139.6,394.5M139.6,394.5L137.2,390.6M139.6,394.5L135.2,393.5M138.2,410.4L137.8,408.9M137.8,408.9L137.1,413.4M137.8,408.9L140.5,412.5M138.2,427.4L137.8,428.0M137.8,428.0L141.5,425.4M137.8,428.0L138.5,423.5M138.2,461.3L149.2,458.9M149.2,458.9L144.8,458.1M149.2,458.9L145.6,461.5M138.2,478.3L147.5,479.2M147.5,479.2L143.5,477.1M147.5,479.2L143.2,480.5M138.2,495.2L153.7,493.3M153.7,493.3L149.3,492.1M153.7,493.3L149.8,495.6M138.2,512.2L147.5,510.9M147.5,510.9L143.1,509.8M147.5,510.9L143.6,513.2M138.2,529.2L147.5,526.4M147.5,526.4L143.0,525.9M147.5,526.4L144.0,529.3M138.2,546.1L137.8,550.1M137.8,550.1L139.9,546.1M137.8,550.1L136.4,545.8M152.3,308.7L154.5,310.0M154.5,310.0L151.9,306.4M154.5,310.0L150.1,309.3M152.3,325.6L155.4,334.4M155.4,334.4L155.7,329.9M155.4,334.4L152.4,331.0M152.3,342.6L153.1,349.3M153.1,349.3L154.4,345.0M153.1,349.3L150.9,345.4M152.3,359.5L154.2,361.0M154.2,361.0L152.0,357.1M154.2,361.0L149.8,359.8M152.3,376.5L155.9,378.1M155.9,378.1L152.8,374.8M155.9,378.1L151.4,378.0M152.3,393.5L156.7,399.8M156.7,399.8L155.7,395.4M156.7,399.8L152.9,397.3M152.3,410.4L156.3,416.3M156.3,416.3L155.4,411.9M156.3,416.3L152.5,413.9M152.3,427.4L164.8,424.4M164.8,424.4L160.3,423.7M164.8,424.4L161.1,427.1M152.3,444.4L157.7,440.3M157.7,440.3L153.3,441.4M157.7,440.3L155.4,444.2M152.3,461.3L157.7,464.2M157.7,464.2L154.9,460.7M157.7,464.2L153.2,463.8M152.3,478.3L167.8,478.3M167.8,478.3L163.6,476.6M167.8,478.3L163.6,480.1M152.3,495.2L166.0,495.9M166.0,495.9L161.9,494.0M166.0,495.9L161.8,497.5M152.3,512.2L164.2,512.3M164.2,512.3L160.1,510.5M164.2,512.3L160.1,514.0M152.3,529.2L160.7,530.7M160.7,530.7L156.9,528.2M160.7,530.7L156.3,531.7M152.3,546.1L150.1,553.2M150.1,553.2L153.0,549.8M150.1,553.2L149.7,548.7M166.5,291.7L166.5,293.8M166.5,293.8L168.2,289.6M166.5,293.8L164.7,289.7M166.5,308.7L162.5,314.1M162.5,314.1L166.3,311.8M162.5,314.1L163.5,309.7M166.5,325.6L167.8,324.1M167.8,324.1L163.7,326.1M167.8,324.1L166.3,328.4M166.5,342.6L172.5,342.3M172.5,342.3L168.3,340.7M172.5,342.3L168.5,344.2M166.5,359.5L170.4,359.9M170.4,359.9L166.4,357.8M170.4,359.9L166.1,361.3M166.5,376.5L170.8,381.6M170.8,381.6L169.4,377.3M170.8,381.6L166.7,379.6M166.5,393.5L172.2,401.0M172.2,401.0L171.1,396.6M172.2,401.0L168.3,398.7M166.5,410.4L169.5,419.5M169.5,419.5L169.9,415.0M169.5,419.5L166.5,416.1M166.5,427.4L190.1,430.1M190.1,430.1L186.2,427.9M190.1,430.1L185.8,431.3M166.5,444.4L173.6,444.2M173.6,444.2L169.4,442.5M173.6,444.2L169.5,446.0M166.5,461.3L170.8,463.7M170.8,463.7L168.0,460.2M170.8,463.7L166.3,463.2M166.5,478.3L181.0,481.0M181.0,481.0L177.2,478.5M181.0,481.0L176.6,481.9M166.5,495.2L177.4,497.7M177.4,497.7L173.8,495.1M177.4,497.7L173.0,498.5M166.5,512.2L178.9,517.1M178.9,517.1L175.6,513.9M178.9,517.1L174.4,517.2M166.5,529.2L172.2,539.5M172.2,539.5L171.7,535.0M172.2,539.5L168.6,536.7M166.5,546.1L165.1,557.6M165.1,557.6L167.3,553.7M165.1,557.6L163.9,553.3M180.6,274.7L180.1,276.6M180.1,276.6L182.9,273.0M180.1,276.6L179.5,272.1M180.6,291.7L179.6,296.5M179.6,296.5L182.2,292.8M179.6,296.5L178.7,292.0M180.6,308.7L183.6,309.3M183.6,309.3L180.0,306.7M183.6,309.3L179.2,310.1M180.6,325.6L185.9,321.7M185.9,321.7L181.5,322.7M185.9,321.7L183.6,325.6M180.6,342.6L183.6,341.1M183.6,341.1L179.1,341.4M183.6,341.1L180.7,344.5M180.6,359.5L182.4,364.0M182.4,364.0L182.5,359.5M182.4,364.0L179.2,360.8M180.6,376.5L185.4,383.4M185.4,383.4L184.5,379.0M185.4,383.4L181.6,381.0M180.6,393.5L187.7,397.5M187.7,397.5L184.9,393.9M187.7,397.5L183.2,396.9M180.6,410.4L179.6,409.8M179.6,409.8L182.2,413.4M179.6,409.8L184.0,410.4M180.6,427.4L196.0,425.8M196.0,425.8L191.7,424.5M196.0,425.8L192.0,428.0M180.6,444.4L187.1,448.1M187.1,448.1L184.4,444.5M187.1,448.1L182.7,447.5M180.6,461.3L187.7,464.7M187.7,464.7L184.7,461.4M187.7,464.7L183.2,464.5M180.6,478.3L190.7,480.6M190.7,480.6L187.0,478.0M190.7,480.6L186.2,481.4M180.6,495.2L190.1,501.2M190.1,501.2L187.6,497.5M190.1,501.2L185.7,500.5M180.6,512.2L190.7,524.1M190.7,524.1L189.3,519.8M190.7,524.1L186.7,522.1M180.6,529.2L185.4,547.6M185.4,547.6L186.0,543.1M185.4,547.6L182.6,544.0M180.6,546.1L180.6,561.2M180.6,561.2L182.4,557.0M180.6,561.2L178.9,557.0M194.8,257.8L193.3,261.2M193.3,261.2L196.5,258.1M193.3,261.2L193.3,256.7M194.8,274.7L194.2,275.8M194.2,275.8L197.6,273.0M194.2,275.8L194.5,271.4M194.8,291.7L193.7,293.5M193.7,293.5L197.3,290.9M193.7,293.5L194.4,289.0M194.8,308.7L201.2,305.8M201.2,305.8L196.7,305.9M201.2,305.8L198.2,309.1M194.8,325.6L196.0,326.4M196.0,326.4L193.5,322.6M196.0,326.4L191.5,325.5M194.8,342.6L197.7,343.2M197.7,343.2L194.0,340.6M197.7,343.2L193.3,344.1M194.8,359.5L194.2,367.0M194.2,367.0L196.3,363.0M194.2,367.0L192.8,362.7M194.8,376.5L200.4,382.5M200.4,382.5L198.8,378.3M200.4,382.5L196.3,380.7M194.8,393.5L205.6,395.7M205.6,395.7L201.9,393.2M205.6,395.7L201.2,396.6M194.8,410.4L204.8,404.5M204.8,404.5L200.3,405.1M204.8,404.5L202.1,408.1M194.8,427.4L200.4,424.8M200.4,424.8L195.9,424.9M200.4,424.8L197.3,428.1M194.8,444.4L194.2,449.5M194.2,449.5L196.4,445.5M194.2,449.5L192.9,445.1M194.8,461.3L205.6,466.0M205.6,466.0L202.5,462.7M205.6,466.0L201.2,466.0M194.8,478.3L205.3,484.5M205.3,484.5L202.6,480.9M205.3,484.5L200.8,483.9M194.8,495.2L204.8,507.8M204.8,507.8L203.5,503.4M204.8,507.8L200.8,505.6M194.8,512.2L205.6,531.2M205.6,531.2L205.1,526.7M205.6,531.2L202.1,528.5M194.8,529.2L204.2,549.3M204.2,549.3L204.1,544.9M204.2,549.3L200.9,546.3M194.8,546.1L194.7,560.3M194.7,560.3L196.5,556.1M194.7,560.3L193.0,556.1M208.9,240.8L210.6,242.9M210.6,242.9L209.4,238.6M210.6,242.9L206.7,240.7M208.9,257.8L208.8,255.1M208.8,255.1L207.2,259.3M208.8,255.1L210.7,259.1M208.9,274.7L207.4,274.8M207.4,274.8L211.6,276.4M207.4,274.8L211.5,272.9M208.9,291.7L214.5,289.4M214.5,289.4L210.0,289.4M214.5,289.4L211.3,292.6M208.9,308.7L210.6,307.9M210.6,307.9L206.1,308.0M210.6,307.9L207.5,311.2M208.9,325.6L212.3,326.4M212.3,326.4L208.7,323.8M212.3,326.4L207.9,327.2M208.9,342.6L210.6,344.1M210.6,344.1L208.7,340.0M210.6,344.1L206.3,342.6M208.9,359.5L207.1,362.2M207.1,362.2L210.9,359.8M207.1,362.2L208.0,357.8M208.9,376.5L214.8,370.5M214.8,370.5L210.7,372.2M214.8,370.5L213.2,374.7M208.9,393.5L219.8,385.7M219.8,385.7L215.4,386.7M219.8,385.7L217.4,389.5M208.9,410.4L214.5,410.3M214.5,410.3L210.3,408.7M214.5,410.3L210.3,412.2M208.9,427.4L206.5,426.6M206.5,426.6L209.9,429.6M206.5,426.6L211.0,426.3M208.9,444.4L204.2,445.6M204.2,445.6L208.7,446.2M204.2,445.6L207.8,442.8M208.9,461.3L221.2,464.7M221.2,464.7L217.6,461.9M221.2,464.7L216.7,465.3M208.9,478.3L216.2,485.4M216.2,485.4L214.5,481.2M216.2,485.4L212.0,483.7M208.9,495.2L210.1,512.7M210.1,512.7L211.5,508.4M210.1,512.7L208.0,508.7M208.9,512.2L214.5,535.6M214.5,535.6L215.2,531.2M214.5,535.6L211.8,532.0M208.9,529.2L218.3,554.1M218.3,554.1L218.5,549.6M218.3,554.1L215.2,550.8M208.9,546.1L210.9,563.8M210.9,563.8L212.2,559.5M210.9,563.8L208.7,559.9M223.1,240.8L225.6,242.1M225.6,242.1L222.7,238.6M225.6,242.1L221.1,241.7M223.1,257.8L221.9,255.9M221.9,255.9L222.7,260.4M221.9,255.9L225.6,258.4M223.1,274.7L221.9,275.3M221.9,275.3L226.4,275.1M221.9,275.3L224.8,271.9M223.1,291.7L229.4,284.7M229.4,284.7L225.4,286.6M229.4,284.7L228.0,288.9M223.1,308.7L224.7,310.0M224.7,310.0L222.7,306.0M224.7,310.0L220.4,308.7M223.1,325.6L228.6,325.6M228.6,325.6L224.4,323.8M228.6,325.6L224.4,327.4M223.1,342.6L224.7,344.1M224.7,344.1L222.8,340.0M224.7,344.1L220.4,342.5M223.1,359.5L222.4,356.4M222.4,356.4L221.6,360.8M222.4,356.4L225.0,360.1M223.1,376.5L234.7,369.3M234.7,369.3L230.3,370.0M234.7,369.3L232.1,372.9M223.1,393.5L230.3,389.2M230.3,389.2L225.9,389.8M230.3,389.2L227.6,392.8M223.1,410.4L226.4,410.7M226.4,410.7L222.4,408.6M226.4,410.7L222.2,412.1M223.1,427.4L222.9,428.7M222.9,428.7L225.2,424.8M222.9,428.7L221.7,424.3M223.1,444.4L221.9,445.1M221.9,445.1L226.3,444.5M221.9,445.1L224.6,441.5M223.1,461.3L228.6,463.0M228.6,463.0L225.1,460.1M228.6,463.0L224.1,463.5M223.1,478.3L221.5,483.6M221.5,483.6L224.4,480.1M221.5,483.6L221.0,479.1M223.1,495.2L223.3,488.9M223.3,488.9L221.4,493.0M223.3,488.9L224.9,493.1M223.1,512.2L224.2,512.3M224.2,512.3L220.2,510.1M224.2,512.3L219.8,513.6M223.1,529.2L228.6,529.4M228.6,529.4L224.5,527.5M228.6,529.4L224.3,531.0M223.1,546.1L227.2,553.2M227.2,553.2L226.6,548.8M227.2,553.2L223.6,550.5M237.2,240.8L242.7,239.1M242.7,239.1L238.2,238.7M242.7,239.1L239.2,242.0M237.2,257.8L239.5,258.2M239.5,258.2L235.8,255.7M239.5,258.2L235.1,259.1M237.2,274.7L243.5,270.9M243.5,270.9L239.1,271.6M243.5,270.9L240.9,274.6M237.2,291.7L243.0,288.9M243.0,288.9L238.5,289.1M243.0,288.9L240.0,292.3M237.2,308.7L240.0,309.3M240.0,309.3L236.4,306.6M240.0,309.3L235.6,310.0M237.2,325.6L244.1,325.2M244.1,325.2L239.8,323.7M244.1,325.2L240.0,327.2M237.2,342.6L240.9,339.6M240.9,339.6L236.6,340.9M240.9,339.6L238.8,343.6M237.2,359.5L243.5,356.4M243.5,356.4L239.1,356.7M243.5,356.4L240.6,359.8M237.2,376.5L246.2,375.8M246.2,375.8L241.9,374.4M246.2,375.8L242.2,377.9M237.2,393.5L241.3,392.2M241.3,392.2L236.8,391.8M241.3,392.2L237.8,395.1M237.2,410.4L237.4,411.6M237.4,411.6L238.6,407.2M237.4,411.6L235.1,407.7M237.2,427.4L237.4,428.7M237.4,428.7L238.6,424.3M237.4,428.7L235.2,424.7M237.2,444.4L237.4,445.6M237.4,445.6L238.6,441.3M237.4,445.6L235.2,441.7M237.2,461.3L243.5,463.3M243.5,463.3L240.1,460.4M243.5,463.3L239.1,463.7M237.2,478.3L236.5,476.6M236.5,476.6L236.5,481.1M236.5,476.6L239.7,479.7M237.2,495.2L237.9,490.1M237.9,490.1L235.6,494.0M237.9,490.1L239.1,494.5M237.2,512.2L233.5,503.9M233.5,503.9L233.6,508.4M233.5,503.9L236.8,506.9M237.2,529.2L238.3,522.9M238.3,522.9L235.9,526.7M238.3,522.9L239.3,527.3M237.2,546.1L233.8,547.9M233.8,547.9L238.3,547.5M233.8,547.9L236.7,544.4M251.4,223.8L255.9,223.6M255.9,223.6L251.6,222.1M255.9,223.6L251.9,225.6M251.4,240.8L255.9,240.3M255.9,240.3L251.6,239.0M255.9,240.3L252.0,242.5M251.4,257.8L251.1,252.4M251.1,252.4L249.6,256.6M251.1,252.4L253.1,256.5M251.4,274.7L256.8,272.7M256.8,272.7L252.3,272.5M256.8,272.7L253.5,275.8M251.4,291.7L255.0,290.3M255.0,290.3L250.5,290.1M255.0,290.3L251.8,293.4M251.4,308.7L254.1,309.3M254.1,309.3L250.5,306.6M254.1,309.3L249.7,310.0M251.4,325.6L255.0,325.2M255.0,325.2L250.7,323.9M255.0,325.2L251.1,327.4M251.4,342.6L254.1,344.1M254.1,344.1L251.3,340.5M254.1,344.1L249.6,343.6M251.4,359.5L255.0,356.9M255.0,356.9L250.6,357.9M255.0,356.9L252.7,360.8M251.4,376.5L255.0,376.3M255.0,376.3L250.8,374.8M255.0,376.3L250.9,378.3M251.4,393.5L253.2,394.5M253.2,394.5L250.4,391.0M253.2,394.5L248.8,394.0M251.4,410.4L252.4,414.6M252.4,414.6L253.1,410.1M252.4,414.6L249.7,410.9M251.4,427.4L253.2,433.6M253.2,433.6L253.7,429.1M253.2,433.6L250.4,430.1M251.4,444.4L254.1,446.8M254.1,446.8L252.2,442.7M254.1,446.8L249.9,445.3M251.4,461.3L256.8,464.2M256.8,464.2L253.9,460.7M256.8,464.2L252.3,463.8M251.4,478.3L250.6,479.2M250.6,479.2L254.6,477.2M250.6,479.2L252.0,474.9M251.4,495.2L251.5,496.5M251.5,496.5L252.9,492.2M251.5,496.5L249.4,492.5M251.4,512.2L248.3,516.2M248.3,516.2L252.2,514.0M248.3,516.2L249.4,511.9M251.4,529.2L248.8,534.2M248.8,534.2L252.3,531.3M248.8,534.2L249.1,529.7M251.4,546.1L244.4,551.8M244.4,551.8L248.7,550.6M244.4,551.8L246.5,547.8M265.5,223.8L271.0,224.4M271.0,224.4L267.1,222.2M271.0,224.4L266.7,225.7M265.5,240.8L272.7,240.3M272.7,240.3L268.5,238.8M272.7,240.3L268.7,242.3M265.5,257.8L266.0,254.2M266.0,254.2L263.7,258.0M266.0,254.2L267.2,258.5M265.5,274.7L264.8,275.3M264.8,275.3L269.1,274.0M264.8,275.3L266.9,271.3M265.5,291.7L268.7,292.1M268.7,292.1L264.8,289.8M268.7,292.1L264.4,293.3M265.5,308.7L269.2,309.3M269.2,309.3L265.5,306.9M269.2,309.3L264.8,310.3M265.5,325.6L270.1,325.9M270.1,325.9L266.1,323.9M270.1,325.9L265.9,327.4M265.5,342.6L272.2,345.3M272.2,345.3L269.0,342.1M272.2,345.3L267.7,345.4M265.5,359.5L269.7,359.6M269.7,359.6L265.6,357.8M269.7,359.6L265.6,361.3M265.5,376.5L266.9,377.2M266.9,377.2L264.0,373.8M266.9,377.2L262.4,376.9M265.5,393.5L267.5,398.4M267.5,398.4L267.6,393.9M267.5,398.4L264.3,395.1M265.5,410.4L271.5,416.0M271.5,416.0L269.7,411.9M271.5,416.0L267.3,414.4M265.5,427.4L267.5,436.2M267.5,436.2L268.3,431.8M267.5,436.2L264.9,432.6M265.5,444.4L275.0,450.3M275.0,450.3L272.5,446.7M275.0,450.3L270.6,449.6M265.5,461.3L270.1,466.9M270.1,466.9L268.8,462.5M270.1,466.9L266.1,464.8M265.5,478.3L266.9,483.6M266.9,483.6L267.6,479.2M266.9,483.6L264.2,480.0M265.5,495.2L263.1,500.7M263.1,500.7L266.4,497.7M263.1,500.7L263.2,496.2M265.5,512.2L259.5,518.3M259.5,518.3L263.7,516.6M259.5,518.3L261.2,514.1M265.5,529.2L262.2,536.5M262.2,536.5L265.5,533.5M262.2,536.5L262.3,532.0M265.5,546.1L260.4,553.2M260.4,553.2L264.3,550.9M260.4,553.2L261.4,548.8M279.7,223.8L285.1,222.1M285.1,222.1L280.6,221.7M285.1,222.1L281.7,225.1M279.7,240.8L288.6,235.5M288.6,235.5L284.1,236.1M288.6,235.5L285.9,239.2M279.7,257.8L282.1,257.2M282.1,257.2L277.6,256.5M282.1,257.2L278.5,259.9M279.7,274.7L278.0,275.3M278.0,275.3L282.5,275.6M278.0,275.3L281.3,272.3M279.7,291.7L282.8,291.7M282.8,291.7L278.7,289.9M282.8,291.7L278.6,293.4M279.7,308.7L282.4,309.3M282.4,309.3L278.8,306.6M282.4,309.3L278.0,310.0M279.7,325.6L281.6,325.2M281.6,325.2L277.1,324.4M281.6,325.2L277.9,327.8M279.7,342.6L286.0,345.8M286.0,345.8L283.1,342.4M286.0,345.8L281.5,345.5M279.7,359.5L285.1,362.2M285.1,362.2L282.1,358.8M285.1,362.2L280.6,361.9M279.7,376.5L278.0,377.6M278.0,377.6L282.5,376.8M278.0,377.6L280.6,373.9M279.7,393.5L285.6,395.7M285.6,395.7L282.4,392.6M285.6,395.7L281.1,395.9M279.7,410.4L285.6,416.0M285.6,416.0L283.8,411.9M285.6,416.0L281.4,414.4M279.7,427.4L283.3,428.0M283.3,428.0L279.5,425.6M283.3,428.0L279.0,429.1M279.7,444.4L286.3,447.7M286.3,447.7L283.4,444.3M286.3,447.7L281.8,447.4M279.7,461.3L282.4,466.0M282.4,466.0L281.8,461.5M282.4,466.0L278.8,463.3M279.7,478.3L278.0,478.8M278.0,478.8L282.5,479.2M278.0,478.8L281.4,475.9M279.7,495.2L276.3,498.9M276.3,498.9L280.4,497.1M276.3,498.9L277.8,494.7M279.7,512.2L272.2,511.3M272.2,511.3L276.1,513.5M272.2,511.3L276.5,510.1M279.7,529.2L273.6,530.3M273.6,530.3L278.0,531.3M273.6,530.3L277.4,527.8M279.7,546.1L275.4,549.3M275.4,549.3L279.8,548.3M275.4,549.3L277.7,545.5M293.8,105.1L293.0,107.8M293.0,107.8L295.9,104.4M293.0,107.8L292.6,103.3M293.8,172.9L292.7,179.5M292.7,179.5L295.1,175.7M292.7,179.5L291.7,175.1M293.8,189.9L299.2,185.7M299.2,185.7L294.8,186.9M299.2,185.7L297.0,189.6M293.8,206.9L312.4,194.5M312.4,194.5L308.0,195.3M312.4,194.5L309.9,198.2M293.8,223.8L296.2,219.7M296.2,219.7L292.6,222.4M296.2,219.7L295.7,224.1M293.8,240.8L303.6,239.4M303.6,239.4L299.2,238.3M303.6,239.4L299.7,241.7M293.8,257.8L293.9,255.9M293.9,255.9L292.0,260.0M293.9,255.9L295.5,260.1M293.8,274.7L295.1,274.1M295.1,274.1L290.6,274.4M295.1,274.1L292.2,277.5M293.8,291.7L297.4,291.7M297.4,291.7L293.3,289.9M297.4,291.7L293.3,293.4M293.8,308.7L293.9,309.7M293.9,309.7L295.5,305.5M293.9,309.7L292.0,305.6M293.8,325.6L295.1,324.7M295.1,324.7L290.8,325.7M295.1,324.7L292.8,328.5M293.8,342.6L301.5,345.8M301.5,345.8L298.3,342.6M301.5,345.8L297.0,345.8M293.8,359.5L299.7,363.5M299.7,363.5L297.2,359.7M299.7,363.5L295.3,362.6M293.8,376.5L295.1,379.8M295.1,379.8L295.3,375.3M295.1,379.8L292.0,376.6M293.8,393.5L300.4,396.6M300.4,396.6L297.4,393.2M300.4,396.6L295.9,396.4M293.8,410.4L291.2,411.0M291.2,411.0L295.7,411.8M291.2,411.0L294.9,408.4M293.8,427.4L293.4,428.7M293.4,428.7L296.5,425.4M293.4,428.7L293.2,424.2M293.8,444.4L294.8,449.5M294.8,449.5L295.8,445.1M294.8,449.5L292.3,445.7M293.8,461.3L298.7,465.1M298.7,465.1L296.5,461.2M298.7,465.1L294.3,463.9M293.8,478.3L292.1,479.2M292.1,479.2L296.6,478.8M292.1,479.2L295.0,475.7M293.8,495.2L292.7,498.9M292.7,498.9L295.6,495.5M292.7,498.9L292.3,494.5M293.8,512.2L286.0,515.3M286.0,515.3L290.5,515.4M286.0,515.3L289.2,512.2M293.8,529.2L285.1,528.5M285.1,528.5L289.1,530.6M285.1,528.5L289.3,527.1M293.8,546.1L290.4,546.2M290.4,546.2L294.5,547.9M290.4,546.2L294.5,544.4M308.0,88.1L306.8,86.3M306.8,86.3L307.6,90.7M306.8,86.3L310.5,88.7M308.0,105.1L306.2,106.0M306.2,106.0L310.7,105.6M306.2,106.0L309.1,102.5M308.0,122.1L319.4,128.2M319.4,128.2L316.6,124.7M319.4,128.2L315.0,127.8M308.0,139.0L312.8,132.1M312.8,132.1L309.0,134.5M312.8,132.1L311.8,136.5M308.0,156.0L308.0,159.7M308.0,159.7L309.8,155.6M308.0,159.7L306.2,155.6M308.0,172.9L315.6,169.8M315.6,169.8L311.1,169.8M315.6,169.8L312.4,173.0M308.0,189.9L320.3,180.0M320.3,180.0L316.0,181.2M320.3,180.0L318.2,184.0M308.0,206.9L311.0,203.3M311.0,203.3L307.0,205.3M311.0,203.3L309.7,207.6M308.0,223.8L305.9,223.2M305.9,223.2L309.3,226.1M305.9,223.2L310.4,222.7M308.0,240.8L313.3,246.1M313.3,246.1L311.6,241.9M313.3,246.1L309.1,244.4M308.0,257.8L309.4,260.7M309.4,260.7L309.2,256.2M309.4,260.7L306.0,257.7M308.0,274.7L311.5,277.1M311.5,277.1L309.1,273.3M311.5,277.1L307.1,276.2M308.0,291.7L311.5,293.5M311.5,293.5L308.6,290.0M311.5,293.5L307.0,293.2M308.0,308.7L307.1,310.0M307.1,310.0L310.8,307.5M307.1,310.0L307.9,305.6M308.0,325.6L311.5,327.3M311.5,327.3L308.5,323.9M311.5,327.3L307.0,327.1M308.0,342.6L316.3,346.7M316.3,346.7L313.3,343.3M316.3,346.7L311.8,346.4M308.0,359.5L314.2,365.2M314.2,365.2L312.3,361.1M314.2,365.2L309.9,363.7M308.0,376.5L312.0,376.8M312.0,376.8L308.1,374.8M312.0,376.8L307.8,378.2M308.0,393.5L313.3,394.5M313.3,394.5L309.5,392.0M313.3,394.5L308.9,395.4M308.0,410.4L307.1,411.0M307.1,411.0L311.5,410.1M307.1,411.0L309.5,407.2M308.0,427.4L308.0,426.6M308.0,426.6L306.3,430.7M308.0,426.6L309.8,430.7M308.0,444.4L311.0,444.5M311.0,444.5L307.0,442.5M311.0,444.5L306.8,446.0M308.0,461.3L314.2,460.2M314.2,460.2L309.8,459.2M314.2,460.2L310.4,462.7M308.0,478.3L308.5,484.5M308.5,484.5L309.9,480.2M308.5,484.5L306.4,480.5M308.0,495.2L306.2,502.1M306.2,502.1L309.0,498.5M306.2,502.1L305.6,497.7M308.0,512.2L300.9,519.7M300.9,519.7L305.1,517.9M300.9,519.7L302.5,515.5M308.0,529.2L301.5,531.2M301.5,531.2L306.0,531.6M301.5,531.2L304.9,528.3M308.0,546.1L307.8,544.1M307.8,544.1L306.4,548.3M307.8,544.1L309.9,548.0M322.2,88.1L325.1,90.2M325.1,90.2L322.7,86.4M325.1,90.2L320.7,89.2M322.2,105.1L325.6,101.3M325.6,101.3L321.5,103.2M325.6,101.3L324.1,105.5M322.2,122.1L332.1,117.1M332.1,117.1L327.6,117.4M332.1,117.1L329.2,120.5M322.2,139.0L327.9,139.7M327.9,139.7L324.0,137.5M327.9,139.7L323.6,141.0M322.2,156.0L326.5,150.9M326.5,150.9L322.5,152.9M326.5,150.9L325.1,155.2M322.2,172.9L329.1,172.4M329.1,172.4L324.9,171.0M329.1,172.4L325.1,174.5M322.2,189.9L328.3,194.5M328.3,194.5L326.0,190.6M328.3,194.5L323.9,193.4M322.2,206.9L323.0,215.1M323.0,215.1L324.3,210.8M323.0,215.1L320.8,211.1M322.2,223.8L314.2,227.4M314.2,227.4L318.7,227.3M314.2,227.4L317.2,224.1M322.2,240.8L325.6,247.3M325.6,247.3L325.2,242.9M325.6,247.3L322.1,244.5M322.2,257.8L320.3,259.5M320.3,259.5L324.6,257.9M320.3,259.5L322.2,255.3M322.2,274.7L326.5,275.8M326.5,275.8L322.9,273.1M326.5,275.8L322.0,276.5M322.2,291.7L326.1,295.2M326.1,295.2L324.2,291.2M326.1,295.2L321.9,293.8M322.2,308.7L322.4,314.1M322.4,314.1L324.0,309.9M322.4,314.1L320.5,310.0M322.2,325.6L323.9,330.8M323.9,330.8L324.2,326.4M323.9,330.8L320.9,327.4M322.2,342.6L330.0,347.1M330.0,347.1L327.3,343.5M330.0,347.1L325.6,346.5M322.2,359.5L327.9,361.0M327.9,361.0L324.3,358.3M327.9,361.0L323.5,361.7M322.2,376.5L328.6,379.0M328.6,379.0L325.4,375.9M328.6,379.0L324.1,379.1M322.2,393.5L327.4,393.9M327.4,393.9L323.4,391.8M327.4,393.9L323.1,395.3M322.2,410.4L326.9,411.0M326.9,411.0L323.0,408.8M326.9,411.0L322.5,412.2M322.2,427.4L323.9,427.4M323.9,427.4L319.8,425.6M323.9,427.4L319.7,429.1M322.2,444.4L324.4,445.1M324.4,445.1L321.0,442.1M324.4,445.1L319.9,445.5M322.2,461.3L323.0,467.2M323.0,467.2L324.1,462.9M323.0,467.2L320.7,463.4M322.2,478.3L322.6,486.2M322.6,486.2L324.1,482.0M322.6,486.2L320.6,482.2M322.2,495.2L319.4,507.4M319.4,507.4L322.1,503.7M319.4,507.4L318.6,503.0M322.2,512.2L316.8,524.1M316.8,524.1L320.1,521.1M316.8,524.1L316.9,519.6M322.2,529.2L320.9,528.2M320.9,528.2L323.1,532.1M320.9,528.2L325.2,529.3M322.2,546.1L320.9,545.3M320.9,545.3L323.4,549.0M320.9,545.3L325.3,546.1M336.3,71.2L331.8,78.4M331.8,78.4L335.5,75.8M331.8,78.4L332.5,73.9M336.3,88.1L336.5,92.5M336.5,92.5L338.1,88.2M336.5,92.5L334.6,88.4M336.3,105.1L335.3,108.3M335.3,108.3L338.2,104.9M335.3,108.3L334.9,103.9M336.3,122.1L337.1,120.1M337.1,120.1L333.9,123.3M337.1,120.1L337.2,124.6M336.3,139.0L339.7,142.3M339.7,142.3L338.0,138.2M339.7,142.3L335.5,140.7M336.3,156.0L340.6,154.8M340.6,154.8L336.1,154.2M340.6,154.8L337.1,157.6M336.3,172.9L340.2,172.4M340.2,172.4L335.9,171.2M340.2,172.4L336.4,174.7M336.3,189.9L338.5,190.1M338.5,190.1L334.5,188.0M338.5,190.1L334.2,191.5M336.3,206.9L338.0,214.4M338.0,214.4L338.8,210.0M338.0,214.4L335.4,210.7M336.3,223.8L333.6,230.2M333.6,230.2L336.8,227.1M333.6,230.2L333.6,225.7M336.3,240.8L337.1,244.7M337.1,244.7L338.0,240.3M337.1,244.7L334.6,241.0M336.3,257.8L339.2,262.1M339.2,262.1L338.4,257.7M339.2,262.1L335.4,259.6M336.3,274.7L340.2,277.1M340.2,277.1L337.6,273.4M340.2,277.1L335.8,276.5M336.3,291.7L340.2,295.6M340.2,295.6L338.5,291.4M340.2,295.6L336.1,293.9M336.3,308.7L338.0,314.6M338.0,314.6L338.5,310.2M338.0,314.6L335.2,311.1M336.3,325.6L340.6,329.4M340.6,329.4L338.7,325.4M340.6,329.4L336.3,328.0M336.3,342.6L338.8,345.8M338.8,345.8L337.7,341.5M338.8,345.8L334.9,343.6M336.3,359.5L342.7,365.2M342.7,365.2L340.8,361.2M342.7,365.2L338.5,363.8M336.3,376.5L341.5,378.6M341.5,378.6L338.3,375.4M341.5,378.6L337.0,378.7M336.3,393.5L340.6,395.2M340.6,395.2L337.4,392.0M340.6,395.2L336.1,395.3M336.3,410.4L339.2,410.7M339.2,410.7L335.2,408.6M339.2,410.7L334.9,412.1M336.3,427.4L337.4,428.7M337.4,428.7L336.0,424.4M337.4,428.7L333.4,426.7M336.3,444.4L336.2,452.1M336.2,452.1L338.0,448.0M336.2,452.1L334.5,447.9M336.3,461.3L335.0,474.8M335.0,474.8L337.1,470.8M335.0,474.8L333.6,470.5M336.3,478.3L333.9,495.1M333.9,495.1L336.2,491.2M333.9,495.1L332.8,490.7M336.3,495.2L333.6,514.1M333.6,514.1L335.9,510.3M333.6,514.1L332.4,509.7M336.3,512.2L337.4,522.4M337.4,522.4L338.7,518.1M337.4,522.4L335.2,518.5M336.3,529.2L335.7,527.1M335.7,527.1L335.2,531.6M335.7,527.1L338.6,530.6M336.3,546.1L337.4,547.9M337.4,547.9L336.7,543.5M337.4,547.9L333.8,545.3M350.5,71.2L343.6,71.3M343.6,71.3L347.8,73.0M343.6,71.3L347.7,69.5M350.5,88.1L349.4,90.7M349.4,90.7L352.6,87.5M349.4,90.7L349.4,86.2M350.5,105.1L353.8,108.3M353.8,108.3L352.1,104.2M353.8,108.3L349.6,106.7M350.5,122.1L355.6,123.3M355.6,123.3L352.0,120.6M355.6,123.3L351.1,124.0M350.5,139.0L355.6,143.6M355.6,143.6L353.7,139.5M355.6,143.6L351.3,142.1M350.5,156.0L359.1,156.9M359.1,156.9L355.2,154.7M359.1,156.9L354.8,158.2M350.5,172.9L352.9,173.3M352.9,173.3L349.1,171.0M352.9,173.3L348.6,174.4M350.5,189.9L353.8,190.4M353.8,190.4L350.0,188.1M353.8,190.4L349.5,191.5M350.5,206.9L348.5,205.9M348.5,205.9L351.5,209.3M348.5,205.9L353.0,206.2M350.5,223.8L350.3,227.1M350.3,227.1L352.3,223.0M350.3,227.1L348.8,222.8M350.5,240.8L350.3,245.1M350.3,245.1L352.2,241.0M350.3,245.1L348.7,240.8M350.5,257.8L355.6,260.0M355.6,260.0L352.5,256.7M355.6,260.0L351.1,259.9M350.5,274.7L353.8,276.2M353.8,276.2L350.7,272.9M353.8,276.2L349.3,276.1M350.5,291.7L352.1,294.7M352.1,294.7L351.7,290.2M352.1,294.7L348.6,291.9M350.5,308.7L353.8,312.9M353.8,312.9L352.6,308.5M353.8,312.9L349.9,310.7M350.5,325.6L350.8,329.1M350.8,329.1L352.1,324.8M350.8,329.1L348.6,325.1M350.5,342.6L350.8,347.6M350.8,347.6L352.3,343.3M350.8,347.6L348.8,343.6M350.5,359.5L358.2,364.5M358.2,364.5L355.7,360.8M358.2,364.5L353.8,363.8M350.5,376.5L358.8,381.6M358.8,381.6L356.1,377.9M358.8,381.6L354.3,380.9M350.5,393.5L355.6,394.5M355.6,394.5L351.9,392.0M355.6,394.5L351.2,395.4M350.5,410.4L354.3,408.9M354.3,408.9L349.8,408.8M354.3,408.9L351.1,412.1M350.5,427.4L348.9,433.2M348.9,433.2L351.7,429.7M348.9,433.2L348.3,428.8M350.5,444.4L348.5,461.8M348.5,461.8L350.7,457.9M348.5,461.8L347.2,457.5M350.5,461.3L350.3,484.5M350.3,484.5L352.1,480.4M350.3,484.5L348.6,480.3M350.5,478.3L350.6,499.5M350.6,499.5L352.4,495.3M350.6,499.5L348.9,495.3M350.5,495.2L351.2,507.4M351.2,507.4L352.7,503.2M351.2,507.4L349.2,503.4M350.5,512.2L357.3,514.5M357.3,514.5L353.9,511.5M357.3,514.5L352.9,514.8M350.5,529.2L351.5,531.2M351.5,531.2L351.1,526.7M351.5,531.2L348.0,528.3M350.5,546.1L351.2,546.5M351.2,546.5L348.4,543.0M351.2,546.5L346.7,546.1M364.6,54.2L353.3,60.7M353.3,60.7L357.8,60.2M353.3,60.7L356.0,57.2M364.6,71.2L357.9,71.3M357.9,71.3L362.1,73.0M357.9,71.3L362.0,69.5M364.6,88.1L362.3,86.8M362.3,86.8L365.1,90.4M362.3,86.8L366.8,87.3M364.6,105.1L373.7,100.4M373.7,100.4L369.2,100.7M373.7,100.4L370.9,103.9M364.6,122.1L370.6,119.8M370.6,119.8L366.1,119.6M370.6,119.8L367.3,122.9M364.6,139.0L368.8,140.9M368.8,140.9L365.8,137.6M368.8,140.9L364.3,140.8M364.6,156.0L379.4,160.1M379.4,160.1L375.9,157.3M379.4,160.1L374.9,160.7M364.6,172.9L368.8,172.8M368.8,172.8L364.6,171.2M368.8,172.8L364.7,174.7M364.6,189.9L371.4,186.9M371.4,186.9L366.9,187.0M371.4,186.9L368.4,190.2M364.6,206.9L360.3,207.3M360.3,207.3L364.6,208.6M360.3,207.3L364.3,205.1M364.6,223.8L361.8,223.9M361.8,223.9L365.9,225.6M361.8,223.9L365.9,222.1M364.6,240.8L363.5,241.2M363.5,241.2L368.0,241.5M363.5,241.2L366.9,238.2M364.6,257.8L367.9,257.7M367.9,257.7L363.7,256.0M367.9,257.7L363.8,259.5M364.6,274.7L365.6,274.1M365.6,274.1L361.2,274.8M365.6,274.1L363.1,277.8M364.6,291.7L364.4,294.2M364.4,294.2L366.5,290.2M364.4,294.2L363.0,289.9M364.6,308.7L362.6,309.3M362.6,309.3L367.1,309.6M362.6,309.3L366.0,306.3M364.6,325.6L362.6,330.0M362.6,330.0L365.9,326.9M362.6,330.0L362.8,325.5M364.6,342.6L367.9,342.8M367.9,342.8L363.9,340.8M367.9,342.8L363.7,344.3M364.6,359.5L370.6,362.2M370.6,362.2L367.5,358.9M370.6,362.2L366.1,362.1M364.6,376.5L369.2,376.8M369.2,376.8L365.2,374.8M369.2,376.8L364.9,378.3M364.6,393.5L372.3,389.9M372.3,389.9L367.8,390.0M372.3,389.9L369.3,393.2M364.6,410.4L361.8,411.0M361.8,411.0L366.2,411.9M361.8,411.0L365.4,408.5M364.6,427.4L358.6,442.1M358.6,442.1L361.8,438.9M358.6,442.1L358.5,437.6M364.6,444.4L361.4,456.9M361.4,456.9L364.1,453.3M361.4,456.9L360.7,452.4M364.6,461.3L366.2,471.3M366.2,471.3L367.3,466.9M366.2,471.3L363.8,467.4M364.6,478.3L367.4,486.2M367.4,486.2L367.7,481.8M367.4,486.2L364.4,482.9M364.6,495.2L371.4,498.9M371.4,498.9L368.6,495.4M371.4,498.9L367.0,498.5M364.6,512.2L372.3,510.6M372.3,510.6L367.9,509.7M372.3,510.6L368.6,513.1M364.6,529.2L362.6,528.2M362.6,528.2L365.6,531.6M362.6,528.2L367.1,528.5M364.6,546.1L363.5,544.1M363.5,544.1L363.9,548.5M363.5,544.1L367.0,546.9M378.8,54.2L374.4,59.0M374.4,59.0L378.5,57.1M374.4,59.0L375.9,54.7M378.8,71.2L370.9,71.8M370.9,71.8L375.2,73.2M370.9,71.8L374.9,69.7M378.8,88.1L368.3,82.4M368.3,82.4L371.1,85.9M368.3,82.4L372.7,82.9M378.8,105.1L378.1,102.5M378.1,102.5L377.4,107.0M378.1,102.5L380.8,106.1M378.8,122.1L382.0,122.4M382.0,122.4L378.1,120.2M382.0,122.4L377.7,123.7M378.8,139.0L377.3,140.6M377.3,140.6L381.4,138.8M377.3,140.6L378.9,136.4M378.8,156.0L391.8,155.0M391.8,155.0L387.5,153.6M391.8,155.0L387.7,157.1M378.8,172.9L385.5,170.7M385.5,170.7L381.1,170.3M385.5,170.7L382.2,173.7M378.8,189.9L382.5,194.5M382.5,194.5L381.3,190.2M382.5,194.5L378.6,192.4M378.8,206.9L376.7,207.7M376.7,207.7L381.2,207.8M376.7,207.7L379.9,204.5M378.8,223.8L375.9,223.9M375.9,223.9L380.0,225.6M375.9,223.9L380.0,222.1M378.8,240.8L381.1,241.2M381.1,241.2L377.3,238.8M381.1,241.2L376.8,242.3M378.8,257.8L380.3,258.2M380.3,258.2L376.8,255.3M380.3,258.2L375.8,258.7M378.8,274.7L380.3,275.3M380.3,275.3L377.1,272.2M380.3,275.3L375.8,275.4M378.8,291.7L380.3,292.4M380.3,292.4L377.3,289.0M380.3,292.4L375.8,292.2M378.8,308.7L377.6,308.8M377.6,308.8L382.0,310.0M377.6,308.8L381.5,306.5M378.8,325.6L381.1,325.6M381.1,325.6L376.9,323.9M381.1,325.6L377.0,327.4M378.8,342.6L383.3,335.2M383.3,335.2L379.6,337.9M383.3,335.2L382.6,339.7M378.8,359.5L383.3,354.6M383.3,354.6L379.2,356.5M383.3,354.6L381.7,358.9M378.8,376.5L388.2,370.5M388.2,370.5L383.8,371.3M388.2,370.5L385.6,374.2M378.8,393.5L385.5,390.4M385.5,390.4L381.0,390.5M385.5,390.4L382.5,393.7M378.8,410.4L371.4,415.6M371.4,415.6L375.8,414.7M371.4,415.6L373.8,411.8M378.8,427.4L373.2,423.9M373.2,423.9L375.8,427.6M373.2,423.9L377.6,424.6M378.8,444.4L372.3,451.6M372.3,451.6L376.4,449.7M372.3,451.6L373.8,447.3M378.8,461.3L380.8,468.6M380.8,468.6L381.4,464.2M380.8,468.6L378.0,465.1M378.8,478.3L383.3,481.3M383.3,481.3L380.8,477.5M383.3,481.3L378.8,480.4M378.8,495.2L390.3,491.2M390.3,491.2L385.8,490.9M390.3,491.2L387.0,494.2M378.8,512.2L383.8,508.3M383.8,508.3L379.4,509.5M383.8,508.3L381.6,512.2M378.8,529.2L377.3,528.2M377.3,528.2L379.8,531.9M377.3,528.2L381.7,529.0M378.8,546.1L376.7,547.1M376.7,547.1L381.2,546.9M376.7,547.1L379.8,543.8M392.9,54.2L394.4,60.7M394.4,60.7L395.2,56.3M394.4,60.7L391.8,57.1M392.9,71.2L388.2,70.4M388.2,70.4L392.0,72.8M388.2,70.4L392.5,69.3M392.9,88.1L386.1,83.7M386.1,83.7L388.6,87.4M386.1,83.7L390.5,84.5M392.9,105.1L388.5,99.5M388.5,99.5L389.7,103.9M388.5,99.5L392.5,101.7M392.9,122.1L392.2,117.7M392.2,117.7L391.1,122.0M392.2,117.7L394.6,121.5M392.9,139.0L389.9,136.5M389.9,136.5L392.0,140.5M389.9,136.5L394.3,137.8M392.9,156.0L405.0,152.0M405.0,152.0L400.5,151.6M405.0,152.0L401.6,155.0M392.9,172.9L395.2,168.0M395.2,168.0L391.9,171.0M395.2,168.0L395.1,172.5M392.9,189.9L391.7,189.2M391.7,189.2L394.4,192.8M391.7,189.2L396.2,189.8M392.9,206.9L391.7,207.7M391.7,207.7L396.1,206.8M391.7,207.7L394.2,203.9M392.9,223.8L390.8,223.6M390.8,223.6L394.7,225.8M390.8,223.6L395.2,222.4M392.9,240.8L394.4,242.6M394.4,242.6L393.1,238.3M394.4,242.6L390.4,240.4M392.9,257.8L396.1,256.8M396.1,256.8L391.6,256.3M396.1,256.8L392.6,259.7M392.9,274.7L393.1,271.8M393.1,271.8L391.1,275.8M393.1,271.8L394.6,276.0M392.9,291.7L395.2,292.4M395.2,292.4L391.8,289.5M395.2,292.4L390.8,292.8M392.9,308.7L391.7,308.8M391.7,308.8L396.0,310.0M391.7,308.8L395.6,306.5M392.9,325.6L401.8,318.2M401.8,318.2L397.5,319.5M401.8,318.2L399.8,322.2M392.9,342.6L397.0,331.7M397.0,331.7L393.9,335.0M397.0,331.7L397.2,336.2M392.9,359.5L398.8,356.1M398.8,356.1L394.3,356.7M398.8,356.1L396.1,359.7M392.9,376.5L399.6,372.8M399.6,372.8L395.2,373.3M399.6,372.8L396.9,376.3M392.9,393.5L395.2,394.8M395.2,394.8L392.5,391.2M395.2,394.8L390.8,394.2M392.9,410.4L395.2,409.8M395.2,409.8L390.8,409.2M395.2,409.8L391.7,412.6M392.9,427.4L382.5,420.4M382.5,420.4L385.0,424.2M382.5,420.4L387.0,421.3M392.9,444.4L383.3,435.4M383.3,435.4L385.1,439.5M383.3,435.4L387.5,436.9M392.9,461.3L397.9,460.2M397.9,460.2L393.4,459.4M397.9,460.2L394.2,462.8M392.9,478.3L402.9,475.4M402.9,475.4L398.5,474.9M402.9,475.4L399.4,478.2M392.9,495.2L404.9,487.9M404.9,487.9L400.5,488.6M404.9,487.9L402.3,491.6M392.9,512.2L397.0,507.4M397.0,507.4L393.0,509.4M397.0,507.4L395.7,511.7M392.9,529.2L392.6,531.7M392.6,531.7L394.9,527.8M392.6,531.7L391.4,527.4M392.9,546.1L394.4,550.6M394.4,550.6L394.8,546.1M394.4,550.6L391.4,547.2M407.1,54.2L411.1,57.2M411.1,57.2L408.8,53.3M411.1,57.2L406.7,56.1M407.1,71.2L404.1,72.2M404.1,72.2L408.5,72.5M404.1,72.2L407.4,69.2M407.1,88.1L403.2,84.5M403.2,84.5L405.0,88.6M403.2,84.5L407.4,86.1M407.1,105.1L403.7,99.5M403.7,99.5L404.3,104.0M403.7,99.5L407.3,102.2M407.1,122.1L404.1,115.9M404.1,115.9L404.3,120.4M404.1,115.9L407.5,118.9M407.1,139.0L403.7,138.3M403.7,138.3L407.4,140.9M403.7,138.3L408.1,137.4M407.1,156.0L419.6,150.4M419.6,150.4L415.1,150.5M419.6,150.4L416.5,153.7M407.1,172.9L412.0,172.8M412.0,172.8L407.8,171.2M412.0,172.8L407.9,174.7M407.1,189.9L406.7,190.9M406.7,190.9L409.8,187.7M406.7,190.9L406.5,186.4M407.1,206.9L404.1,207.7M404.1,207.7L408.5,208.3M404.1,207.7L407.6,204.9M407.1,223.8L404.4,223.6M404.4,223.6L408.3,225.7M404.4,223.6L408.7,222.2M407.1,240.8L411.1,240.3M411.1,240.3L406.8,239.1M411.1,240.3L407.2,242.5M407.1,257.8L411.5,254.2M411.5,254.2L407.1,255.4M411.5,254.2L409.4,258.2M407.1,274.7L406.7,274.1M406.7,274.1L407.3,278.5M406.7,274.1L410.3,276.7M407.1,291.7L410.2,292.1M410.2,292.1L406.3,289.8M410.2,292.1L405.9,293.3M407.1,308.7L411.1,306.2M411.1,306.2L406.7,306.9M411.1,306.2L408.5,309.8M407.1,325.6L412.5,313.6M412.5,313.6L409.2,316.6M412.5,313.6L412.4,318.1M407.1,342.6L414.6,330.5M414.6,330.5L410.9,333.1M414.6,330.5L413.9,334.9M407.1,359.5L413.7,356.1M413.7,356.1L409.3,356.4M413.7,356.1L410.9,359.5M407.1,376.5L410.2,372.3M410.2,372.3L406.3,374.6M410.2,372.3L409.2,376.6M407.1,393.5L408.5,395.2M408.5,395.2L407.2,390.9M408.5,395.2L404.5,393.1M407.1,410.4L416.0,401.5M416.0,401.5L411.9,403.2M416.0,401.5L414.3,405.7M407.1,427.4L397.9,418.6M397.9,418.6L399.7,422.7M397.9,418.6L402.1,420.2M407.1,444.4L397.0,435.0M397.0,435.0L398.8,439.1M397.0,435.0L401.2,436.5M407.1,461.3L407.9,455.4M407.9,455.4L405.6,459.3M407.9,455.4L409.1,459.8M407.1,478.3L420.3,470.7M420.3,470.7L415.8,471.3M420.3,470.7L417.5,474.3M407.1,495.2L416.4,487.7M416.4,487.7L412.1,488.9M416.4,487.7L414.3,491.6M407.1,512.2L412.9,505.3M412.9,505.3L408.9,507.3M412.9,505.3L411.5,509.6M407.1,529.2L403.7,524.1M403.7,524.1L404.6,528.6M403.7,524.1L407.5,526.6M407.1,546.1L407.6,548.3M407.6,548.3L408.3,543.9M407.6,548.3L404.9,544.6M407.1,563.1L415.6,555.1M415.6,555.1L411.4,556.7M415.6,555.1L413.8,559.2M421.2,54.2L419.0,57.7M419.0,57.7L422.7,55.1M419.0,57.7L419.7,53.3M421.2,71.2L426.1,75.7M426.1,75.7L424.3,71.6M426.1,75.7L421.9,74.2M421.2,88.1L418.1,88.1M418.1,88.1L422.3,89.9M418.1,88.1L422.3,86.4M421.2,105.1L420.8,101.3M420.8,101.3L419.5,105.6M420.8,101.3L423.0,105.2M421.2,122.1L420.3,116.6M420.3,116.6L419.3,121.0M420.3,116.6L422.7,120.4M421.2,139.0L417.8,134.2M417.8,134.2L418.8,138.6M417.8,134.2L421.6,136.6M421.2,156.0L425.2,153.9M425.2,153.9L420.7,154.3M425.2,153.9L422.3,157.4M421.2,172.9L423.8,173.8M423.8,173.8L420.5,170.8M423.8,173.8L419.3,174.1M421.2,189.9L424.3,190.1M424.3,190.1L420.3,188.1M424.3,190.1L420.1,191.6M421.2,206.9L419.0,206.8M419.0,206.8L423.1,208.7M419.0,206.8L423.2,205.2M421.2,223.8L423.8,223.2M423.8,223.2L419.3,222.5M423.8,223.2L420.2,225.9M421.2,240.8L429.6,237.6M429.6,237.6L425.1,237.5M429.6,237.6L426.3,240.7M421.2,257.8L425.6,255.4M425.6,255.4L421.1,255.8M425.6,255.4L422.8,258.9M421.2,274.7L418.1,276.6M418.1,276.6L422.6,275.9M418.1,276.6L420.8,272.9M421.2,291.7L425.2,291.7M425.2,291.7L421.1,289.9M425.2,291.7L421.0,293.4M421.2,308.7L433.1,297.4M433.1,297.4L428.9,298.9M433.1,297.4L431.3,301.5M421.2,325.6L432.2,306.5M432.2,306.5L428.7,309.2M432.2,306.5L431.7,311.0M421.2,342.6L427.3,328.7M427.3,328.7L424.0,331.8M427.3,328.7L427.3,333.2M421.2,359.5L422.7,348.1M422.7,348.1L420.5,352.0M422.7,348.1L423.9,352.5M421.2,376.5L422.6,369.8M422.6,369.8L420.0,373.5M422.6,369.8L423.5,374.2M421.2,393.5L428.7,383.9M428.7,383.9L424.8,386.1M428.7,383.9L427.5,388.2M421.2,410.4L431.9,402.8M431.9,402.8L427.5,403.8M431.9,402.8L429.6,406.6M421.2,427.4L416.7,419.1M416.7,419.1L417.2,423.6M416.7,419.1L420.3,421.9M421.2,444.4L414.3,433.6M414.3,433.6L415.1,438.0M414.3,433.6L418.0,436.1M421.2,461.3L421.3,450.6M421.3,450.6L419.5,454.8M421.3,450.6L423.0,454.8M421.2,478.3L433.1,471.8M433.1,471.8L428.7,472.2M433.1,471.8L430.3,475.3M421.2,495.2L430.1,490.7M430.1,490.7L425.6,491.0M430.1,490.7L427.3,494.1M421.2,512.2L430.5,505.3M430.5,505.3L426.1,506.4M430.5,505.3L428.2,509.2M421.2,529.2L417.8,518.3M417.8,518.3L417.4,522.8M417.8,518.3L420.7,521.8M421.2,546.1L421.3,534.2M421.3,534.2L419.5,538.3M421.3,534.2L423.0,538.3M421.2,563.1L425.2,560.1M425.2,560.1L420.9,561.2M425.2,560.1L423.0,564.0M435.4,54.2L431.4,56.0M431.4,56.0L435.9,55.9M431.4,56.0L434.4,52.7M435.4,71.2L439.3,75.4M439.3,75.4L437.8,71.1M439.3,75.4L435.2,73.5M435.4,88.1L438.9,95.5M438.9,95.5L438.7,91.0M438.9,95.5L435.6,92.5M435.4,105.1L436.1,109.6M436.1,109.6L437.2,105.2M436.1,109.6L433.7,105.8M435.4,122.1L433.1,122.4M433.1,122.4L437.5,123.5M433.1,122.4L436.9,120.0M435.4,139.0L434.9,135.3M434.9,135.3L433.7,139.6M434.9,135.3L437.2,139.2M435.4,156.0L437.9,153.4M437.9,153.4L433.7,155.2M437.9,153.4L436.3,157.6M435.4,172.9L434.0,173.3M434.0,173.3L438.5,173.9M434.0,173.3L437.5,170.5M435.4,189.9L438.8,185.7M438.8,185.7L434.8,187.8M438.8,185.7L437.6,190.0M435.4,206.9L435.4,203.8M435.4,203.8L433.6,207.9M435.4,203.8L437.1,208.0M435.4,223.8L433.7,222.1M433.7,222.1L435.4,226.3M433.7,222.1L437.8,223.8M435.4,240.8L443.7,239.8M443.7,239.8L439.4,238.5M443.7,239.8L439.8,242.0M435.4,257.8L438.9,257.7M438.9,257.7L434.8,256.0M438.9,257.7L434.8,259.5M435.4,274.7L433.1,274.4M433.1,274.4L437.0,276.7M433.1,274.4L437.5,273.2M435.4,291.7L438.4,288.9M438.4,288.9L434.2,290.4M438.4,288.9L436.6,293.0M435.4,308.7L450.8,292.9M450.8,292.9L446.6,294.7M450.8,292.9L449.1,297.1M435.4,325.6L446.4,317.1M446.4,317.1L442.0,318.3M446.4,317.1L444.2,321.0M435.4,342.6L435.4,344.9M435.4,344.9L437.1,340.8M435.4,344.9L433.6,340.8M435.4,359.5L434.9,357.5M434.9,357.5L434.1,361.9M434.9,357.5L437.6,361.1M435.4,376.5L431.4,365.7M431.4,365.7L431.2,370.2M431.4,365.7L434.5,369.0M435.4,393.5L444.6,385.7M444.6,385.7L440.3,387.0M444.6,385.7L442.6,389.7M435.4,410.4L443.2,407.2M443.2,407.2L438.7,407.1M443.2,407.2L440.0,410.4M435.4,427.4L433.7,426.6M433.7,426.6L436.6,429.9M433.7,426.6L438.2,426.8M435.4,444.4L431.4,444.2M431.4,444.2L435.4,446.1M431.4,444.2L435.6,442.6M435.4,461.3L427.3,450.1M427.3,450.1L428.3,454.5M427.3,450.1L431.2,452.5M435.4,478.3L443.2,476.6M443.2,476.6L438.8,475.7M443.2,476.6L439.5,479.2M435.4,495.2L446.7,495.4M446.7,495.4L442.6,493.6M446.7,495.4L442.5,497.1M435.4,512.2L447.2,511.8M447.2,511.8L443.0,510.2M447.2,511.8L443.1,513.7M435.4,529.2L435.4,521.1M435.4,521.1L433.7,525.3M435.4,521.1L437.2,525.3M435.4,546.1L432.6,536.5M432.6,536.5L432.1,540.9M432.6,536.5L435.4,540.0M435.4,563.1L439.1,553.3M439.1,553.3L436.0,556.6M439.1,553.3L439.3,557.8M449.5,71.2L447.2,71.8M447.2,71.8L451.7,72.3M447.2,71.8L450.7,69.0M449.5,88.1L452.0,93.0M452.0,93.0L451.7,88.5M452.0,93.0L448.6,90.1M449.5,105.1L450.8,109.6M450.8,109.6L451.4,105.1M450.8,109.6L448.0,106.0M449.5,122.1L452.0,123.0M452.0,123.0L448.7,119.9M452.0,123.0L447.5,123.2M449.5,139.0L449.9,135.6M449.9,135.6L447.7,139.6M449.9,135.6L451.2,139.9M449.5,156.0L449.5,152.7M449.5,152.7L447.8,156.9M449.5,152.7L451.3,156.8M449.5,172.9L446.4,172.1M446.4,172.1L449.9,174.9M446.4,172.1L450.8,171.5M449.5,189.9L450.8,185.7M450.8,185.7L447.9,189.2M450.8,185.7L451.3,190.1M449.5,206.9L452.0,201.0M452.0,201.0L448.8,204.1M452.0,201.0L452.0,205.5M449.5,223.8L449.3,217.9M449.3,217.9L447.7,222.1M449.3,217.9L451.2,222.0M449.5,240.8L456.6,238.5M456.6,238.5L452.1,238.1M456.6,238.5L453.2,241.5M449.5,257.8L451.3,260.0M451.3,260.0L450.1,255.6M451.3,260.0L447.3,257.8M449.5,274.7L453.4,274.1M453.4,274.1L449.0,273.0M453.4,274.1L449.6,276.5M449.5,291.7L460.8,284.1M460.8,284.1L456.4,285.0M460.8,284.1L458.3,287.9M449.5,308.7L467.5,300.0M467.5,300.0L463.0,300.2M467.5,300.0L464.5,303.4M449.5,325.6L449.5,321.7M449.5,321.7L447.8,325.8M449.5,321.7L451.3,325.8M449.5,342.6L446.4,333.5M446.4,333.5L446.1,338.0M446.4,333.5L449.4,336.8M449.5,359.5L451.6,360.5M451.6,360.5L448.5,357.2M451.6,360.5L447.1,360.4M449.5,376.5L452.0,377.2M452.0,377.2L448.5,374.4M452.0,377.2L447.5,377.8M449.5,393.5L453.0,389.9M453.0,389.9L448.9,391.6M453.0,389.9L451.4,394.1M449.5,410.4L454.3,412.8M454.3,412.8L451.4,409.4M454.3,412.8L449.8,412.5M449.5,427.4L449.0,433.6M449.0,433.6L451.1,429.6M449.0,433.6L447.6,429.3M449.5,444.4L444.6,453.0M444.6,453.0L448.2,450.3M444.6,453.0L445.1,448.5M449.5,461.3L449.0,465.5M449.0,465.5L451.3,461.6M449.0,465.5L447.8,461.1M449.5,478.3L451.3,477.8M451.3,477.8L446.8,477.2M451.3,477.8L447.8,480.6M449.5,495.2L463.6,500.9M463.6,500.9L460.4,497.7M463.6,500.9L459.1,501.0M449.5,512.2L460.1,518.0M460.1,518.0L457.3,514.5M460.1,518.0L455.6,517.5M449.5,529.2L457.3,531.2M457.3,531.2L453.7,528.5M457.3,531.2L452.8,531.8M449.5,546.1L446.0,536.5M446.0,536.5L445.8,541.0M446.0,536.5L449.1,539.8M449.5,563.1L453.0,559.2M453.0,559.2L449.0,561.1M453.0,559.2L451.6,563.5M463.7,71.2L463.1,68.7M463.1,68.7L462.4,73.1M463.1,68.7L465.8,72.3M463.7,88.1L463.1,90.2M463.1,90.2L465.9,86.7M463.1,90.2L462.6,85.7M463.7,105.1L464.0,107.8M464.0,107.8L465.3,103.5M464.0,107.8L461.8,103.9M463.7,122.1L467.5,122.8M467.5,122.8L463.8,120.3M467.5,122.8L463.1,123.7M463.7,139.0L464.9,140.9M464.9,140.9L464.2,136.5M464.9,140.9L461.2,138.3M463.7,156.0L462.2,155.7M462.2,155.7L465.9,158.2M462.2,155.7L466.6,154.8M463.7,172.9L460.8,172.4M460.8,172.4L464.6,174.9M460.8,172.4L465.2,171.4M463.7,189.9L463.6,186.9M463.6,186.9L462.0,191.1M463.6,186.9L465.5,191.0M463.7,206.9L469.3,197.1M469.3,197.1L465.7,199.8M469.3,197.1L468.7,201.6M463.7,223.8L466.1,219.7M466.1,219.7L462.5,222.4M466.1,219.7L465.5,224.1M463.7,240.8L469.6,236.2M469.6,236.2L465.3,237.4M469.6,236.2L467.4,240.2M463.7,257.8L467.9,254.7M467.9,254.7L463.5,255.7M467.9,254.7L465.6,258.6M463.7,274.7L468.4,274.4M468.4,274.4L464.1,272.9M468.4,274.4L464.4,276.4M463.7,291.7L476.3,285.5M476.3,285.5L471.8,285.8M476.3,285.5L473.4,288.9M463.7,308.7L476.7,300.0M476.7,300.0L472.2,300.8M476.7,300.0L474.2,303.8M463.7,325.6L467.5,322.4M467.5,322.4L463.2,323.7M467.5,322.4L465.5,326.4M463.7,342.6L457.3,342.8M457.3,342.8L461.5,344.4M457.3,342.8L461.4,340.9M463.7,359.5L464.3,362.2M464.3,362.2L465.1,357.8M464.3,362.2L461.7,358.6M463.7,376.5L467.1,374.6M467.1,374.6L462.7,375.1M467.1,374.6L464.4,378.1M463.7,393.5L467.5,394.5M467.5,394.5L463.9,391.7M467.5,394.5L463.0,395.1M463.7,410.4L463.1,417.4M463.1,417.4L465.2,413.4M463.1,417.4L461.7,413.1M463.7,427.4L458.3,440.3M458.3,440.3L461.5,437.1M458.3,440.3L458.3,435.8M463.7,444.4L458.7,456.5M458.7,456.5L461.9,453.3M458.7,456.5L458.6,452.0M463.7,461.3L465.7,473.6M465.7,473.6L466.8,469.2M465.7,473.6L463.3,469.8M463.7,478.3L462.2,483.6M462.2,483.6L465.0,480.1M462.2,483.6L461.6,479.1M463.7,495.2L477.2,501.2M477.2,501.2L474.1,497.9M477.2,501.2L472.7,501.2M463.7,512.2L473.7,518.0M473.7,518.0L471.0,514.4M473.7,518.0L469.2,517.4M463.7,529.2L473.7,533.8M473.7,533.8L470.7,530.5M473.7,533.8L469.2,533.7M463.7,546.1L470.7,542.3M470.7,542.3L466.2,542.8M470.7,542.3L467.9,545.8M463.7,563.1L466.5,558.6M466.5,558.6L462.8,561.2M466.5,558.6L465.8,563.0M477.8,71.2L477.2,68.3M477.2,68.3L476.4,72.8M477.2,68.3L479.8,72.0M477.8,88.1L476.0,86.8M476.0,86.8L478.4,90.6M476.0,86.8L480.4,87.7M477.8,105.1L477.2,103.9M477.2,103.9L477.7,108.4M477.2,103.9L480.7,106.7M477.8,122.1L480.2,121.5M480.2,121.5L475.8,120.7M480.2,121.5L476.5,124.1M477.8,139.0L481.6,139.5M481.6,139.5L477.7,137.2M481.6,139.5L477.3,140.7M477.8,156.0L477.7,153.9M477.7,153.9L476.2,158.2M477.7,153.9L479.7,158.0M477.8,172.9L477.2,170.3M477.2,170.3L476.5,174.8M477.2,170.3L479.9,173.9M477.8,189.9L479.8,189.2M479.8,189.2L475.3,189.0M479.8,189.2L476.5,192.2M477.8,206.9L481.2,207.3M481.2,207.3L477.4,205.0M481.2,207.3L476.9,208.5M477.8,223.8L477.2,220.9M477.2,220.9L476.4,225.3M477.2,220.9L479.8,224.6M477.8,240.8L482.5,241.2M482.5,241.2L478.5,239.1M482.5,241.2L478.2,242.6M477.8,257.8L484.2,256.5M484.2,256.5L479.8,255.6M484.2,256.5L480.5,259.0M477.8,274.7L485.1,274.8M485.1,274.8L481.0,273.0M485.1,274.8L481.0,276.5M477.8,291.7L493.6,288.5M493.6,288.5L489.2,287.6M493.6,288.5L489.9,291.1M477.8,308.7L486.9,304.0M486.9,304.0L482.4,304.4M486.9,304.0L484.0,307.5M477.8,325.6L475.4,325.2M475.4,325.2L479.2,327.6M475.4,325.2L479.8,324.2M477.8,342.6L471.9,342.3M471.9,342.3L476.0,344.2M471.9,342.3L476.1,340.7M477.8,359.5L478.4,361.7M478.4,361.7L479.0,357.2M478.4,361.7L475.7,358.1M477.8,376.5L478.4,374.6M478.4,374.6L475.6,378.0M478.4,374.6L478.9,379.0M477.8,393.5L477.2,396.2M477.2,396.2L479.9,392.6M477.2,396.2L476.4,391.8M477.8,410.4L473.1,412.4M473.1,412.4L477.6,412.4M473.1,412.4L476.3,409.2M477.8,427.4L467.9,438.5M467.9,438.5L471.9,436.6M467.9,438.5L469.3,434.3M477.8,444.4L469.6,456.2M469.6,456.2L473.4,453.8M469.6,456.2L470.5,451.8M477.8,461.3L476.3,472.5M476.3,472.5L478.6,468.6M476.3,472.5L475.1,468.2M477.8,478.3L483.4,489.4M483.4,489.4L483.1,484.9M483.4,489.4L480.0,486.5M477.8,495.2L487.8,500.7M487.8,500.7L485.0,497.2M487.8,500.7L483.3,500.2M477.8,512.2L490.4,515.9M490.4,515.9L486.9,513.0M490.4,515.9L485.9,516.4M477.8,529.2L486.0,528.5M486.0,528.5L481.7,527.1M486.0,528.5L482.0,530.6M477.8,546.1L490.4,546.2M490.4,546.2L486.3,544.4M490.4,546.2L486.3,547.9M492.0,54.2L487.8,66.0M487.8,66.0L490.8,62.7M487.8,66.0L487.5,61.5M492.0,71.2L492.2,74.3M492.2,74.3L493.7,70.1M492.2,74.3L490.2,70.3M492.0,88.1L491.8,86.3M491.8,86.3L490.5,90.6M491.8,86.3L494.0,90.3M492.0,105.1L491.8,102.5M491.8,102.5L490.4,106.8M491.8,102.5L493.9,106.5M492.0,122.1L489.0,123.0M489.0,123.0L493.5,123.4M489.0,123.0L492.5,120.1M492.0,139.0L494.8,140.1M494.8,140.1L491.5,137.0M494.8,140.1L490.3,140.3M492.0,156.0L492.2,157.5M492.2,157.5L493.4,153.1M492.2,157.5L489.9,153.5M492.0,172.9L490.1,171.6M490.1,171.6L492.4,175.4M490.1,171.6L494.5,172.5M492.0,189.9L490.4,187.9M490.4,187.9L491.7,192.3M490.4,187.9L494.4,190.1M492.0,206.9L497.5,206.3M497.5,206.3L493.2,205.0M497.5,206.3L493.5,208.5M492.0,223.8L492.5,225.7M492.5,225.7L493.1,221.2M492.5,225.7L489.7,222.2M492.0,240.8L494.1,234.1M494.1,234.1L491.2,237.5M494.1,234.1L494.5,238.6M492.0,257.8L495.4,253.3M495.4,253.3L491.5,255.6M495.4,253.3L494.3,257.7M492.0,274.7L498.1,274.9M498.1,274.9L494.0,273.0M498.1,274.9L493.9,276.5M492.0,291.7L507.4,292.0M507.4,292.0L503.3,290.1M507.4,292.0L503.2,293.7M492.0,308.7L502.4,309.6M502.4,309.6L498.4,307.4M502.4,309.6L498.1,310.9M492.0,325.6L493.4,326.6M493.4,326.6L491.1,322.8M493.4,326.6L489.0,325.6M492.0,342.6L489.7,334.5M489.7,334.5L489.1,338.9M489.7,334.5L492.5,338.0M492.0,359.5L490.0,349.1M490.0,349.1L489.1,353.5M490.0,349.1L492.5,352.8M492.0,376.5L493.8,372.2M493.8,372.2L490.6,375.4M493.8,372.2L493.8,376.7M492.0,393.5L493.4,395.7M493.4,395.7L492.7,391.3M493.4,395.7L489.7,393.1M492.0,410.4L482.8,420.4M482.8,420.4L486.9,418.5M482.8,420.4L484.4,416.1M492.0,427.4L477.2,441.0M477.2,441.0L481.4,439.5M477.2,441.0L479.1,436.9M492.0,444.4L482.8,454.8M482.8,454.8L486.9,452.8M482.8,454.8L484.3,450.5M492.0,461.3L489.0,472.1M489.0,472.1L491.8,468.6M489.0,472.1L488.4,467.7M492.0,478.3L497.5,488.4M497.5,488.4L497.0,483.9M497.5,488.4L493.9,485.6M492.0,495.2L497.5,502.1M497.5,502.1L496.3,497.8M497.5,502.1L493.5,500.0M492.0,512.2L509.4,515.3M509.4,515.3L505.7,512.9M509.4,515.3L505.1,516.3M492.0,529.2L501.9,526.8M501.9,526.8L497.4,526.1M501.9,526.8L498.3,529.5M492.0,546.1L502.4,546.2M502.4,546.2L498.3,544.4M502.4,546.2L498.2,547.9M506.2,54.2L504.9,62.5M504.9,62.5L507.2,58.7M504.9,62.5L503.8,58.1M506.2,71.2L510.7,74.0M510.7,74.0L508.1,70.3M510.7,74.0L506.2,73.3M506.2,88.1L504.9,88.4M504.9,88.4L509.3,89.2M504.9,88.4L508.5,85.8M506.2,105.1L504.2,104.8M504.2,104.8L508.0,107.1M504.2,104.8L508.5,103.7M506.2,122.1L505.9,120.7M505.9,120.7L504.9,125.0M505.9,120.7L508.3,124.5M506.2,139.0L507.7,139.5M507.7,139.5L504.3,136.6M507.7,139.5L503.2,139.9M506.2,156.0L506.6,156.9M506.6,156.9L506.3,152.4M506.6,156.9L503.2,154.0M506.2,172.9L510.7,170.7M510.7,170.7L506.2,171.0M510.7,170.7L507.8,174.1M506.2,189.9L504.2,189.2M504.2,189.2L507.5,192.2M504.2,189.2L508.7,189.0M506.2,206.9L512.3,203.8M512.3,203.8L507.8,204.1M512.3,203.8L509.4,207.2M506.2,223.8L512.7,221.8M512.7,221.8L508.2,221.3M512.7,221.8L509.3,224.7M506.2,240.8L505.8,237.2M505.8,237.2L504.5,241.5M505.8,237.2L508.0,241.1M506.2,257.8L504.9,257.9M504.9,257.9L509.2,259.2M504.9,257.9L508.8,255.7M506.2,274.7L511.7,275.1M511.7,275.1L507.7,273.1M511.7,275.1L507.4,276.6M506.2,291.7L519.1,295.3M519.1,295.3L515.6,292.5M519.1,295.3L514.7,295.9M506.2,308.7L520.6,314.5M520.6,314.5L517.4,311.3M520.6,314.5L516.1,314.6M506.2,325.6L514.4,329.6M514.4,329.6L511.4,326.2M514.4,329.6L509.9,329.4M506.2,342.6L511.9,337.2M511.9,337.2L507.7,338.7M511.9,337.2L510.1,341.3M506.2,359.5L500.3,351.6M500.3,351.6L501.3,355.9M500.3,351.6L504.2,353.9M506.2,376.5L499.3,380.0M499.3,380.0L503.8,379.7M499.3,380.0L502.2,376.6M506.2,393.5L498.7,404.4M498.7,404.4L502.5,402.0M498.7,404.4L499.6,400.0M506.2,410.4L494.3,424.4M494.3,424.4L498.3,422.4M494.3,424.4L495.6,420.1M506.2,427.4L491.8,440.3M491.8,440.3L496.1,438.8M491.8,440.3L493.7,436.2M506.2,444.4L495.7,453.9M495.7,453.9L499.9,452.4M495.7,453.9L497.6,449.8M506.2,461.3L504.9,470.0M504.9,470.0L507.2,466.2M504.9,470.0L503.7,465.7M506.2,478.3L511.2,485.9M511.2,485.9L510.4,481.5M511.2,485.9L507.5,483.4M506.2,495.2L511.9,502.1M511.9,502.1L510.6,497.8M511.9,502.1L507.9,500.1M506.2,512.2L527.8,516.2M527.8,516.2L524.0,513.7M527.8,516.2L523.4,517.2M506.2,529.2L521.8,530.3M521.8,530.3L517.8,528.3M521.8,530.3L517.5,531.8M506.2,546.1L518.3,547.1M518.3,547.1L514.3,545.0M518.3,547.1L514.0,548.5M520.3,71.2L523.9,70.8M523.9,70.8L519.6,69.5M523.9,70.8L520.0,73.0M520.3,88.1L525.7,88.9M525.7,88.9L521.8,86.6M525.7,88.9L521.3,90.1M520.3,105.1L523.0,105.3M523.0,105.3L519.0,103.2M523.0,105.3L518.7,106.7M520.3,122.1L517.7,122.4M517.7,122.4L522.1,123.6M517.7,122.4L521.6,120.1M520.3,139.0L518.6,139.2M518.6,139.2L522.9,140.5M518.6,139.2L522.6,137.0M520.3,156.0L518.6,154.8M518.6,154.8L521.0,158.6M518.6,154.8L523.0,155.7M520.3,172.9L525.7,169.8M525.7,169.8L521.2,170.4M525.7,169.8L523.0,173.4M520.3,189.9L524.3,186.2M524.3,186.2L520.0,187.8M524.3,186.2L522.4,190.3M520.3,206.9L528.4,203.2M528.4,203.2L523.9,203.3M528.4,203.2L525.4,206.5M520.3,223.8L528.8,223.0M528.8,223.0L524.5,221.7M528.8,223.0L524.8,225.1M520.3,240.8L523.5,240.9M523.5,240.9L519.4,239.0M523.5,240.9L519.2,242.5M520.3,257.8L521.6,257.9M521.6,257.9L517.6,255.7M521.6,257.9L517.3,259.2M520.3,274.7L524.1,274.9M524.1,274.9L520.0,273.0M524.1,274.9L519.9,276.5M520.3,291.7L530.9,294.9M530.9,294.9L527.4,292.1M530.9,294.9L526.4,295.4M520.3,308.7L534.6,319.4M534.6,319.4L532.3,315.6M534.6,319.4L530.2,318.3M520.3,325.6L532.1,336.8M532.1,336.8L530.3,332.7M532.1,336.8L527.9,335.2M520.3,342.6L531.5,352.8M531.5,352.8L529.6,348.7M531.5,352.8L527.3,351.3M520.3,359.5L513.6,368.1M513.6,368.1L517.5,366.0M513.6,368.1L514.7,363.8M520.3,376.5L509.0,384.0M509.0,384.0L513.4,383.2M509.0,384.0L511.5,380.2M520.3,393.5L511.5,403.5M511.5,403.5L515.5,401.6M511.5,403.5L512.9,399.3M520.3,410.4L504.5,424.4M504.5,424.4L508.8,423.0M504.5,424.4L506.5,420.4M520.3,427.4L508.9,438.0M508.9,438.0L513.1,436.5M508.9,438.0L510.8,433.9M520.3,444.4L511.6,455.6M511.6,455.6L515.5,453.4M511.6,455.6L512.7,451.3M520.3,461.3L516.0,468.6M516.0,468.6L519.6,466.0M516.0,468.6L516.6,464.2M520.3,478.3L528.8,484.1M528.8,484.1L526.4,480.3M528.8,484.1L524.4,483.2M520.3,495.2L528.3,500.9M528.3,500.9L525.9,497.1M528.3,500.9L523.9,499.9M520.3,512.2L541.5,515.9M541.5,515.9L537.7,513.4M541.5,515.9L537.1,516.9M520.3,529.2L537.1,535.6M537.1,535.6L533.9,532.5M537.1,535.6L532.6,535.8M520.3,546.1L533.1,555.0M533.1,555.0L530.7,551.2M533.1,555.0L528.7,554.1M534.5,71.2L532.0,71.0M532.0,71.0L536.0,73.0M532.0,71.0L536.3,69.6M534.5,88.1L538.0,88.1M538.0,88.1L533.8,86.4M538.0,88.1L533.9,89.9M534.5,105.1L538.0,105.2M538.0,105.2L533.9,103.3M538.0,105.2L533.8,106.8M534.5,122.1L532.4,121.5M532.4,121.5L536.0,124.2M532.4,121.5L536.8,120.8M534.5,139.0L532.7,138.3M532.7,138.3L535.9,141.5M532.7,138.3L537.2,138.3M534.5,156.0L532.7,153.9M532.7,153.9L534.1,158.2M532.7,153.9L536.7,155.9M534.5,172.9L535.0,168.0M535.0,168.0L532.8,172.0M535.0,168.0L536.3,172.3M534.5,189.9L538.0,182.1M538.0,182.1L534.7,185.2M538.0,182.1L537.9,186.6M534.5,206.9L542.9,201.9M542.9,201.9L538.4,202.5M542.9,201.9L540.2,205.6M534.5,223.8L542.9,221.1M542.9,221.1L538.4,220.7M542.9,221.1L539.5,224.1M534.5,240.8L533.4,241.3M533.4,241.3L537.9,241.2M533.4,241.3L536.4,238.0M534.5,257.8L536.5,258.9M536.5,258.9L533.7,255.3M536.5,258.9L532.0,258.4M534.5,274.7L537.1,274.7M537.1,274.7L532.9,273.0M537.1,274.7L533.0,276.5M534.5,291.7L541.6,292.2M541.6,292.2L537.6,290.2M541.6,292.2L537.4,293.7M534.5,308.7L545.4,318.8M545.4,318.8L543.5,314.7M545.4,318.8L541.1,317.3M534.5,325.6L546.4,339.9M546.4,339.9L545.0,335.6M546.4,339.9L542.3,337.8M534.5,342.6L547.0,364.2M547.0,364.2L546.4,359.7M547.0,364.2L543.4,361.5M534.5,359.5L533.0,380.3M533.0,380.3L535.0,376.3M533.0,380.3L531.5,376.0M534.5,376.5L525.1,391.4M525.1,391.4L528.8,388.8M525.1,391.4L525.8,387.0M534.5,393.5L525.3,404.4M525.3,404.4L529.3,402.3M525.3,404.4L526.6,400.1M534.5,410.4L518.3,422.7M518.3,422.7L522.6,421.6M518.3,422.7L520.5,418.8M534.5,427.4L524.3,438.9M524.3,438.9L528.3,437.0M524.3,438.9L525.7,434.6M534.5,444.4L526.5,456.9M526.5,456.9L530.2,454.3M526.5,456.9L527.3,452.4M534.5,461.3L528.8,471.8M528.8,471.8L532.3,469.0M528.8,471.8L529.3,467.3M534.5,478.3L539.8,481.8M539.8,481.8L537.3,478.1M539.8,481.8L535.3,481.0M534.5,495.2L540.6,498.6M540.6,498.6L537.8,495.1M540.6,498.6L536.2,498.2M534.5,512.2L555.6,517.1M555.6,517.1L552.0,514.5M555.6,517.1L551.2,517.9M534.5,529.2L552.1,537.4M552.1,537.4L549.1,534.0M552.1,537.4L547.6,537.2M534.5,546.1L548.6,555.9M548.6,555.9L546.2,552.1M548.6,555.9L544.2,555.0M548.6,71.2L546.9,70.1M546.9,70.1L549.5,73.8M546.9,70.1L551.4,70.8M548.6,88.1L554.9,86.3M554.9,86.3L550.4,85.8M554.9,86.3L551.4,89.1M548.6,105.1L553.1,103.6M553.1,103.6L548.6,103.2M553.1,103.6L549.7,106.6M548.6,122.1L552.2,117.7M552.2,117.7L548.2,119.8M552.2,117.7L550.9,122.0M548.6,139.0L552.2,133.9M552.2,133.9L548.4,136.3M552.2,133.9L551.3,138.3M548.6,156.0L549.9,150.9M549.9,150.9L547.2,154.5M549.9,150.9L550.6,155.4M548.6,172.9L549.2,167.2M549.2,167.2L547.0,171.1M549.2,167.2L550.5,171.5M548.6,189.9L556.6,182.1M556.6,182.1L552.4,183.8M556.6,182.1L554.9,186.3M548.6,206.9L556.2,201.0M556.2,201.0L551.9,202.1M556.2,201.0L554.0,204.9M548.6,223.8L549.4,225.7M549.4,225.7L549.4,221.2M549.4,225.7L546.2,222.6M548.6,240.8L546.6,241.6M546.6,241.6L551.1,241.7M546.6,241.6L549.9,238.5M548.6,257.8L552.8,263.2M552.8,263.2L551.7,258.8M552.8,263.2L548.9,261.0M548.6,274.7L549.8,283.6M549.8,283.6L551.0,279.2M549.8,283.6L547.5,279.7M548.6,291.7L548.8,310.2M548.8,310.2L550.5,306.0M548.8,310.2L547.0,306.0M548.6,308.7L555.3,332.4M555.3,332.4L555.8,328.0M555.3,332.4L552.5,328.9M548.6,325.6L559.3,344.2M559.3,344.2L558.8,339.7M559.3,344.2L555.8,341.5M548.6,342.6L558.5,365.4M558.5,365.4L558.4,360.9M558.5,365.4L555.2,362.3M548.6,359.5L552.3,382.1M552.3,382.1L553.4,377.7M552.3,382.1L549.9,378.3M548.6,376.5L545.7,393.9M545.7,393.9L548.1,390.1M545.7,393.9L544.7,389.5M548.6,393.5L539.2,405.3M539.2,405.3L543.1,403.1M539.2,405.3L540.4,400.9M548.6,410.4L537.2,418.6M537.2,418.6L541.6,417.6M537.2,418.6L539.6,414.8M548.6,427.4L539.9,437.1M539.9,437.1L544.0,435.2M539.9,437.1L541.3,432.9M548.6,444.4L540.8,456.5M540.8,456.5L544.5,454.0M540.8,456.5L541.5,452.1M548.6,461.3L547.5,474.8M547.5,474.8L549.6,470.8M547.5,474.8L546.1,470.5M548.6,478.3L560.1,484.1M560.1,484.1L557.2,480.7M560.1,484.1L555.7,483.8M548.6,495.2L561.0,498.2M561.0,498.2L557.4,495.6M561.0,498.2L556.6,499.0M548.6,512.2L574.2,518.0M574.2,518.0L570.6,515.4M574.2,518.0L569.8,518.8M548.6,529.2L569.0,539.1M569.0,539.1L566.0,535.7M569.0,539.1L564.5,538.9M548.6,546.1L561.0,558.9M561.0,558.9L559.4,554.7M561.0,558.9L556.9,557.1M562.8,71.2L562.8,66.0M562.8,66.0L561.0,70.2M562.8,66.0L564.5,70.2M562.8,88.1L566.8,85.9M566.8,85.9L562.4,86.4M566.8,85.9L564.0,89.4M562.8,105.1L568.6,102.5M568.6,102.5L564.1,102.6M568.6,102.5L565.5,105.8M562.8,122.1L568.6,117.7M568.6,117.7L564.2,118.8M568.6,117.7L566.3,121.6M562.8,139.0L566.8,133.5M566.8,133.5L563.0,135.8M566.8,133.5L565.8,137.9M562.8,156.0L565.8,149.5M565.8,149.5L562.4,152.5M565.8,149.5L565.6,154.0M562.8,172.9L565.4,165.7M565.4,165.7L562.4,169.0M565.4,165.7L565.6,170.2M562.8,189.9L569.0,183.9M569.0,183.9L564.8,185.5M569.0,183.9L567.2,188.0M562.8,206.9L567.4,201.3M567.4,201.3L563.4,203.4M567.4,201.3L566.1,205.6M562.8,223.8L562.4,218.3M562.4,218.3L560.9,222.5M562.4,218.3L564.4,222.3M562.8,240.8L561.8,247.7M561.8,247.7L564.1,243.9M561.8,247.7L560.6,243.4M562.8,257.8L564.3,266.3M564.3,266.3L565.3,261.9M564.3,266.3L561.8,262.5M562.8,274.7L560.0,287.9M560.0,287.9L562.5,284.2M560.0,287.9L559.1,283.5M562.8,291.7L558.5,308.6M558.5,308.6L561.2,305.0M558.5,308.6L557.8,304.1M562.8,308.7L570.1,333.3M570.1,333.3L570.6,328.8M570.1,333.3L567.2,329.8M562.8,325.6L578.5,351.7M578.5,351.7L577.9,347.3M578.5,351.7L574.9,349.1M562.8,342.6L573.0,364.4M573.0,364.4L572.8,359.9M573.0,364.4L569.6,361.4M562.8,359.5L568.6,377.5M568.6,377.5L569.0,373.1M568.6,377.5L565.7,374.1M562.8,376.5L563.7,392.0M563.7,392.0L565.2,387.8M563.7,392.0L561.7,388.0M562.8,393.5L552.8,407.5M552.8,407.5L556.6,405.1M552.8,407.5L553.8,403.1M562.8,410.4L549.2,419.9M549.2,419.9L553.6,418.9M549.2,419.9L551.6,416.0M562.8,427.4L551.7,435.4M551.7,435.4L556.1,434.4M551.7,435.4L554.0,431.5M562.8,444.4L553.5,456.5M553.5,456.5L557.4,454.3M553.5,456.5L554.6,452.2M562.8,461.3L567.2,470.0M567.2,470.0L566.9,465.5M567.2,470.0L563.8,467.1M562.8,478.3L577.4,483.3M577.4,483.3L574.1,480.3M577.4,483.3L572.9,483.6M562.8,495.2L573.9,498.9M573.9,498.9L570.5,496.0M573.9,498.9L569.4,499.3M562.8,512.2L577.4,518.9M577.4,518.9L574.4,515.5M577.4,518.9L572.9,518.7M562.8,529.2L583.9,537.4M583.9,537.4L580.7,534.2M583.9,537.4L579.4,537.5M562.8,546.1L579.5,557.1M579.5,557.1L577.0,553.4M579.5,557.1L575.1,556.3M576.9,71.2L576.0,62.5M576.0,62.5L574.7,66.8M576.0,62.5L578.2,66.4M576.9,88.1L578.1,82.8M578.1,82.8L575.5,86.4M578.1,82.8L578.9,87.2M576.9,105.1L581.3,101.8M581.3,101.8L576.9,102.9M581.3,101.8L579.0,105.7M576.9,122.1L582.7,119.8M582.7,119.8L578.2,119.7M582.7,119.8L579.5,122.9M576.9,139.0L582.7,135.3M582.7,135.3L578.3,136.1M582.7,135.3L580.2,139.0M576.9,156.0L581.3,151.3M581.3,151.3L577.2,153.1M581.3,151.3L579.8,155.5M576.9,172.9L580.4,167.5M580.4,167.5L576.7,170.0M580.4,167.5L579.7,171.9M576.9,189.9L580.4,183.0M580.4,183.0L577.0,185.9M580.4,183.0L580.1,187.5M576.9,206.9L581.0,199.5M581.0,199.5L577.5,202.3M581.0,199.5L580.5,204.0M576.9,223.8L569.2,219.5M569.2,219.5L572.0,223.1M569.2,219.5L573.7,220.0M576.9,240.8L572.6,226.9M572.6,226.9L572.2,231.4M572.6,226.9L575.5,230.4M576.9,257.8L579.1,250.2M579.1,250.2L576.3,253.7M579.1,250.2L579.7,254.7M576.9,274.7L574.2,267.7M574.2,267.7L574.1,272.2M574.2,267.7L577.3,270.9M576.9,291.7L565.5,292.8M565.5,292.8L569.8,294.2M565.5,292.8L569.5,290.7M576.9,308.7L581.6,313.9M581.6,313.9L580.2,309.6M581.6,313.9L577.5,312.0M576.9,325.6L591.5,336.3M591.5,336.3L589.2,332.4M591.5,336.3L587.1,335.2M576.9,342.6L587.8,356.1M587.8,356.1L586.6,351.8M587.8,356.1L583.8,354.0M576.9,359.5L584.7,371.6M584.7,371.6L583.9,367.2M584.7,371.6L581.0,369.1M576.9,376.5L579.1,390.2M579.1,390.2L580.2,385.8M579.1,390.2L576.7,386.4M576.9,393.5L567.4,407.5M567.4,407.5L571.2,405.0M567.4,407.5L568.3,403.1M576.9,410.4L565.1,419.1M565.1,419.1L569.5,418.1M565.1,419.1L567.4,415.3M576.9,427.4L561.9,434.0M561.9,434.0L566.4,433.9M561.9,434.0L565.0,430.7M576.9,444.4L571.6,448.1M571.6,448.1L576.0,447.1M571.6,448.1L574.0,444.2M576.9,461.3L584.8,461.2M584.8,461.2L580.7,459.5M584.8,461.2L580.7,463.0M576.9,478.3L591.5,481.3M591.5,481.3L587.8,478.8M591.5,481.3L587.1,482.2M576.9,495.2L589.2,502.5M589.2,502.5L586.5,498.9M589.2,502.5L584.8,501.9M576.9,512.2L589.8,518.0M589.8,518.0L586.7,514.7M589.8,518.0L585.3,517.9M576.9,529.2L597.2,533.8M597.2,533.8L593.5,531.2M597.2,533.8L592.7,534.6M576.9,546.1L597.2,551.5M597.2,551.5L593.6,548.7M597.2,551.5L592.7,552.1M591.1,71.2L589.2,62.5M589.2,62.5L588.4,66.9M589.2,62.5L591.8,66.2M591.1,88.1L589.8,80.7M589.8,80.7L588.8,85.0M589.8,80.7L592.2,84.4M591.1,105.1L592.8,100.0M592.8,100.0L589.8,103.4M592.8,100.0L593.1,104.5M591.1,122.1L595.8,116.6M595.8,116.6L591.7,118.6M595.8,116.6L594.4,120.9M591.1,139.0L596.8,134.8M596.8,134.8L592.4,135.8M596.8,134.8L594.5,138.6M591.1,156.0L595.4,152.2M595.4,152.2L591.1,153.6M595.4,152.2L593.4,156.2M591.1,172.9L596.3,168.0M596.3,168.0L592.1,169.6M596.3,168.0L594.5,172.2M591.1,189.9L595.4,182.7M595.4,182.7L591.8,185.3M595.4,182.7L594.8,187.1M591.1,206.9L592.8,198.2M592.8,198.2L590.2,202.0M592.8,198.2L593.7,202.6M591.1,223.8L591.9,210.4M591.9,210.4L589.9,214.4M591.9,210.4L593.4,214.6M591.1,240.8L585.3,226.5M585.3,226.5L585.2,231.0M585.3,226.5L588.5,229.6M591.1,257.8L589.9,249.6M589.9,249.6L588.8,253.9M589.9,249.6L592.2,253.4M591.1,274.7L589.9,264.4M589.9,264.4L588.6,268.7M589.9,264.4L592.1,268.3M591.1,291.7L582.2,278.0M582.2,278.0L583.0,282.4M582.2,278.0L586.0,280.5M591.1,308.7L590.7,293.7M590.7,293.7L589.0,297.9M590.7,293.7L592.5,297.8M591.1,325.6L600.8,320.1M600.8,320.1L596.3,320.6M600.8,320.1L598.1,323.6M591.1,342.6L602.0,344.4M602.0,344.4L598.2,342.0M602.0,344.4L597.7,345.4M591.1,359.5L599.3,365.2M599.3,365.2L596.9,361.4M599.3,365.2L594.9,364.3M591.1,376.5L591.5,389.5M591.5,389.5L593.1,385.3M591.5,389.5L589.6,385.5M591.1,393.5L584.1,405.6M584.1,405.6L587.7,402.9M584.1,405.6L584.6,401.2M591.1,410.4L583.1,415.6M583.1,415.6L587.5,414.8M583.1,415.6L585.6,411.9M591.1,427.4L577.4,430.4M577.4,430.4L581.8,431.2M577.4,430.4L581.1,427.8M591.1,444.4L588.7,440.6M588.7,440.6L589.5,445.1M588.7,440.6L592.4,443.2M591.1,461.3L598.9,457.2M598.9,457.2L594.4,457.6M598.9,457.2L596.1,460.7M591.1,478.3L603.3,478.8M603.3,478.8L599.3,476.9M603.3,478.8L599.1,480.4M591.1,495.2L603.9,496.5M603.9,496.5L599.9,494.3M603.9,496.5L599.6,497.8M591.1,512.2L606.9,510.0M606.9,510.0L602.5,508.9M606.9,510.0L603.0,512.3M591.1,529.2L614.4,527.1M614.4,527.1L610.2,525.8M614.4,527.1L610.5,529.2M591.1,546.1L603.3,550.1M603.3,550.1L599.9,547.1M603.3,550.1L598.8,550.5M605.2,71.2L604.6,65.2M604.6,65.2L603.3,69.5M604.6,65.2L606.8,69.1M605.2,88.1L603.3,81.4M603.3,81.4L602.8,85.8M603.3,81.4L606.1,84.9M605.2,105.1L605.6,98.3M605.6,98.3L603.6,102.3M605.6,98.3L607.1,102.5M605.2,122.1L609.5,114.9M609.5,114.9L605.9,117.5M609.5,114.9L608.9,119.3M605.2,139.0L608.6,132.7M608.6,132.7L605.1,135.5M608.6,132.7L608.2,137.1M605.2,156.0L607.7,151.3M607.7,151.3L604.2,154.1M607.7,151.3L607.3,155.8M605.2,172.9L611.3,168.0M611.3,168.0L606.9,169.3M611.3,168.0L609.2,172.0M605.2,189.9L610.4,183.0M610.4,183.0L606.5,185.3M610.4,183.0L609.3,187.4M605.2,206.9L604.5,200.5M604.5,200.5L603.2,204.8M604.5,200.5L606.7,204.4M605.2,223.8L609.7,207.5M609.7,207.5L606.9,211.1M609.7,207.5L610.3,212.0M605.2,240.8L592.4,234.4M592.4,234.4L595.3,237.8M592.4,234.4L596.9,234.7M605.2,257.8L605.8,249.0M605.8,249.0L603.8,253.0M605.8,249.0L607.3,253.2M605.2,274.7L605.1,264.4M605.1,264.4L603.4,268.5M605.1,264.4L606.9,268.5M605.2,291.7L602.3,277.4M602.3,277.4L601.4,281.8M602.3,277.4L604.8,281.1M605.2,308.7L605.8,287.9M605.8,287.9L603.9,292.0M605.8,287.9L607.4,292.1M605.2,325.6L612.9,310.8M612.9,310.8L609.5,313.7M612.9,310.8L612.6,315.3M605.2,342.6L613.8,336.7M613.8,336.7L609.4,337.6M613.8,336.7L611.4,340.5M605.2,359.5L609.7,364.8M609.7,364.8L608.4,360.5M609.7,364.8L605.7,362.8M605.2,376.5L603.3,385.2M603.3,385.2L605.9,381.6M603.3,385.2L602.5,380.8M605.2,393.5L603.9,397.6M603.9,397.6L606.8,394.2M603.9,397.6L603.5,393.1M605.2,410.4L602.1,410.7M602.1,410.7L606.4,412.1M602.1,410.7L606.1,408.6M605.2,427.4L596.3,424.8M596.3,424.8L599.8,427.6M596.3,424.8L600.8,424.3M605.2,444.4L605.1,436.2M605.1,436.2L603.4,440.4M605.1,436.2L606.9,440.4M605.2,461.3L610.6,450.6M610.6,450.6L607.1,453.6M610.6,450.6L610.3,455.1M605.2,478.3L614.4,470.4M614.4,470.4L610.1,471.8M614.4,470.4L612.4,474.4M605.2,495.2L616.9,489.8M616.9,489.8L612.4,489.9M616.9,489.8L613.9,493.1M605.2,512.2L620.1,511.3M620.1,511.3L615.8,509.8M620.1,511.3L616.0,513.3M605.2,529.2L625.4,530.3M625.4,530.3L621.3,528.3M625.4,530.3L621.1,531.8M605.2,546.1L613.0,551.5M613.0,551.5L610.6,547.7M613.0,551.5L608.6,550.6M619.4,71.2L619.2,63.7M619.2,63.7L617.5,67.9M619.2,63.7L621.1,67.8M619.4,88.1L617.4,83.1M617.4,83.1L617.3,87.6M617.4,83.1L620.6,86.4M619.4,105.1L619.2,99.0M619.2,99.0L617.6,103.2M619.2,99.0L621.1,103.1M619.4,122.1L623.2,113.6M623.2,113.6L619.9,116.7M623.2,113.6L623.1,118.1M619.4,139.0L621.8,132.7M621.8,132.7L618.7,135.9M621.8,132.7L622.0,137.2M619.4,156.0L619.7,150.4M619.7,150.4L617.7,154.4M619.7,150.4L621.2,154.6M619.4,172.9L625.7,168.0M625.7,168.0L621.4,169.2M625.7,168.0L623.5,172.0M619.4,189.9L622.7,186.2M622.7,186.2L618.6,188.1M622.7,186.2L621.3,190.4M619.4,206.9L621.6,203.8M621.6,203.8L617.7,206.1M621.6,203.8L620.6,208.2M619.4,223.8L624.9,205.4M624.9,205.4L622.1,208.9M624.9,205.4L625.4,209.9M619.4,240.8L607.2,222.7M607.2,222.7L608.1,227.2M607.2,222.7L611.0,225.2M619.4,257.8L621.2,238.5M621.2,238.5L619.1,242.4M621.2,238.5L622.6,242.7M619.4,274.7L617.1,256.5M617.1,256.5L615.9,260.8M617.1,256.5L619.4,260.4M619.4,291.7L615.0,275.9M615.0,275.9L614.4,280.4M615.0,275.9L617.8,279.4M619.4,308.7L619.4,294.7M619.4,294.7L617.6,298.8M619.4,294.7L621.1,298.8M619.4,325.6L623.1,316.7M623.1,316.7L619.9,319.9M623.1,316.7L623.1,321.2M619.4,342.6L623.3,339.4M623.3,339.4L619.0,340.6M623.3,339.4L621.2,343.4M619.4,359.5L621.8,359.8M621.8,359.8L617.9,357.6M621.8,359.8L617.5,361.1M619.4,376.5L618.7,374.3M618.7,374.3L618.2,378.8M618.7,374.3L621.6,377.8M619.4,393.5L617.9,395.1M617.9,395.1L622.0,393.2M617.9,395.1L619.4,390.9M619.4,410.4L618.0,408.9M618.0,408.9L619.5,413.1M618.0,408.9L622.1,410.7M619.4,427.4L614.4,419.1M614.4,419.1L615.1,423.6M614.4,419.1L618.1,421.8M619.4,444.4L620.1,432.7M620.1,432.7L618.1,436.8M620.1,432.7L621.6,437.0M619.4,461.3L622.9,451.9M622.9,451.9L619.8,455.2M622.9,451.9L623.1,456.4M619.4,478.3L625.7,474.8M625.7,474.8L621.2,475.3M625.7,474.8L622.9,478.3M619.4,495.2L627.5,494.7M627.5,494.7L623.2,493.2M627.5,494.7L623.5,496.7M619.4,512.2L632.1,512.3M632.1,512.3L627.9,510.5M632.1,512.3L627.9,514.0M619.4,529.2L634.2,533.8M634.2,533.8L630.7,530.9M634.2,533.8L629.7,534.3M619.4,546.1L625.7,553.2M625.7,553.2L624.3,549.0M625.7,553.2L621.6,551.3M633.5,71.2L630.6,66.9M630.6,66.9L631.5,71.3M630.6,66.9L634.4,69.4M633.5,88.1L631.0,84.5M631.0,84.5L632.0,88.9M631.0,84.5L634.8,86.9M633.5,105.1L635.1,100.4M635.1,100.4L632.1,103.8M635.1,100.4L635.4,104.9M633.5,122.1L631.5,120.1M631.5,120.1L633.3,124.3M631.5,120.1L635.7,121.7M633.5,139.0L635.1,134.8M635.1,134.8L632.0,138.1M635.1,134.8L635.3,139.3M633.5,156.0L634.5,150.9M634.5,150.9L632.0,154.7M634.5,150.9L635.4,155.3M633.5,172.9L638.1,168.0M638.1,168.0L634.0,169.9M638.1,168.0L636.5,172.3M633.5,189.9L632.1,190.1M632.1,190.1L636.4,191.4M632.1,190.1L636.0,187.9M633.5,206.9L645.4,198.0M645.4,198.0L641.0,199.1M645.4,198.0L643.1,201.9M633.5,223.8L641.6,203.4M641.6,203.4L638.5,206.6M641.6,203.4L641.7,207.9M633.5,240.8L624.6,216.2M624.6,216.2L624.3,220.7M624.6,216.2L627.6,219.5M633.5,257.8L630.5,236.6M630.5,236.6L629.4,241.0M630.5,236.6L632.8,240.5M633.5,274.7L630.5,258.2M630.5,258.2L629.5,262.6M630.5,258.2L633.0,262.0M633.5,291.7L628.3,269.9M628.3,269.9L627.5,274.4M628.3,269.9L631.0,273.6M633.5,308.7L629.9,288.5M629.9,288.5L628.9,292.9M629.9,288.5L632.3,292.3M633.5,325.6L633.2,310.2M633.2,310.2L631.6,314.3M633.2,310.2L635.1,314.3M633.5,342.6L634.2,333.9M634.2,333.9L632.1,337.9M634.2,333.9L635.6,338.1M633.5,359.5L632.0,358.6M632.0,358.6L634.6,362.2M632.0,358.6L636.4,359.2M633.5,376.5L633.0,373.1M633.0,373.1L631.9,377.5M633.0,373.1L635.4,376.9M633.5,393.5L631.7,392.6M631.7,392.6L634.8,396.0M631.7,392.6L636.2,392.8M633.5,410.4L636.8,408.9M636.8,408.9L632.3,409.1M636.8,408.9L633.8,412.2M633.5,427.4L634.2,422.7M634.2,422.7L631.9,426.5M634.2,422.7L635.4,427.0M633.5,444.4L632.4,432.2M632.4,432.2L631.0,436.5M632.4,432.2L634.5,436.2M633.5,461.3L632.1,451.0M632.1,451.0L630.9,455.4M632.1,451.0L634.4,454.9M633.5,478.3L637.7,477.1M637.7,477.1L633.2,476.5M637.7,477.1L634.2,479.9M633.5,495.2L641.2,501.2M641.2,501.2L639.0,497.3M641.2,501.2L636.9,500.1M633.5,512.2L643.9,518.3M643.9,518.3L641.2,514.7M643.9,518.3L639.4,517.7M633.5,529.2L643.9,538.2M643.9,538.2L641.9,534.2M643.9,538.2L639.6,536.8M633.5,546.1L640.3,548.8M640.3,548.8L637.1,545.7M640.3,548.8L635.8,548.9M633.5,563.1L657.5,560.5M657.5,560.5L653.2,559.2M657.5,560.5L653.6,562.7M647.7,71.2L645.1,67.8M645.1,67.8L646.2,72.1M645.1,67.8L649.0,70.0M647.7,88.1L644.8,85.4M644.8,85.4L646.6,89.5M644.8,85.4L649.0,86.9M647.7,105.1L645.6,104.8M645.6,104.8L649.5,107.1M645.6,104.8L650.0,103.6M647.7,122.1L651.8,120.7M651.8,120.7L647.3,120.3M651.8,120.7L648.4,123.7M647.7,139.0L651.8,136.0M651.8,136.0L647.4,137.0M651.8,136.0L649.5,139.9M647.7,156.0L650.4,150.9M650.4,150.9L646.9,153.8M650.4,150.9L650.0,155.4M647.7,172.9L650.4,166.3M650.4,166.3L647.2,169.5M650.4,166.3L650.5,170.8M647.7,189.9L645.6,189.7M645.6,189.7L649.6,191.8M645.6,189.7L649.9,188.4M647.7,206.9L666.4,193.5M666.4,193.5L662.0,194.5M666.4,193.5L664.1,197.4M647.7,223.8L655.9,205.4M655.9,205.4L652.6,208.5M655.9,205.4L655.8,209.9M647.7,240.8L641.6,228.6M641.6,228.6L641.9,233.0M641.6,228.6L645.0,231.5M647.7,257.8L648.4,249.6M648.4,249.6L646.3,253.6M648.4,249.6L649.8,253.9M647.7,274.7L647.8,250.3M647.8,250.3L646.1,254.4M647.8,250.3L649.6,254.4M647.7,291.7L642.3,265.6M642.3,265.6L641.4,270.0M642.3,265.6L644.8,269.3M647.7,308.7L641.6,287.3M641.6,287.3L641.1,291.7M641.6,287.3L644.5,290.8M647.7,325.6L643.5,308.6M643.5,308.6L642.8,313.0M643.5,308.6L646.2,312.2M647.7,342.6L645.4,333.2M645.4,333.2L644.7,337.7M645.4,333.2L648.1,336.8M647.7,359.5L647.8,355.8M647.8,355.8L645.9,359.8M647.8,355.8L649.4,360.0M647.7,376.5L646.6,375.3M646.6,375.3L648.1,379.5M646.6,375.3L650.7,377.2M647.7,393.5L648.4,394.5M648.4,394.5L647.4,390.1M648.4,394.5L644.6,392.2M647.7,410.4L650.4,410.7M650.4,410.7L646.4,408.5M650.4,410.7L646.1,412.0M647.7,427.4L646.2,428.7M646.2,428.7L650.5,427.4M646.2,428.7L648.2,424.7M647.7,444.4L645.6,445.1M645.6,445.1L650.1,445.4M645.6,445.1L649.0,442.1M647.7,461.3L647.4,464.2M647.4,464.2L649.6,460.3M647.4,464.2L646.1,459.9M647.7,478.3L650.4,480.1M650.4,480.1L647.9,476.3M650.4,480.1L646.0,479.2M647.7,495.2L659.7,502.1M659.7,502.1L657.0,498.5M659.7,502.1L655.3,501.6M647.7,512.2L655.3,518.9M655.3,518.9L653.3,514.8M655.3,518.9L651.0,517.5M647.7,529.2L655.3,534.2M655.3,534.2L652.8,530.4M655.3,534.2L650.9,533.4M647.7,546.1L650.4,549.7M650.4,549.7L649.3,545.3M650.4,549.7L646.5,547.5M647.7,563.1L660.7,561.6M660.7,561.6L656.4,560.3M660.7,561.6L656.8,563.8M661.8,71.2L659.7,70.4M659.7,70.4L663.1,73.4M659.7,70.4L664.2,70.1M661.8,88.1L658.5,85.9M658.5,85.9L661.0,89.7M658.5,85.9L662.9,86.7M661.8,105.1L658.9,103.0M658.9,103.0L661.3,106.8M658.9,103.0L663.3,103.9M661.8,122.1L665.9,121.5M665.9,121.5L661.6,120.3M665.9,121.5L662.0,123.8M661.8,139.0L668.5,137.4M668.5,137.4L664.1,136.7M668.5,137.4L664.9,140.1M661.8,156.0L666.8,151.6M666.8,151.6L662.5,153.1M666.8,151.6L664.8,155.7M661.8,172.9L662.4,167.5M662.4,167.5L660.2,171.5M662.4,167.5L663.7,171.8M661.8,189.9L661.5,185.7M661.5,185.7L660.1,189.9M661.5,185.7L663.6,189.6M661.8,206.9L681.8,194.4M681.8,194.4L677.4,195.1M681.8,194.4L679.3,198.1M661.8,223.8L669.5,207.5M669.5,207.5L666.1,210.5M669.5,207.5L669.3,212.0M661.8,240.8L657.1,224.8M657.1,224.8L656.6,229.3M657.1,224.8L660.0,228.3M661.8,257.8L669.5,225.7M669.5,225.7L666.8,229.3M669.5,225.7L670.2,230.1M661.8,274.7L673.8,224.8M673.8,224.8L671.1,228.4M673.8,224.8L674.6,229.2M661.8,291.7L648.8,262.5M648.8,262.5L648.9,267.0M648.8,262.5L652.1,265.6M661.8,308.7L649.7,284.8M649.7,284.8L650.0,289.3M649.7,284.8L653.1,287.7M661.8,325.6L654.0,308.9M654.0,308.9L654.2,313.4M654.0,308.9L657.4,311.9M661.8,342.6L656.5,329.4M656.5,329.4L656.4,333.9M656.5,329.4L659.7,332.6M661.8,359.5L661.4,347.1M661.4,347.1L659.8,351.3M661.4,347.1L663.3,351.2M661.8,376.5L662.7,368.1M662.7,368.1L660.5,372.1M662.7,368.1L664.0,372.4M661.8,393.5L661.4,385.5M661.4,385.5L659.9,389.7M661.4,385.5L663.4,389.5M661.8,410.4L661.5,404.0M661.5,404.0L660.0,408.2M661.5,404.0L663.5,408.0M661.8,427.4L661.8,425.1M661.8,425.1L660.1,429.3M661.8,425.1L663.6,429.3M661.8,444.4L663.8,445.1M663.8,445.1L660.5,442.0M663.8,445.1L659.3,445.3M661.8,461.3L663.8,461.6M663.8,461.6L659.9,459.3M663.8,461.6L659.4,462.8M661.8,478.3L664.5,478.3M664.5,478.3L660.4,476.5M664.5,478.3L660.3,480.0M661.8,495.2L670.8,497.2M670.8,497.2L667.2,494.6M670.8,497.2L666.4,498.0M661.8,512.2L669.8,515.9M669.8,515.9L666.7,512.5M669.8,515.9L665.3,515.7M661.8,529.2L669.8,533.8M669.8,533.8L667.1,530.2M669.8,533.8L665.3,533.2M661.8,546.1L660.3,547.1M660.3,547.1L664.7,546.5M660.3,547.1L663.0,543.5M661.8,563.1L673.8,558.5M673.8,558.5L669.3,558.3M673.8,558.5L670.6,561.6M676.0,291.7L653.4,244.1M653.4,244.1L653.6,248.6M653.4,244.1L656.8,247.1M676.0,308.7L657.7,277.4M657.7,277.4L658.3,281.8M657.7,277.4L661.3,280.1M676.0,325.6L663.9,305.2M663.9,305.2L664.5,309.7M663.9,305.2L667.5,307.9M676.0,342.6L670.1,324.5M670.1,324.5L669.7,328.9M670.1,324.5L673.0,327.9M676.0,359.5L673.0,345.5M673.0,345.5L672.2,350.0M673.0,345.5L675.6,349.2M676.0,376.5L674.0,366.5M674.0,366.5L673.1,370.9M674.0,366.5L676.5,370.2M676.0,393.5L674.0,385.5M674.0,385.5L673.3,389.9M674.0,385.5L676.7,389.1M676.0,410.4L674.0,402.4M674.0,402.4L673.3,406.9M674.0,402.4L676.7,406.0M676.0,427.4L674.5,420.4M674.5,420.4L673.7,424.8M674.5,420.4L677.1,424.1M676.0,444.4L674.5,435.4M674.5,435.4L673.5,439.7M674.5,435.4L676.9,439.2" stroke="#000" stroke-width="1.3" fill="none" stroke-linecap="butt" stroke-linejoin="miter"/>
<rect x="124.0" y="54.2" width="552.0" height="508.9" fill="none" stroke="#000" stroke-width="1.8"/>
<path d="M124.0,563.1V54.2" stroke="#adadad" stroke-width="1.2" stroke-dasharray="2.2,4.33" fill="none"/>
<path d="M124.0,563.1v4M194.8,563.1v4M265.5,563.1v4M336.3,563.1v4M407.1,563.1v4M477.8,563.1v4M548.6,563.1v4M619.4,563.1v4M124.0,105.1h-4.5M124.0,189.9h-4.5M124.0,274.7h-4.5M124.0,359.5h-4.5M124.0,444.4h-4.5M124.0,529.2h-4.5" stroke="#000" stroke-width="1.3" fill="none"/>
<g opacity="0.996">
<text x="124.0" y="579" font-size="12.4" text-anchor="middle" stroke="#000" stroke-width="0.6">28.5</text>
<text x="194.8" y="579" font-size="12.4" text-anchor="middle" stroke="#000" stroke-width="0.6">29</text>
<text x="265.5" y="579" font-size="12.4" text-anchor="middle" stroke="#000" stroke-width="0.6">29.5</text>
<text x="336.3" y="579" font-size="12.4" text-anchor="middle" stroke="#000" stroke-width="0.6">30</text>
<text x="407.1" y="579" font-size="12.4" text-anchor="middle" stroke="#000" stroke-width="0.6">30.5</text>
<text x="477.8" y="579" font-size="12.4" text-anchor="middle" stroke="#000" stroke-width="0.6">31</text>
<text x="548.6" y="579" font-size="12.4" text-anchor="middle" stroke="#000" stroke-width="0.6">31.5</text>
<text x="619.4" y="579" font-size="12.4" text-anchor="middle" stroke="#000" stroke-width="0.6">32</text>
<text x="117.5" y="109.7" font-size="12.4" text-anchor="end" stroke="#000" stroke-width="0.6">45.5</text>
<text x="117.5" y="194.5" font-size="12.4" text-anchor="end" stroke="#000" stroke-width="0.6">45</text>
<text x="117.5" y="279.3" font-size="12.4" text-anchor="end" stroke="#000" stroke-width="0.6">44.5</text>
<text x="117.5" y="364.1" font-size="12.4" text-anchor="end" stroke="#000" stroke-width="0.6">44</text>
<text x="117.5" y="449.0" font-size="12.4" text-anchor="end" stroke="#000" stroke-width="0.6">43.5</text>
<text x="117.5" y="533.8" font-size="12.4" text-anchor="end" stroke="#000" stroke-width="0.6">43</text>
<text transform="translate(20.0,42.0) scale(0.86,1)" font-size="25.2" textLength="93.8" lengthAdjust="spacing" class="thin" >Current</text>
<text transform="translate(115.5,42.0) scale(0.86,1)" font-size="25.2" textLength="93.2" lengthAdjust="spacing" class="thin" >velocity</text>
<text transform="translate(213.0,42.0) scale(0.96,1)" font-size="25.2" textLength="78.1" lengthAdjust="spacing" class="thin" >(m/s).</text>
<text transform="translate(304.0,42.0) scale(0.81,1)" font-size="25.2" textLength="58.3" lengthAdjust="spacing" class="thin" >Date</text>
<text transform="translate(368.0,42.0) scale(0.95,1)" font-size="25.2" textLength="141.0" lengthAdjust="spacing" class="thin" >2025.03.25.</text>
<text transform="translate(517.5,42.0) scale(0.84,1)" font-size="25.2" textLength="59.8" lengthAdjust="spacing" class="thin" >Time</text>
<text transform="translate(584.5,42.0) scale(0.96,1)" font-size="25.2" textLength="144.3" lengthAdjust="spacing" class="thin" >00(h):00(m)</text>
<text transform="translate(739.5,42.0) scale(0.70,1)" font-size="25.2" textLength="59.2" lengthAdjust="spacing" class="thin" >GMT</text>
<text transform="translate(323.8,605.8) scale(0.88,1)" font-size="20.3" textLength="98.0" lengthAdjust="spacing" class="thin" >Longitude</text>
<text transform="translate(422.5,605.8) scale(0.88,1)" font-size="20.3" textLength="61.1" lengthAdjust="spacing" class="thin" >(East)</text>
<text transform="translate(82.4,381.8) rotate(-90) scale(0.88,1)" font-size="20.3" textLength="77.2" lengthAdjust="spacing" class="thin">Latitude</text>
<text transform="translate(82.4,298.6) rotate(-90) scale(0.88,1)" font-size="20.3" textLength="72.7" lengthAdjust="spacing" class="thin">(North)</text>
<text x="146.5" y="110" font-size="21.6" textLength="12.8" lengthAdjust="spacingAndGlyphs" class="thin" style="fill:#4c4c4c">Z</text>
<text x="176.0" y="110" font-size="21.6" textLength="14.3" lengthAdjust="spacingAndGlyphs" class="thin" style="fill:#4c4c4c">=</text>
<text x="206.0" y="110" font-size="21.6" textLength="34.3" lengthAdjust="spacingAndGlyphs" class="thin" style="fill:#4c4c4c">2.5</text>
<text x="256.0" y="110" font-size="21.6" textLength="18.0" lengthAdjust="spacingAndGlyphs" class="thin" style="fill:#4c4c4c">m</text>
</g>
<rect x="709" y="550" width="14" height="6" fill="#0033ff"/>
<rect x="709" y="544" width="14" height="6" fill="#0033ff"/>
<rect x="709" y="538" width="14" height="6" fill="#0033ff"/>
<rect x="709" y="532" width="14" height="6" fill="#0033ff"/>
<rect x="709" y="526" width="14" height="6" fill="#0033ff"/>
<rect x="709" y="520" width="14" height="6" fill="#0033ff"/>
<rect x="709" y="514" width="14" height="6" fill="#0033ff"/>
<rect x="709" y="508" width="14" height="6" fill="#0033ff"/>
<rect x="709" y="502" width="14" height="6" fill="#0033ff"/>
<rect x="709" y="496" width="14" height="6" fill="#0033ff"/>
<rect x="709" y="490" width="14" height="6" fill="#0033ff"/>
<rect x="709" y="484" width="14" height="6" fill="#0033ff"/>
<rect x="709" y="478" width="14" height="6" fill="#0033ff"/>
<rect x="709" y="472" width="14" height="6" fill="#0033ff"/>
<rect x="709" y="466" width="14" height="6" fill="#0035ff"/>
<rect x="709" y="460" width="14" height="6" fill="#0041ff"/>
<rect x="709" y="454" width="14" height="6" fill="#004eff"/>
<rect x="709" y="448" width="14" height="6" fill="#005aff"/>
<rect x="709" y="442" width="14" height="6" fill="#0067ff"/>
<rect x="709" y="436" width="14" height="6" fill="#0073ff"/>
<rect x="709" y="429" width="14" height="7" fill="#0080ff"/>
<rect x="709" y="423" width="14" height="6" fill="#008cff"/>
<rect x="709" y="417" width="14" height="6" fill="#0098ff"/>
<rect x="709" y="411" width="14" height="6" fill="#00a5ff"/>
<rect x="709" y="405" width="14" height="6" fill="#00b1ff"/>
<rect x="709" y="399" width="14" height="6" fill="#00beff"/>
<rect x="709" y="393" width="14" height="6" fill="#00caff"/>
<rect x="709" y="387" width="14" height="6" fill="#00d7ff"/>
<rect x="709" y="381" width="14" height="6" fill="#00e3ff"/>
<rect x="709" y="375" width="14" height="6" fill="#00efff"/>
<rect x="709" y="369" width="14" height="6" fill="#00fcff"/>
<rect x="709" y="363" width="14" height="6" fill="#09fff6"/>
<rect x="709" y="357" width="14" height="6" fill="#16ffe9"/>
<rect x="709" y="351" width="14" height="6" fill="#22ffdd"/>
<rect x="709" y="345" width="14" height="6" fill="#2fffd0"/>
<rect x="709" y="339" width="14" height="6" fill="#3bffc4"/>
<rect x="709" y="333" width="14" height="6" fill="#48ffb7"/>
<rect x="709" y="327" width="14" height="6" fill="#54ffab"/>
<rect x="709" y="321" width="14" height="6" fill="#60ff9f"/>
<rect x="709" y="315" width="14" height="6" fill="#6dff92"/>
<rect x="709" y="309" width="14" height="6" fill="#79ff86"/>
<rect x="709" y="303" width="14" height="6" fill="#86ff79"/>
<rect x="709" y="297" width="14" height="6" fill="#92ff6d"/>
<rect x="709" y="291" width="14" height="6" fill="#9fff60"/>
<rect x="709" y="285" width="14" height="6" fill="#abff54"/>
<rect x="709" y="279" width="14" height="6" fill="#b7ff48"/>
<rect x="709" y="273" width="14" height="6" fill="#c4ff3b"/>
<rect x="709" y="267" width="14" height="6" fill="#d0ff2f"/>
<rect x="709" y="261" width="14" height="6" fill="#ddff22"/>
<rect x="709" y="255" width="14" height="6" fill="#e9ff16"/>
<rect x="709" y="249" width="14" height="6" fill="#f6ff09"/>
<rect x="709" y="243" width="14" height="6" fill="#fffc00"/>
<rect x="709" y="237" width="14" height="6" fill="#ffef00"/>
<rect x="709" y="231" width="14" height="6" fill="#ffe300"/>
<rect x="709" y="225" width="14" height="6" fill="#ffd700"/>
<rect x="709" y="219" width="14" height="6" fill="#ffca00"/>
<rect x="709" y="213" width="14" height="6" fill="#ffbe00"/>
<rect x="709" y="207" width="14" height="6" fill="#ffb100"/>
<rect x="709" y="201" width="14" height="6" fill="#ffa500"/>
<rect x="709" y="195" width="14" height="6" fill="#ff9800"/>
<rect x="709" y="189" width="14" height="6" fill="#ff8c00"/>
<rect x="709" y="182" width="14" height="7" fill="#ff8000"/>
<rect x="709" y="176" width="14" height="6" fill="#ff7300"/>
<rect x="709" y="170" width="14" height="6" fill="#ff6700"/>
<rect x="709" y="164" width="14" height="6" fill="#ff5a00"/>
<rect x="709" y="158" width="14" height="6" fill="#ff4e00"/>
<rect x="709" y="152" width="14" height="6" fill="#ff4100"/>
<rect x="709" y="146" width="14" height="6" fill="#ff3500"/>
<rect x="709" y="140" width="14" height="6" fill="#ff2800"/>
<rect x="709" y="134" width="14" height="6" fill="#ff1c00"/>
<rect x="709" y="128" width="14" height="6" fill="#ff1000"/>
<rect x="709" y="122" width="14" height="6" fill="#ff0300"/>
<rect x="709" y="116" width="14" height="6" fill="#f60000"/>
<rect x="709" y="110" width="14" height="6" fill="#e90000"/>
<rect x="709" y="104" width="14" height="6" fill="#dd0000"/>
<rect x="709" y="98" width="14" height="6" fill="#d00000"/>
<rect x="709" y="92" width="14" height="6" fill="#c40000"/>
<rect x="709" y="86" width="14" height="6" fill="#b70000"/>
<rect x="709" y="80" width="14" height="6" fill="#ab0000"/>
<rect x="709" y="74" width="14" height="6" fill="#9f0000"/>
<rect x="709" y="68" width="14" height="6" fill="#920000"/>
<rect x="709" y="62" width="14" height="6" fill="#860000"/>
<g opacity="0.996">
<text x="735" y="73.0" font-size="13.7" textLength="29.5" lengthAdjust="spacingAndGlyphs">0.84</text>
<text x="735" y="189.0" font-size="13.7" textLength="29.5" lengthAdjust="spacingAndGlyphs">0.64</text>
<text x="735" y="311.0" font-size="13.7" textLength="29.5" lengthAdjust="spacingAndGlyphs">0.42</text>
<text x="735" y="433.0" font-size="13.7" textLength="29.5" lengthAdjust="spacingAndGlyphs">0.21</text>
<text x="735" y="555.0" font-size="13.7" textLength="29.5" lengthAdjust="spacingAndGlyphs">0.00</text>
</g>
</svg></body></html>
